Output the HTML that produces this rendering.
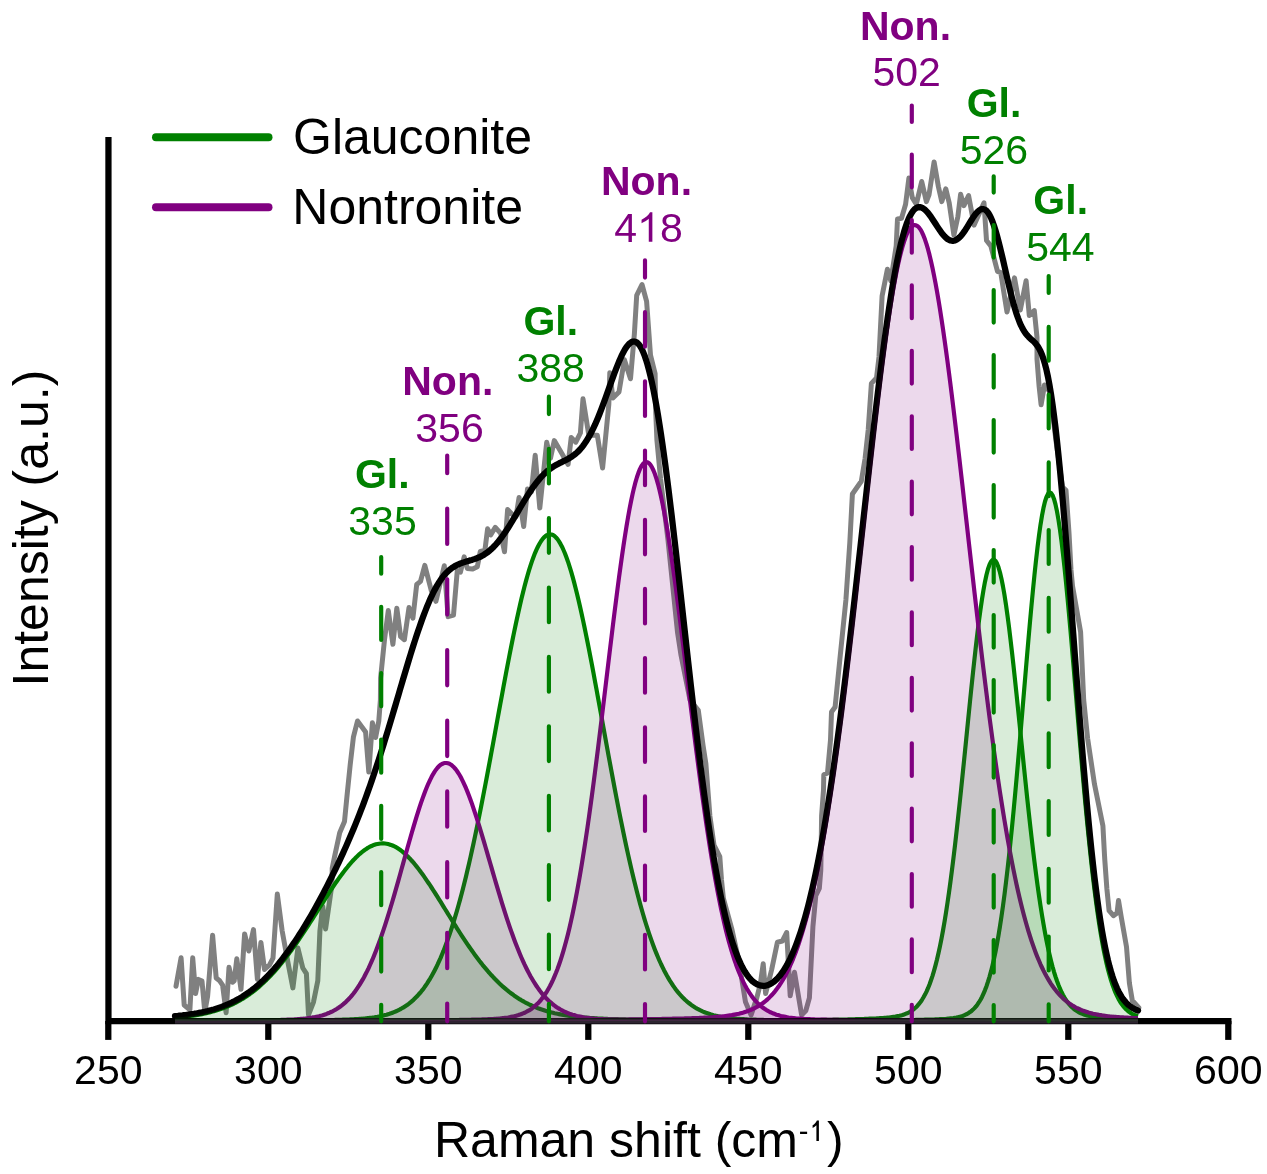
<!DOCTYPE html>
<html><head><meta charset="utf-8"><title>Raman</title>
<style>
html,body{margin:0;padding:0;background:#fff;}
body{width:1267px;height:1174px;overflow:hidden;}
svg{display:block;font-family:"Liberation Sans",sans-serif;will-change:transform;}
</style></head><body>
<svg width="1267" height="1174" viewBox="0 0 1267 1174">
<rect width="1267" height="1174" fill="#fff"/>

<!-- raw data -->
<path id="raw" d="M176.0,986.2 L181.1,957.8 L184.2,1005.0 L189.9,1009.9 L192.7,957.8 L195.6,993.6 L198.4,979.4 L202.0,981.1 L204.8,1012.1 L207.6,996.4 L212.6,935.3 L216.2,978.0 L219.7,980.8 L222.6,985.1 L226.1,1012.8 L229.0,967.3 L232.5,982.2 L234.2,980.8 L236.8,958.8 L241.0,989.3 L244.6,933.9 L248.8,951.0 L253.5,929.6 L257.4,979.4 L260.9,942.4 L264.5,969.4 L269.4,965.2 L273.0,958.1 L277.3,894.1 L282.2,931.1 L287.9,962.3 L292.9,987.9 L297.9,948.1 L302.8,968.0 L306.4,973.7 L308.5,1014.9 L313.5,1002.1 L317.8,980.8 L319.9,931.1 L322.7,906.2 L325.6,928.9 L332.0,884.2 L332.2,868.3 L334.8,855.4 L339.7,832.7 L344.5,821.4 L346.9,797.1 L350.2,764.7 L353.4,737.2 L357.5,721.0 L365.6,732.0 L368.8,772.0 L372.4,722.7 L375.6,737.5 L378.8,721.0 L380.4,700.0 L380.6,678.0 L384.5,639.7 L388.3,610.5 L392.9,644.3 L396.8,608.2 L400.6,636.6 L404.4,639.7 L409.0,607.5 L412.9,618.2 L416.7,584.5 L420.5,581.4 L424.8,565.3 L431.3,590.6 L435.9,601.3 L444.3,565.8 L448.1,616.7 L453.5,615.1 L457.3,570.4 L460.4,572.2 L464.2,556.9 L467.3,568.4 L472.7,569.1 L477.3,566.8 L480.3,551.5 L484.9,550.4 L487.6,528.8 L490.7,534.9 L495.3,527.3 L500.7,533.4 L504.5,551.8 L507.6,509.6 L512.9,515.0 L516.0,516.5 L519.1,497.4 L523.7,526.5 L527.5,488.9 L531.3,492.0 L535.2,455.2 L539.8,508.1 L546.7,442.2 L550.5,458.3 L554.3,440.6 L562.0,453.7 L568.1,464.4 L571.2,437.6 L575.8,442.2 L580.4,433.0 L583.0,398.8 L588.8,435.2 L597.3,435.2 L602.6,468.0 L608.8,404.6 L609.8,372.7 L612.9,398.0 L619.0,391.9 L624.4,359.7 L630.5,378.8 L634.4,333.6 L636.7,295.3 L642.0,284.5 L646.6,301.4 L650.5,355.1 L655.1,373.5 L655.8,413.3 L656.9,440.0 L660.6,479.0 L668.0,540.0 L677.5,632.0 L681.0,655.0 L690.0,700.0 L698.3,710.4 L703.0,745.0 L705.9,764.0 L706.5,772.0 L709.9,816.0 L714.0,845.0 L719.8,856.6 L721.5,880.0 L723.4,898.4 L732.0,929.7 L739.1,962.4 L745.5,1002.1 L751.1,1014.9 L756.8,997.9 L760.4,983.7 L763.2,963.8 L765.6,993.6 L771.7,969.5 L777.4,942.2 L782.4,941.0 L786.7,932.5 L790.2,995.8 L794.5,972.3 L801.6,1014.9 L805.8,1010.7 L809.4,997.9 L812.9,926.8 L815.8,895.6 L819.3,888.5 L820.8,870.0 L821.2,846.0 L821.6,816.0 L823.5,790.0 L823.8,774.8 L827.5,773.0 L830.5,740.0 L831.5,712.0 L835.1,707.0 L839.7,661.0 L845.9,600.0 L849.8,542.7 L852.4,494.0 L861.3,481.3 L865.1,458.3 L868.2,430.0 L871.4,383.4 L876.5,378.0 L879.0,357.0 L882.1,296.0 L887.4,269.3 L890.8,280.8 L896.2,245.9 L897.5,219.0 L901.5,218.4 L905.6,204.3 L908.9,178.1 L912.3,197.6 L916.3,204.3 L921.7,181.5 L926.4,201.6 L929.0,194.9 L934.1,162.0 L938.4,186.8 L941.8,201.6 L945.8,188.8 L949.2,202.9 L953.9,235.1 L957.9,216.4 L960.6,194.2 L963.9,205.6 L968.6,195.6 L972.0,213.7 L974.0,225.1 L984.0,202.9 L986.5,240.5 L990.8,245.9 L997.5,271.4 L1000.8,272.7 L1003.6,290.9 L1007.0,312.0 L1014.5,277.9 L1020.3,310.0 L1026.1,280.7 L1029.3,315.4 L1034.3,310.6 L1037.0,337.2 L1037.0,359.0 L1039.1,386.3 L1041.1,404.7 L1044.5,385.0 L1050.0,392.0 L1056.0,441.0 L1062.5,487.0 L1066.0,490.4 L1069.0,533.0 L1071.0,570.0 L1072.5,586.0 L1080.6,632.0 L1083.7,700.0 L1087.6,738.3 L1094.5,784.3 L1102.9,825.7 L1104.4,853.3 L1104.8,860.0 L1106.9,889.0 L1109.1,910.7 L1113.4,915.7 L1117.1,912.9 L1118.5,900.5 L1121.4,917.9 L1126.5,946.9 L1129.4,983.1 L1132.3,1000.5 L1138.8,1007.7" fill="none" stroke="#808080" stroke-width="5" stroke-linejoin="round" stroke-linecap="round"/>
<!-- component lines -->
<g id="lines"><path d="M175.0,1017.6 L176.5,1017.5 L178.0,1017.4 L179.5,1017.2 L181.0,1017.1 L182.5,1016.9 L184.0,1016.8 L185.5,1016.6 L187.0,1016.4 L188.5,1016.2 L190.0,1016.0 L191.5,1015.8 L193.0,1015.6 L194.5,1015.4 L196.0,1015.1 L197.5,1014.9 L199.0,1014.6 L200.5,1014.4 L202.0,1014.1 L203.5,1013.8 L205.0,1013.4 L206.5,1013.1 L208.0,1012.8 L209.5,1012.4 L211.0,1012.0 L212.5,1011.6 L214.0,1011.2 L215.5,1010.8 L217.0,1010.3 L218.5,1009.8 L220.0,1009.3 L221.5,1008.8 L223.0,1008.3 L224.5,1007.7 L226.0,1007.1 L227.5,1006.5 L229.0,1005.8 L230.5,1005.2 L232.0,1004.5 L233.5,1003.8 L235.0,1003.0 L236.5,1002.3 L238.0,1001.4 L239.5,1000.6 L241.0,999.7 L242.5,998.9 L244.0,997.9 L245.5,997.0 L247.0,996.0 L248.5,994.9 L250.0,993.9 L251.5,992.8 L253.0,991.7 L254.5,990.5 L256.0,989.3 L257.5,988.1 L259.0,986.8 L260.5,985.5 L262.0,984.1 L263.5,982.7 L265.0,981.3 L266.5,979.9 L268.0,978.4 L269.5,976.8 L271.0,975.2 L272.5,973.6 L274.0,972.0 L275.5,970.3 L277.0,968.6 L278.5,966.8 L280.0,965.0 L281.5,963.2 L283.0,961.3 L284.5,959.4 L286.0,957.5 L287.5,955.5 L289.0,953.5 L290.5,951.4 L292.0,949.4 L293.5,947.3 L295.0,945.2 L296.5,943.0 L298.0,940.8 L299.5,938.6 L301.0,936.4 L302.5,934.2 L304.0,931.9 L305.5,929.6 L307.0,927.3 L308.5,925.0 L310.0,922.7 L311.5,920.3 L313.0,918.0 L314.5,915.6 L316.0,913.3 L317.5,910.9 L319.0,908.5 L320.5,906.2 L322.0,903.8 L323.5,901.5 L325.0,899.1 L326.5,896.8 L328.0,894.5 L329.5,892.2 L331.0,889.9 L332.5,887.6 L334.0,885.4 L335.5,883.2 L337.0,881.0 L338.5,878.9 L340.0,876.8 L341.5,874.8 L343.0,872.7 L344.5,870.8 L346.0,868.8 L347.5,867.0 L349.0,865.1 L350.5,863.4 L352.0,861.7 L353.5,860.0 L355.0,858.5 L356.5,856.9 L358.0,855.5 L359.5,854.1 L361.0,852.8 L362.5,851.6 L364.0,850.5 L365.5,849.4 L367.0,848.4 L368.5,847.5 L370.0,846.7 L371.5,846.0 L373.0,845.3 L374.5,844.8 L376.0,844.3 L377.5,844.0 L379.0,843.7 L380.5,843.5 L382.0,843.4 L383.5,843.4 L385.0,843.5 L386.5,843.7 L388.0,844.0 L389.5,844.4 L391.0,844.9 L392.5,845.5 L394.0,846.2 L395.5,846.9 L397.0,847.8 L398.5,848.8 L400.0,849.8 L401.5,850.9 L403.0,852.1 L404.5,853.4 L406.0,854.8 L407.5,856.2 L409.0,857.8 L410.5,859.3 L412.0,861.0 L413.5,862.7 L415.0,864.5 L416.5,866.4 L418.0,868.3 L419.5,870.2 L421.0,872.3 L422.5,874.3 L424.0,876.4 L425.5,878.6 L427.0,880.8 L428.5,883.0 L430.0,885.2 L431.5,887.5 L433.0,889.8 L434.5,892.2 L436.0,894.5 L437.5,896.9 L439.0,899.3 L440.5,901.7 L442.0,904.1 L443.5,906.6 L445.0,909.0 L446.5,911.4 L448.0,913.8 L449.5,916.3 L451.0,918.7 L452.5,921.1 L454.0,923.5 L455.5,925.9 L457.0,928.3 L458.5,930.6 L460.0,933.0 L461.5,935.3 L463.0,937.6 L464.5,939.8 L466.0,942.1 L467.5,944.3 L469.0,946.5 L470.5,948.7 L472.0,950.8 L473.5,952.9 L475.0,955.0 L476.5,957.0 L478.0,959.0 L479.5,961.0 L481.0,962.9 L482.5,964.8 L484.0,966.6 L485.5,968.4 L487.0,970.2 L488.5,972.0 L490.0,973.6 L491.5,975.3 L493.0,976.9 L494.5,978.5 L496.0,980.0 L497.5,981.5 L499.0,983.0 L500.5,984.4 L502.0,985.8 L503.5,987.1 L505.0,988.4 L506.5,989.7 L508.0,990.9 L509.5,992.1 L511.0,993.2 L512.5,994.3 L514.0,995.4 L515.5,996.4 L517.0,997.4 L518.5,998.4 L520.0,999.4 L521.5,1000.3 L523.0,1001.1 L524.5,1002.0 L526.0,1002.8 L527.5,1003.5 L529.0,1004.3 L530.5,1005.0 L532.0,1005.7 L533.5,1006.4 L535.0,1007.0 L536.5,1007.6 L538.0,1008.2 L539.5,1008.7 L541.0,1009.3 L542.5,1009.8 L544.0,1010.3 L545.5,1010.8 L547.0,1011.2 L548.5,1011.6 L550.0,1012.0 L551.5,1012.4 L553.0,1012.8 L554.5,1013.2 L556.0,1013.5 L557.5,1013.8 L559.0,1014.1 L560.5,1014.4 L562.0,1014.7 L563.5,1015.0 L565.0,1015.2 L566.5,1015.5 L568.0,1015.7 L569.5,1015.9 L571.0,1016.1 L572.5,1016.3 L574.0,1016.5 L575.5,1016.7 L577.0,1016.9 L578.5,1017.0 L580.0,1017.2 L581.5,1017.3 L583.0,1017.5 L584.5,1017.6 L586.0,1017.7 L587.5,1017.8 L589.0,1017.9 L590.5,1018.0 L592.0,1018.1 L593.5,1018.2 L595.0,1018.3 L596.5,1018.4 L598.0,1018.5 L599.5,1018.6 L601.0,1018.6 L602.5,1018.7 L604.0,1018.8 L605.5,1018.8 L607.0,1018.9 L608.5,1019.0 L610.0,1019.0 L611.5,1019.1 L613.0,1019.1 L614.5,1019.2 L616.0,1019.2 L617.5,1019.2 L619.0,1019.3 L620.5,1019.3 L622.0,1019.4 L623.5,1019.4 L625.0,1019.4 L626.5,1019.5 L628.0,1019.5 L629.5,1019.5 L631.0,1019.5 L632.5,1019.6 L634.0,1019.6 L635.5,1019.6 L637.0,1019.7 L638.5,1019.7 L640.0,1019.7 L641.5,1019.7 L643.0,1019.7 L644.5,1019.8 L646.0,1019.8 L647.5,1019.8 L649.0,1019.8 L650.5,1019.8 L652.0,1019.9 L653.5,1019.9 L655.0,1019.9 L656.5,1019.9 L658.0,1019.9 L659.5,1019.9 L661.0,1020.0 L662.5,1020.0 L664.0,1020.0 L665.5,1020.0 L667.0,1020.0 L668.5,1020.0 L670.0,1020.0 L671.5,1020.1 L673.0,1020.1 L674.5,1020.1 L676.0,1020.1 L677.5,1020.1 L679.0,1020.1 L680.5,1020.1 L682.0,1020.1 L683.5,1020.2 L685.0,1020.2 L686.5,1020.2 L688.0,1020.2 L689.5,1020.2 L691.0,1020.2 L692.5,1020.2 L694.0,1020.2 L695.5,1020.2 L697.0,1020.2 L698.5,1020.3 L700.0,1020.3 L701.5,1020.3 L703.0,1020.3 L704.5,1020.3 L706.0,1020.3 L707.5,1020.3 L709.0,1020.3 L710.5,1020.3 L712.0,1020.3 L713.5,1020.3 L715.0,1020.4 L716.5,1020.4 L718.0,1020.4 L719.5,1020.4 L721.0,1020.4 L722.5,1020.4 L724.0,1020.4 L725.5,1020.4 L727.0,1020.4 L728.5,1020.4 L730.0,1020.4 L731.5,1020.4 L733.0,1020.4 L734.5,1020.4 L736.0,1020.5 L737.5,1020.5 L739.0,1020.5 L740.5,1020.5 L742.0,1020.5 L743.5,1020.5 L745.0,1020.5 L746.5,1020.5 L748.0,1020.5 L749.5,1020.5 L751.0,1020.5 L752.5,1020.5 L754.0,1020.5 L755.5,1020.5 L757.0,1020.5 L758.5,1020.5 L760.0,1020.6 L761.5,1020.6 L763.0,1020.6 L764.5,1020.6 L766.0,1020.6 L767.5,1020.6 L769.0,1020.6 L770.5,1020.6 L772.0,1020.6 L773.5,1020.6 L775.0,1020.6 L776.5,1020.6 L778.0,1020.6 L779.5,1020.6 L781.0,1020.6 L782.5,1020.6 L784.0,1020.6 L785.5,1020.6 L787.0,1020.6 L788.5,1020.7 L790.0,1020.7 L791.5,1020.7 L793.0,1020.7 L794.5,1020.7 L796.0,1020.7 L797.5,1020.7 L799.0,1020.7 L800.5,1020.7 L802.0,1020.7 L803.5,1020.7 L805.0,1020.7 L806.5,1020.7 L808.0,1020.7 L809.5,1020.7 L811.0,1020.7 L812.5,1020.7 L814.0,1020.7 L815.5,1020.7 L817.0,1020.7 L818.5,1020.7 L820.0,1020.7 L821.5,1020.7 L823.0,1020.7 L824.5,1020.8 L826.0,1020.8 L827.5,1020.8 L829.0,1020.8 L830.5,1020.8 L832.0,1020.8 L833.5,1020.8 L835.0,1020.8 L836.5,1020.8 L838.0,1020.8 L839.5,1020.8 L841.0,1020.8 L842.5,1020.8 L844.0,1020.8 L845.5,1020.8 L847.0,1020.8 L848.5,1020.8 L850.0,1020.8 L851.5,1020.8 L853.0,1020.8 L854.5,1020.8 L856.0,1020.8 L857.5,1020.8 L859.0,1020.8 L860.5,1020.8 L862.0,1020.8 L863.5,1020.8 L865.0,1020.8 L866.5,1020.8 L868.0,1020.8 L869.5,1020.8 L871.0,1020.8 L872.5,1020.9 L874.0,1020.9 L875.5,1020.9 L877.0,1020.9 L878.5,1020.9 L880.0,1020.9 L881.5,1020.9 L883.0,1020.9 L884.5,1020.9 L886.0,1020.9 L887.5,1020.9 L889.0,1020.9 L890.5,1020.9 L892.0,1020.9 L893.5,1020.9 L895.0,1020.9 L896.5,1020.9 L898.0,1020.9 L899.5,1020.9 L901.0,1020.9 L902.5,1020.9 L904.0,1020.9 L905.5,1020.9 L907.0,1020.9 L908.5,1020.9 L910.0,1020.9 L911.5,1020.9 L913.0,1020.9 L914.5,1020.9 L916.0,1020.9 L917.5,1020.9 L919.0,1020.9 L920.5,1020.9 L922.0,1020.9 L923.5,1020.9 L925.0,1020.9 L926.5,1020.9 L928.0,1020.9 L929.5,1020.9 L931.0,1020.9 L932.5,1020.9 L934.0,1020.9 L935.5,1020.9 L937.0,1020.9 L938.5,1020.9 L940.0,1021.0 L941.5,1021.0 L943.0,1021.0 L944.5,1021.0 L946.0,1021.0 L947.5,1021.0 L949.0,1021.0 L950.5,1021.0 L952.0,1021.0 L953.5,1021.0 L955.0,1021.0 L956.5,1021.0 L958.0,1021.0 L959.5,1021.0 L961.0,1021.0 L962.5,1021.0 L964.0,1021.0 L965.5,1021.0 L967.0,1021.0 L968.5,1021.0 L970.0,1021.0 L971.5,1021.0 L973.0,1021.0 L974.5,1021.0 L976.0,1021.0 L977.5,1021.0 L979.0,1021.0 L980.5,1021.0 L982.0,1021.0 L983.5,1021.0 L985.0,1021.0 L986.5,1021.0 L988.0,1021.0 L989.5,1021.0 L991.0,1021.0 L992.5,1021.0 L994.0,1021.0 L995.5,1021.0 L997.0,1021.0 L998.5,1021.0 L1000.0,1021.0 L1001.5,1021.0 L1003.0,1021.0 L1004.5,1021.0 L1006.0,1021.0 L1007.5,1021.0 L1009.0,1021.0 L1010.5,1021.0 L1012.0,1021.0 L1013.5,1021.0 L1015.0,1021.0 L1016.5,1021.0 L1018.0,1021.0 L1019.5,1021.0 L1021.0,1021.0 L1022.5,1021.0 L1024.0,1021.0 L1025.5,1021.0 L1027.0,1021.0 L1028.5,1021.0 L1030.0,1021.0 L1031.5,1021.0 L1033.0,1021.0 L1034.5,1021.0 L1036.0,1021.0 L1037.5,1021.0 L1039.0,1021.0 L1040.5,1021.0 L1042.0,1021.0 L1043.5,1021.1 L1045.0,1021.1 L1046.5,1021.1 L1048.0,1021.1 L1049.5,1021.1 L1051.0,1021.1 L1052.5,1021.1 L1054.0,1021.1 L1055.5,1021.1 L1057.0,1021.1 L1058.5,1021.1 L1060.0,1021.1 L1061.5,1021.1 L1063.0,1021.1 L1064.5,1021.1 L1066.0,1021.1 L1067.5,1021.1 L1069.0,1021.1 L1070.5,1021.1 L1072.0,1021.1 L1073.5,1021.1 L1075.0,1021.1 L1076.5,1021.1 L1078.0,1021.1 L1079.5,1021.1 L1081.0,1021.1 L1082.5,1021.1 L1084.0,1021.1 L1085.5,1021.1 L1087.0,1021.1 L1088.5,1021.1 L1090.0,1021.1 L1091.5,1021.1 L1093.0,1021.1 L1094.5,1021.1 L1096.0,1021.1 L1097.5,1021.1 L1099.0,1021.1 L1100.5,1021.1 L1102.0,1021.1 L1103.5,1021.1 L1105.0,1021.1 L1106.5,1021.1 L1108.0,1021.1 L1109.5,1021.1 L1111.0,1021.1 L1112.5,1021.1 L1114.0,1021.1 L1115.5,1021.1 L1117.0,1021.1 L1118.5,1021.1 L1120.0,1021.1 L1121.5,1021.1 L1123.0,1021.1 L1124.5,1021.1 L1126.0,1021.1 L1127.5,1021.1 L1129.0,1021.1 L1130.5,1021.1 L1132.0,1021.1 L1133.5,1021.1 L1135.0,1021.1 L1136.5,1021.1 L1138.0,1021.1" fill="none" stroke="#008000" stroke-width="4.17" stroke-linejoin="round"/><path d="M175.0,1020.9 L176.5,1020.9 L178.0,1020.9 L179.5,1020.9 L181.0,1020.9 L182.5,1020.9 L184.0,1020.9 L185.5,1020.9 L187.0,1020.9 L188.5,1020.9 L190.0,1020.8 L191.5,1020.8 L193.0,1020.8 L194.5,1020.8 L196.0,1020.8 L197.5,1020.8 L199.0,1020.8 L200.5,1020.8 L202.0,1020.8 L203.5,1020.8 L205.0,1020.8 L206.5,1020.8 L208.0,1020.8 L209.5,1020.8 L211.0,1020.8 L212.5,1020.8 L214.0,1020.8 L215.5,1020.8 L217.0,1020.8 L218.5,1020.8 L220.0,1020.8 L221.5,1020.8 L223.0,1020.8 L224.5,1020.8 L226.0,1020.7 L227.5,1020.7 L229.0,1020.7 L230.5,1020.7 L232.0,1020.7 L233.5,1020.7 L235.0,1020.7 L236.5,1020.7 L238.0,1020.7 L239.5,1020.7 L241.0,1020.7 L242.5,1020.7 L244.0,1020.7 L245.5,1020.7 L247.0,1020.7 L248.5,1020.7 L250.0,1020.7 L251.5,1020.7 L253.0,1020.6 L254.5,1020.6 L256.0,1020.6 L257.5,1020.6 L259.0,1020.6 L260.5,1020.6 L262.0,1020.6 L263.5,1020.6 L265.0,1020.6 L266.5,1020.6 L268.0,1020.6 L269.5,1020.6 L271.0,1020.6 L272.5,1020.6 L274.0,1020.5 L275.5,1020.5 L277.0,1020.5 L278.5,1020.5 L280.0,1020.5 L281.5,1020.5 L283.0,1020.5 L284.5,1020.5 L286.0,1020.5 L287.5,1020.5 L289.0,1020.5 L290.5,1020.5 L292.0,1020.4 L293.5,1020.4 L295.0,1020.4 L296.5,1020.4 L298.0,1020.4 L299.5,1020.4 L301.0,1020.4 L302.5,1020.4 L304.0,1020.4 L305.5,1020.3 L307.0,1020.3 L308.5,1020.3 L310.0,1020.3 L311.5,1020.3 L313.0,1020.3 L314.5,1020.3 L316.0,1020.2 L317.5,1020.2 L319.0,1020.2 L320.5,1020.2 L322.0,1020.2 L323.5,1020.1 L325.0,1020.1 L326.5,1020.1 L328.0,1020.1 L329.5,1020.1 L331.0,1020.0 L332.5,1020.0 L334.0,1020.0 L335.5,1019.9 L337.0,1019.9 L338.5,1019.9 L340.0,1019.8 L341.5,1019.8 L343.0,1019.7 L344.5,1019.7 L346.0,1019.6 L347.5,1019.6 L349.0,1019.5 L350.5,1019.4 L352.0,1019.4 L353.5,1019.3 L355.0,1019.2 L356.5,1019.1 L358.0,1019.0 L359.5,1018.9 L361.0,1018.8 L362.5,1018.7 L364.0,1018.5 L365.5,1018.4 L367.0,1018.2 L368.5,1018.1 L370.0,1017.9 L371.5,1017.7 L373.0,1017.5 L374.5,1017.3 L376.0,1017.0 L377.5,1016.8 L379.0,1016.5 L380.5,1016.2 L382.0,1015.8 L383.5,1015.5 L385.0,1015.1 L386.5,1014.7 L388.0,1014.2 L389.5,1013.8 L391.0,1013.3 L392.5,1012.7 L394.0,1012.1 L395.5,1011.5 L397.0,1010.8 L398.5,1010.1 L400.0,1009.4 L401.5,1008.5 L403.0,1007.7 L404.5,1006.7 L406.0,1005.7 L407.5,1004.7 L409.0,1003.6 L410.5,1002.4 L412.0,1001.1 L413.5,999.8 L415.0,998.3 L416.5,996.8 L418.0,995.2 L419.5,993.5 L421.0,991.8 L422.5,989.9 L424.0,987.9 L425.5,985.8 L427.0,983.6 L428.5,981.2 L430.0,978.8 L431.5,976.2 L433.0,973.5 L434.5,970.7 L436.0,967.8 L437.5,964.7 L439.0,961.4 L440.5,958.1 L442.0,954.5 L443.5,950.9 L445.0,947.0 L446.5,943.0 L448.0,938.9 L449.5,934.6 L451.0,930.1 L452.5,925.5 L454.0,920.7 L455.5,915.7 L457.0,910.6 L458.5,905.3 L460.0,899.9 L461.5,894.2 L463.0,888.4 L464.5,882.5 L466.0,876.4 L467.5,870.1 L469.0,863.7 L470.5,857.1 L472.0,850.3 L473.5,843.5 L475.0,836.4 L476.5,829.3 L478.0,822.0 L479.5,814.6 L481.0,807.1 L482.5,799.4 L484.0,791.7 L485.5,783.9 L487.0,776.0 L488.5,768.0 L490.0,760.0 L491.5,751.9 L493.0,743.8 L494.5,735.6 L496.0,727.4 L497.5,719.2 L499.0,711.0 L500.5,702.9 L502.0,694.8 L503.5,686.7 L505.0,678.7 L506.5,670.7 L508.0,662.9 L509.5,655.1 L511.0,647.5 L512.5,640.0 L514.0,632.7 L515.5,625.5 L517.0,618.5 L518.5,611.7 L520.0,605.0 L521.5,598.6 L523.0,592.5 L524.5,586.6 L526.0,580.9 L527.5,575.5 L529.0,570.4 L530.5,565.6 L532.0,561.2 L533.5,557.0 L535.0,553.1 L536.5,549.6 L538.0,546.5 L539.5,543.7 L541.0,541.2 L542.5,539.1 L544.0,537.4 L545.5,536.1 L547.0,535.1 L548.5,534.5 L550.0,534.4 L551.5,534.6 L553.0,535.1 L554.5,536.1 L556.0,537.5 L557.5,539.2 L559.0,541.4 L560.5,543.9 L562.0,546.7 L563.5,550.0 L565.0,553.5 L566.5,557.5 L568.0,561.7 L569.5,566.3 L571.0,571.2 L572.5,576.4 L574.0,581.9 L575.5,587.7 L577.0,593.7 L578.5,600.0 L580.0,606.5 L581.5,613.2 L583.0,620.1 L584.5,627.3 L586.0,634.6 L587.5,642.0 L589.0,649.6 L590.5,657.4 L592.0,665.2 L593.5,673.2 L595.0,681.3 L596.5,689.4 L598.0,697.6 L599.5,705.8 L601.0,714.0 L602.5,722.3 L604.0,730.6 L605.5,738.8 L607.0,747.1 L608.5,755.3 L610.0,763.4 L611.5,771.5 L613.0,779.5 L614.5,787.5 L616.0,795.4 L617.5,803.1 L619.0,810.8 L620.5,818.3 L622.0,825.7 L623.5,833.0 L625.0,840.2 L626.5,847.2 L628.0,854.1 L629.5,860.8 L631.0,867.4 L632.5,873.8 L634.0,880.0 L635.5,886.1 L637.0,892.0 L638.5,897.8 L640.0,903.4 L641.5,908.8 L643.0,914.0 L644.5,919.1 L646.0,924.0 L647.5,928.7 L649.0,933.3 L650.5,937.7 L652.0,941.9 L653.5,946.0 L655.0,949.9 L656.5,953.6 L658.0,957.2 L659.5,960.7 L661.0,964.0 L662.5,967.1 L664.0,970.2 L665.5,973.0 L667.0,975.8 L668.5,978.4 L670.0,980.9 L671.5,983.2 L673.0,985.5 L674.5,987.6 L676.0,989.7 L677.5,991.6 L679.0,993.4 L680.5,995.1 L682.0,996.7 L683.5,998.2 L685.0,999.7 L686.5,1001.1 L688.0,1002.3 L689.5,1003.5 L691.0,1004.7 L692.5,1005.7 L694.0,1006.7 L695.5,1007.7 L697.0,1008.6 L698.5,1009.4 L700.0,1010.2 L701.5,1010.9 L703.0,1011.6 L704.5,1012.2 L706.0,1012.8 L707.5,1013.3 L709.0,1013.8 L710.5,1014.3 L712.0,1014.7 L713.5,1015.2 L715.0,1015.5 L716.5,1015.9 L718.0,1016.2 L719.5,1016.5 L721.0,1016.8 L722.5,1017.1 L724.0,1017.3 L725.5,1017.5 L727.0,1017.8 L728.5,1017.9 L730.0,1018.1 L731.5,1018.3 L733.0,1018.4 L734.5,1018.6 L736.0,1018.7 L737.5,1018.8 L739.0,1018.9 L740.5,1019.1 L742.0,1019.1 L743.5,1019.2 L745.0,1019.3 L746.5,1019.4 L748.0,1019.5 L749.5,1019.5 L751.0,1019.6 L752.5,1019.6 L754.0,1019.7 L755.5,1019.7 L757.0,1019.8 L758.5,1019.8 L760.0,1019.9 L761.5,1019.9 L763.0,1019.9 L764.5,1020.0 L766.0,1020.0 L767.5,1020.0 L769.0,1020.1 L770.5,1020.1 L772.0,1020.1 L773.5,1020.1 L775.0,1020.2 L776.5,1020.2 L778.0,1020.2 L779.5,1020.2 L781.0,1020.2 L782.5,1020.3 L784.0,1020.3 L785.5,1020.3 L787.0,1020.3 L788.5,1020.3 L790.0,1020.3 L791.5,1020.3 L793.0,1020.4 L794.5,1020.4 L796.0,1020.4 L797.5,1020.4 L799.0,1020.4 L800.5,1020.4 L802.0,1020.4 L803.5,1020.4 L805.0,1020.4 L806.5,1020.5 L808.0,1020.5 L809.5,1020.5 L811.0,1020.5 L812.5,1020.5 L814.0,1020.5 L815.5,1020.5 L817.0,1020.5 L818.5,1020.5 L820.0,1020.5 L821.5,1020.5 L823.0,1020.5 L824.5,1020.6 L826.0,1020.6 L827.5,1020.6 L829.0,1020.6 L830.5,1020.6 L832.0,1020.6 L833.5,1020.6 L835.0,1020.6 L836.5,1020.6 L838.0,1020.6 L839.5,1020.6 L841.0,1020.6 L842.5,1020.6 L844.0,1020.6 L845.5,1020.7 L847.0,1020.7 L848.5,1020.7 L850.0,1020.7 L851.5,1020.7 L853.0,1020.7 L854.5,1020.7 L856.0,1020.7 L857.5,1020.7 L859.0,1020.7 L860.5,1020.7 L862.0,1020.7 L863.5,1020.7 L865.0,1020.7 L866.5,1020.7 L868.0,1020.7 L869.5,1020.7 L871.0,1020.7 L872.5,1020.8 L874.0,1020.8 L875.5,1020.8 L877.0,1020.8 L878.5,1020.8 L880.0,1020.8 L881.5,1020.8 L883.0,1020.8 L884.5,1020.8 L886.0,1020.8 L887.5,1020.8 L889.0,1020.8 L890.5,1020.8 L892.0,1020.8 L893.5,1020.8 L895.0,1020.8 L896.5,1020.8 L898.0,1020.8 L899.5,1020.8 L901.0,1020.8 L902.5,1020.8 L904.0,1020.8 L905.5,1020.8 L907.0,1020.9 L908.5,1020.9 L910.0,1020.9 L911.5,1020.9 L913.0,1020.9 L914.5,1020.9 L916.0,1020.9 L917.5,1020.9 L919.0,1020.9 L920.5,1020.9 L922.0,1020.9 L923.5,1020.9 L925.0,1020.9 L926.5,1020.9 L928.0,1020.9 L929.5,1020.9 L931.0,1020.9 L932.5,1020.9 L934.0,1020.9 L935.5,1020.9 L937.0,1020.9 L938.5,1020.9 L940.0,1020.9 L941.5,1020.9 L943.0,1020.9 L944.5,1020.9 L946.0,1020.9 L947.5,1020.9 L949.0,1020.9 L950.5,1020.9 L952.0,1020.9 L953.5,1020.9 L955.0,1020.9 L956.5,1021.0 L958.0,1021.0 L959.5,1021.0 L961.0,1021.0 L962.5,1021.0 L964.0,1021.0 L965.5,1021.0 L967.0,1021.0 L968.5,1021.0 L970.0,1021.0 L971.5,1021.0 L973.0,1021.0 L974.5,1021.0 L976.0,1021.0 L977.5,1021.0 L979.0,1021.0 L980.5,1021.0 L982.0,1021.0 L983.5,1021.0 L985.0,1021.0 L986.5,1021.0 L988.0,1021.0 L989.5,1021.0 L991.0,1021.0 L992.5,1021.0 L994.0,1021.0 L995.5,1021.0 L997.0,1021.0 L998.5,1021.0 L1000.0,1021.0 L1001.5,1021.0 L1003.0,1021.0 L1004.5,1021.0 L1006.0,1021.0 L1007.5,1021.0 L1009.0,1021.0 L1010.5,1021.0 L1012.0,1021.0 L1013.5,1021.0 L1015.0,1021.0 L1016.5,1021.0 L1018.0,1021.0 L1019.5,1021.0 L1021.0,1021.0 L1022.5,1021.0 L1024.0,1021.0 L1025.5,1021.0 L1027.0,1021.0 L1028.5,1021.0 L1030.0,1021.0 L1031.5,1021.1 L1033.0,1021.1 L1034.5,1021.1 L1036.0,1021.1 L1037.5,1021.1 L1039.0,1021.1 L1040.5,1021.1 L1042.0,1021.1 L1043.5,1021.1 L1045.0,1021.1 L1046.5,1021.1 L1048.0,1021.1 L1049.5,1021.1 L1051.0,1021.1 L1052.5,1021.1 L1054.0,1021.1 L1055.5,1021.1 L1057.0,1021.1 L1058.5,1021.1 L1060.0,1021.1 L1061.5,1021.1 L1063.0,1021.1 L1064.5,1021.1 L1066.0,1021.1 L1067.5,1021.1 L1069.0,1021.1 L1070.5,1021.1 L1072.0,1021.1 L1073.5,1021.1 L1075.0,1021.1 L1076.5,1021.1 L1078.0,1021.1 L1079.5,1021.1 L1081.0,1021.1 L1082.5,1021.1 L1084.0,1021.1 L1085.5,1021.1 L1087.0,1021.1 L1088.5,1021.1 L1090.0,1021.1 L1091.5,1021.1 L1093.0,1021.1 L1094.5,1021.1 L1096.0,1021.1 L1097.5,1021.1 L1099.0,1021.1 L1100.5,1021.1 L1102.0,1021.1 L1103.5,1021.1 L1105.0,1021.1 L1106.5,1021.1 L1108.0,1021.1 L1109.5,1021.1 L1111.0,1021.1 L1112.5,1021.1 L1114.0,1021.1 L1115.5,1021.1 L1117.0,1021.1 L1118.5,1021.1 L1120.0,1021.1 L1121.5,1021.1 L1123.0,1021.1 L1124.5,1021.1 L1126.0,1021.1 L1127.5,1021.1 L1129.0,1021.1 L1130.5,1021.1 L1132.0,1021.1 L1133.5,1021.1 L1135.0,1021.1 L1136.5,1021.1 L1138.0,1021.1" fill="none" stroke="#008000" stroke-width="4.17" stroke-linejoin="round"/><path d="M175.0,1021.2 L176.5,1021.2 L178.0,1021.2 L179.5,1021.2 L181.0,1021.2 L182.5,1021.2 L184.0,1021.2 L185.5,1021.2 L187.0,1021.2 L188.5,1021.2 L190.0,1021.2 L191.5,1021.2 L193.0,1021.2 L194.5,1021.2 L196.0,1021.2 L197.5,1021.2 L199.0,1021.2 L200.5,1021.2 L202.0,1021.2 L203.5,1021.2 L205.0,1021.2 L206.5,1021.2 L208.0,1021.2 L209.5,1021.2 L211.0,1021.2 L212.5,1021.2 L214.0,1021.2 L215.5,1021.2 L217.0,1021.2 L218.5,1021.2 L220.0,1021.2 L221.5,1021.2 L223.0,1021.2 L224.5,1021.2 L226.0,1021.2 L227.5,1021.2 L229.0,1021.2 L230.5,1021.2 L232.0,1021.2 L233.5,1021.2 L235.0,1021.2 L236.5,1021.2 L238.0,1021.2 L239.5,1021.2 L241.0,1021.2 L242.5,1021.2 L244.0,1021.2 L245.5,1021.2 L247.0,1021.2 L248.5,1021.2 L250.0,1021.2 L251.5,1021.2 L253.0,1021.2 L254.5,1021.2 L256.0,1021.2 L257.5,1021.2 L259.0,1021.2 L260.5,1021.2 L262.0,1021.2 L263.5,1021.2 L265.0,1021.2 L266.5,1021.2 L268.0,1021.2 L269.5,1021.2 L271.0,1021.2 L272.5,1021.2 L274.0,1021.2 L275.5,1021.2 L277.0,1021.2 L278.5,1021.2 L280.0,1021.2 L281.5,1021.2 L283.0,1021.2 L284.5,1021.2 L286.0,1021.2 L287.5,1021.2 L289.0,1021.2 L290.5,1021.2 L292.0,1021.2 L293.5,1021.2 L295.0,1021.2 L296.5,1021.2 L298.0,1021.2 L299.5,1021.2 L301.0,1021.2 L302.5,1021.2 L304.0,1021.2 L305.5,1021.2 L307.0,1021.2 L308.5,1021.2 L310.0,1021.2 L311.5,1021.2 L313.0,1021.2 L314.5,1021.2 L316.0,1021.2 L317.5,1021.2 L319.0,1021.2 L320.5,1021.2 L322.0,1021.2 L323.5,1021.2 L325.0,1021.2 L326.5,1021.2 L328.0,1021.2 L329.5,1021.2 L331.0,1021.2 L332.5,1021.2 L334.0,1021.2 L335.5,1021.2 L337.0,1021.2 L338.5,1021.2 L340.0,1021.2 L341.5,1021.2 L343.0,1021.2 L344.5,1021.2 L346.0,1021.2 L347.5,1021.2 L349.0,1021.2 L350.5,1021.2 L352.0,1021.2 L353.5,1021.2 L355.0,1021.2 L356.5,1021.2 L358.0,1021.2 L359.5,1021.2 L361.0,1021.2 L362.5,1021.2 L364.0,1021.2 L365.5,1021.2 L367.0,1021.2 L368.5,1021.2 L370.0,1021.2 L371.5,1021.2 L373.0,1021.2 L374.5,1021.2 L376.0,1021.2 L377.5,1021.2 L379.0,1021.2 L380.5,1021.2 L382.0,1021.2 L383.5,1021.2 L385.0,1021.2 L386.5,1021.2 L388.0,1021.2 L389.5,1021.2 L391.0,1021.2 L392.5,1021.2 L394.0,1021.2 L395.5,1021.2 L397.0,1021.2 L398.5,1021.2 L400.0,1021.2 L401.5,1021.2 L403.0,1021.2 L404.5,1021.2 L406.0,1021.2 L407.5,1021.2 L409.0,1021.2 L410.5,1021.2 L412.0,1021.2 L413.5,1021.2 L415.0,1021.2 L416.5,1021.2 L418.0,1021.2 L419.5,1021.2 L421.0,1021.2 L422.5,1021.2 L424.0,1021.2 L425.5,1021.2 L427.0,1021.2 L428.5,1021.2 L430.0,1021.2 L431.5,1021.2 L433.0,1021.2 L434.5,1021.2 L436.0,1021.2 L437.5,1021.2 L439.0,1021.2 L440.5,1021.2 L442.0,1021.2 L443.5,1021.2 L445.0,1021.2 L446.5,1021.2 L448.0,1021.2 L449.5,1021.2 L451.0,1021.2 L452.5,1021.2 L454.0,1021.2 L455.5,1021.2 L457.0,1021.2 L458.5,1021.2 L460.0,1021.2 L461.5,1021.2 L463.0,1021.2 L464.5,1021.2 L466.0,1021.2 L467.5,1021.2 L469.0,1021.1 L470.5,1021.1 L472.0,1021.1 L473.5,1021.1 L475.0,1021.1 L476.5,1021.1 L478.0,1021.1 L479.5,1021.1 L481.0,1021.1 L482.5,1021.1 L484.0,1021.1 L485.5,1021.1 L487.0,1021.1 L488.5,1021.1 L490.0,1021.1 L491.5,1021.1 L493.0,1021.1 L494.5,1021.1 L496.0,1021.1 L497.5,1021.1 L499.0,1021.1 L500.5,1021.1 L502.0,1021.1 L503.5,1021.1 L505.0,1021.1 L506.5,1021.1 L508.0,1021.1 L509.5,1021.1 L511.0,1021.1 L512.5,1021.1 L514.0,1021.1 L515.5,1021.1 L517.0,1021.1 L518.5,1021.1 L520.0,1021.1 L521.5,1021.1 L523.0,1021.1 L524.5,1021.1 L526.0,1021.1 L527.5,1021.1 L529.0,1021.1 L530.5,1021.1 L532.0,1021.1 L533.5,1021.1 L535.0,1021.1 L536.5,1021.1 L538.0,1021.1 L539.5,1021.1 L541.0,1021.1 L542.5,1021.1 L544.0,1021.1 L545.5,1021.1 L547.0,1021.1 L548.5,1021.1 L550.0,1021.1 L551.5,1021.1 L553.0,1021.1 L554.5,1021.1 L556.0,1021.1 L557.5,1021.1 L559.0,1021.1 L560.5,1021.1 L562.0,1021.1 L563.5,1021.1 L565.0,1021.1 L566.5,1021.1 L568.0,1021.1 L569.5,1021.1 L571.0,1021.1 L572.5,1021.1 L574.0,1021.1 L575.5,1021.1 L577.0,1021.1 L578.5,1021.1 L580.0,1021.1 L581.5,1021.1 L583.0,1021.1 L584.5,1021.1 L586.0,1021.1 L587.5,1021.0 L589.0,1021.0 L590.5,1021.0 L592.0,1021.0 L593.5,1021.0 L595.0,1021.0 L596.5,1021.0 L598.0,1021.0 L599.5,1021.0 L601.0,1021.0 L602.5,1021.0 L604.0,1021.0 L605.5,1021.0 L607.0,1021.0 L608.5,1021.0 L610.0,1021.0 L611.5,1021.0 L613.0,1021.0 L614.5,1021.0 L616.0,1021.0 L617.5,1021.0 L619.0,1021.0 L620.5,1021.0 L622.0,1021.0 L623.5,1021.0 L625.0,1021.0 L626.5,1021.0 L628.0,1021.0 L629.5,1021.0 L631.0,1021.0 L632.5,1021.0 L634.0,1021.0 L635.5,1021.0 L637.0,1021.0 L638.5,1021.0 L640.0,1021.0 L641.5,1021.0 L643.0,1021.0 L644.5,1021.0 L646.0,1021.0 L647.5,1021.0 L649.0,1021.0 L650.5,1020.9 L652.0,1020.9 L653.5,1020.9 L655.0,1020.9 L656.5,1020.9 L658.0,1020.9 L659.5,1020.9 L661.0,1020.9 L662.5,1020.9 L664.0,1020.9 L665.5,1020.9 L667.0,1020.9 L668.5,1020.9 L670.0,1020.9 L671.5,1020.9 L673.0,1020.9 L674.5,1020.9 L676.0,1020.9 L677.5,1020.9 L679.0,1020.9 L680.5,1020.9 L682.0,1020.9 L683.5,1020.9 L685.0,1020.9 L686.5,1020.9 L688.0,1020.9 L689.5,1020.9 L691.0,1020.9 L692.5,1020.8 L694.0,1020.8 L695.5,1020.8 L697.0,1020.8 L698.5,1020.8 L700.0,1020.8 L701.5,1020.8 L703.0,1020.8 L704.5,1020.8 L706.0,1020.8 L707.5,1020.8 L709.0,1020.8 L710.5,1020.8 L712.0,1020.8 L713.5,1020.8 L715.0,1020.8 L716.5,1020.8 L718.0,1020.8 L719.5,1020.8 L721.0,1020.7 L722.5,1020.7 L724.0,1020.7 L725.5,1020.7 L727.0,1020.7 L728.5,1020.7 L730.0,1020.7 L731.5,1020.7 L733.0,1020.7 L734.5,1020.7 L736.0,1020.7 L737.5,1020.7 L739.0,1020.7 L740.5,1020.7 L742.0,1020.7 L743.5,1020.6 L745.0,1020.6 L746.5,1020.6 L748.0,1020.6 L749.5,1020.6 L751.0,1020.6 L752.5,1020.6 L754.0,1020.6 L755.5,1020.6 L757.0,1020.6 L758.5,1020.6 L760.0,1020.6 L761.5,1020.5 L763.0,1020.5 L764.5,1020.5 L766.0,1020.5 L767.5,1020.5 L769.0,1020.5 L770.5,1020.5 L772.0,1020.5 L773.5,1020.5 L775.0,1020.4 L776.5,1020.4 L778.0,1020.4 L779.5,1020.4 L781.0,1020.4 L782.5,1020.4 L784.0,1020.4 L785.5,1020.4 L787.0,1020.3 L788.5,1020.3 L790.0,1020.3 L791.5,1020.3 L793.0,1020.3 L794.5,1020.3 L796.0,1020.3 L797.5,1020.2 L799.0,1020.2 L800.5,1020.2 L802.0,1020.2 L803.5,1020.2 L805.0,1020.2 L806.5,1020.1 L808.0,1020.1 L809.5,1020.1 L811.0,1020.1 L812.5,1020.1 L814.0,1020.0 L815.5,1020.0 L817.0,1020.0 L818.5,1020.0 L820.0,1020.0 L821.5,1019.9 L823.0,1019.9 L824.5,1019.9 L826.0,1019.9 L827.5,1019.8 L829.0,1019.8 L830.5,1019.8 L832.0,1019.8 L833.5,1019.7 L835.0,1019.7 L836.5,1019.7 L838.0,1019.7 L839.5,1019.6 L841.0,1019.6 L842.5,1019.6 L844.0,1019.5 L845.5,1019.5 L847.0,1019.5 L848.5,1019.4 L850.0,1019.4 L851.5,1019.3 L853.0,1019.3 L854.5,1019.3 L856.0,1019.2 L857.5,1019.2 L859.0,1019.1 L860.5,1019.1 L862.0,1019.0 L863.5,1019.0 L865.0,1018.9 L866.5,1018.9 L868.0,1018.8 L869.5,1018.7 L871.0,1018.7 L872.5,1018.6 L874.0,1018.5 L875.5,1018.5 L877.0,1018.4 L878.5,1018.3 L880.0,1018.2 L881.5,1018.1 L883.0,1018.0 L884.5,1017.9 L886.0,1017.8 L887.5,1017.6 L889.0,1017.5 L890.5,1017.3 L892.0,1017.1 L893.5,1016.9 L895.0,1016.7 L896.5,1016.4 L898.0,1016.1 L899.5,1015.8 L901.0,1015.4 L902.5,1015.0 L904.0,1014.5 L905.5,1013.9 L907.0,1013.3 L908.5,1012.6 L910.0,1011.8 L911.5,1010.8 L913.0,1009.8 L914.5,1008.6 L916.0,1007.2 L917.5,1005.7 L919.0,1003.9 L920.5,1002.0 L922.0,999.8 L923.5,997.3 L925.0,994.6 L926.5,991.6 L928.0,988.2 L929.5,984.5 L931.0,980.3 L932.5,975.8 L934.0,970.8 L935.5,965.4 L937.0,959.5 L938.5,953.0 L940.0,946.1 L941.5,938.6 L943.0,930.5 L944.5,921.8 L946.0,912.6 L947.5,902.8 L949.0,892.4 L950.5,881.4 L952.0,869.8 L953.5,857.8 L955.0,845.2 L956.5,832.1 L958.0,818.6 L959.5,804.6 L961.0,790.4 L962.5,775.8 L964.0,761.1 L965.5,746.2 L967.0,731.2 L968.5,716.3 L970.0,701.4 L971.5,686.8 L973.0,672.5 L974.5,658.7 L976.0,645.3 L977.5,632.6 L979.0,620.5 L980.5,609.4 L982.0,599.1 L983.5,589.8 L985.0,581.7 L986.5,574.7 L988.0,569.0 L989.5,564.7 L991.0,561.6 L992.5,560.0 L994.0,559.8 L995.5,560.9 L997.0,563.4 L998.5,567.3 L1000.0,572.5 L1001.5,578.9 L1003.0,586.5 L1004.5,595.2 L1006.0,604.9 L1007.5,615.6 L1009.0,627.1 L1010.5,639.4 L1012.0,652.3 L1013.5,665.8 L1015.0,679.7 L1016.5,694.0 L1018.0,708.5 L1019.5,723.2 L1021.0,738.0 L1022.5,752.8 L1024.0,767.4 L1025.5,781.9 L1027.0,796.2 L1028.5,810.1 L1030.0,823.8 L1031.5,837.0 L1033.0,849.7 L1034.5,862.0 L1036.0,873.7 L1037.5,885.0 L1039.0,895.6 L1040.5,905.7 L1042.0,915.3 L1043.5,924.2 L1045.0,932.6 L1046.5,940.5 L1048.0,947.7 L1049.5,954.5 L1051.0,960.7 L1052.5,966.5 L1054.0,971.8 L1055.5,976.6 L1057.0,981.0 L1058.5,985.0 L1060.0,988.7 L1061.5,992.0 L1063.0,994.9 L1064.5,997.6 L1066.0,1000.0 L1067.5,1002.1 L1069.0,1004.0 L1070.5,1005.7 L1072.0,1007.2 L1073.5,1008.6 L1075.0,1009.8 L1076.5,1010.8 L1078.0,1011.7 L1079.5,1012.6 L1081.0,1013.3 L1082.5,1013.9 L1084.0,1014.5 L1085.5,1015.0 L1087.0,1015.4 L1088.5,1015.8 L1090.0,1016.1 L1091.5,1016.4 L1093.0,1016.7 L1094.5,1016.9 L1096.0,1017.1 L1097.5,1017.3 L1099.0,1017.5 L1100.5,1017.6 L1102.0,1017.8 L1103.5,1017.9 L1105.0,1018.0 L1106.5,1018.1 L1108.0,1018.2 L1109.5,1018.3 L1111.0,1018.4 L1112.5,1018.5 L1114.0,1018.5 L1115.5,1018.6 L1117.0,1018.7 L1118.5,1018.7 L1120.0,1018.8 L1121.5,1018.8 L1123.0,1018.9 L1124.5,1019.0 L1126.0,1019.0 L1127.5,1019.1 L1129.0,1019.1 L1130.5,1019.1 L1132.0,1019.2 L1133.5,1019.2 L1135.0,1019.3 L1136.5,1019.3 L1138.0,1019.4" fill="none" stroke="#008000" stroke-width="4.17" stroke-linejoin="round"/><path d="M175.0,1021.3 L176.5,1021.3 L178.0,1021.3 L179.5,1021.3 L181.0,1021.3 L182.5,1021.3 L184.0,1021.3 L185.5,1021.3 L187.0,1021.3 L188.5,1021.3 L190.0,1021.3 L191.5,1021.3 L193.0,1021.3 L194.5,1021.3 L196.0,1021.3 L197.5,1021.3 L199.0,1021.3 L200.5,1021.3 L202.0,1021.3 L203.5,1021.3 L205.0,1021.3 L206.5,1021.3 L208.0,1021.3 L209.5,1021.3 L211.0,1021.3 L212.5,1021.3 L214.0,1021.3 L215.5,1021.3 L217.0,1021.3 L218.5,1021.3 L220.0,1021.3 L221.5,1021.3 L223.0,1021.3 L224.5,1021.3 L226.0,1021.3 L227.5,1021.3 L229.0,1021.3 L230.5,1021.3 L232.0,1021.3 L233.5,1021.3 L235.0,1021.3 L236.5,1021.3 L238.0,1021.3 L239.5,1021.3 L241.0,1021.3 L242.5,1021.3 L244.0,1021.3 L245.5,1021.3 L247.0,1021.3 L248.5,1021.3 L250.0,1021.3 L251.5,1021.3 L253.0,1021.3 L254.5,1021.3 L256.0,1021.3 L257.5,1021.3 L259.0,1021.3 L260.5,1021.3 L262.0,1021.3 L263.5,1021.3 L265.0,1021.3 L266.5,1021.3 L268.0,1021.3 L269.5,1021.3 L271.0,1021.3 L272.5,1021.3 L274.0,1021.3 L275.5,1021.3 L277.0,1021.3 L278.5,1021.3 L280.0,1021.3 L281.5,1021.3 L283.0,1021.3 L284.5,1021.3 L286.0,1021.3 L287.5,1021.3 L289.0,1021.3 L290.5,1021.3 L292.0,1021.3 L293.5,1021.3 L295.0,1021.3 L296.5,1021.3 L298.0,1021.3 L299.5,1021.3 L301.0,1021.3 L302.5,1021.3 L304.0,1021.3 L305.5,1021.3 L307.0,1021.3 L308.5,1021.3 L310.0,1021.3 L311.5,1021.3 L313.0,1021.3 L314.5,1021.3 L316.0,1021.3 L317.5,1021.3 L319.0,1021.3 L320.5,1021.3 L322.0,1021.3 L323.5,1021.3 L325.0,1021.3 L326.5,1021.3 L328.0,1021.3 L329.5,1021.3 L331.0,1021.3 L332.5,1021.3 L334.0,1021.3 L335.5,1021.2 L337.0,1021.2 L338.5,1021.2 L340.0,1021.2 L341.5,1021.2 L343.0,1021.2 L344.5,1021.2 L346.0,1021.2 L347.5,1021.2 L349.0,1021.2 L350.5,1021.2 L352.0,1021.2 L353.5,1021.2 L355.0,1021.2 L356.5,1021.2 L358.0,1021.2 L359.5,1021.2 L361.0,1021.2 L362.5,1021.2 L364.0,1021.2 L365.5,1021.2 L367.0,1021.2 L368.5,1021.2 L370.0,1021.2 L371.5,1021.2 L373.0,1021.2 L374.5,1021.2 L376.0,1021.2 L377.5,1021.2 L379.0,1021.2 L380.5,1021.2 L382.0,1021.2 L383.5,1021.2 L385.0,1021.2 L386.5,1021.2 L388.0,1021.2 L389.5,1021.2 L391.0,1021.2 L392.5,1021.2 L394.0,1021.2 L395.5,1021.2 L397.0,1021.2 L398.5,1021.2 L400.0,1021.2 L401.5,1021.2 L403.0,1021.2 L404.5,1021.2 L406.0,1021.2 L407.5,1021.2 L409.0,1021.2 L410.5,1021.2 L412.0,1021.2 L413.5,1021.2 L415.0,1021.2 L416.5,1021.2 L418.0,1021.2 L419.5,1021.2 L421.0,1021.2 L422.5,1021.2 L424.0,1021.2 L425.5,1021.2 L427.0,1021.2 L428.5,1021.2 L430.0,1021.2 L431.5,1021.2 L433.0,1021.2 L434.5,1021.2 L436.0,1021.2 L437.5,1021.2 L439.0,1021.2 L440.5,1021.2 L442.0,1021.2 L443.5,1021.2 L445.0,1021.2 L446.5,1021.2 L448.0,1021.2 L449.5,1021.2 L451.0,1021.2 L452.5,1021.2 L454.0,1021.2 L455.5,1021.2 L457.0,1021.2 L458.5,1021.2 L460.0,1021.2 L461.5,1021.2 L463.0,1021.2 L464.5,1021.2 L466.0,1021.2 L467.5,1021.2 L469.0,1021.2 L470.5,1021.2 L472.0,1021.2 L473.5,1021.2 L475.0,1021.2 L476.5,1021.2 L478.0,1021.2 L479.5,1021.2 L481.0,1021.2 L482.5,1021.2 L484.0,1021.2 L485.5,1021.2 L487.0,1021.2 L488.5,1021.2 L490.0,1021.2 L491.5,1021.2 L493.0,1021.2 L494.5,1021.2 L496.0,1021.2 L497.5,1021.2 L499.0,1021.2 L500.5,1021.2 L502.0,1021.2 L503.5,1021.2 L505.0,1021.2 L506.5,1021.2 L508.0,1021.2 L509.5,1021.2 L511.0,1021.2 L512.5,1021.2 L514.0,1021.2 L515.5,1021.2 L517.0,1021.2 L518.5,1021.2 L520.0,1021.2 L521.5,1021.2 L523.0,1021.2 L524.5,1021.2 L526.0,1021.2 L527.5,1021.2 L529.0,1021.2 L530.5,1021.2 L532.0,1021.2 L533.5,1021.2 L535.0,1021.2 L536.5,1021.2 L538.0,1021.2 L539.5,1021.2 L541.0,1021.2 L542.5,1021.2 L544.0,1021.2 L545.5,1021.2 L547.0,1021.2 L548.5,1021.2 L550.0,1021.2 L551.5,1021.2 L553.0,1021.2 L554.5,1021.2 L556.0,1021.2 L557.5,1021.2 L559.0,1021.2 L560.5,1021.2 L562.0,1021.2 L563.5,1021.2 L565.0,1021.2 L566.5,1021.2 L568.0,1021.2 L569.5,1021.2 L571.0,1021.2 L572.5,1021.2 L574.0,1021.2 L575.5,1021.2 L577.0,1021.2 L578.5,1021.2 L580.0,1021.2 L581.5,1021.2 L583.0,1021.2 L584.5,1021.2 L586.0,1021.2 L587.5,1021.2 L589.0,1021.2 L590.5,1021.2 L592.0,1021.2 L593.5,1021.2 L595.0,1021.2 L596.5,1021.2 L598.0,1021.2 L599.5,1021.2 L601.0,1021.2 L602.5,1021.2 L604.0,1021.2 L605.5,1021.2 L607.0,1021.2 L608.5,1021.2 L610.0,1021.2 L611.5,1021.2 L613.0,1021.2 L614.5,1021.2 L616.0,1021.2 L617.5,1021.2 L619.0,1021.2 L620.5,1021.2 L622.0,1021.2 L623.5,1021.2 L625.0,1021.2 L626.5,1021.2 L628.0,1021.2 L629.5,1021.2 L631.0,1021.2 L632.5,1021.2 L634.0,1021.2 L635.5,1021.2 L637.0,1021.2 L638.5,1021.1 L640.0,1021.1 L641.5,1021.1 L643.0,1021.1 L644.5,1021.1 L646.0,1021.1 L647.5,1021.1 L649.0,1021.1 L650.5,1021.1 L652.0,1021.1 L653.5,1021.1 L655.0,1021.1 L656.5,1021.1 L658.0,1021.1 L659.5,1021.1 L661.0,1021.1 L662.5,1021.1 L664.0,1021.1 L665.5,1021.1 L667.0,1021.1 L668.5,1021.1 L670.0,1021.1 L671.5,1021.1 L673.0,1021.1 L674.5,1021.1 L676.0,1021.1 L677.5,1021.1 L679.0,1021.1 L680.5,1021.1 L682.0,1021.1 L683.5,1021.1 L685.0,1021.1 L686.5,1021.1 L688.0,1021.1 L689.5,1021.1 L691.0,1021.1 L692.5,1021.1 L694.0,1021.1 L695.5,1021.1 L697.0,1021.1 L698.5,1021.1 L700.0,1021.1 L701.5,1021.1 L703.0,1021.1 L704.5,1021.1 L706.0,1021.1 L707.5,1021.1 L709.0,1021.1 L710.5,1021.1 L712.0,1021.1 L713.5,1021.1 L715.0,1021.1 L716.5,1021.1 L718.0,1021.1 L719.5,1021.1 L721.0,1021.1 L722.5,1021.1 L724.0,1021.1 L725.5,1021.1 L727.0,1021.1 L728.5,1021.1 L730.0,1021.1 L731.5,1021.0 L733.0,1021.0 L734.5,1021.0 L736.0,1021.0 L737.5,1021.0 L739.0,1021.0 L740.5,1021.0 L742.0,1021.0 L743.5,1021.0 L745.0,1021.0 L746.5,1021.0 L748.0,1021.0 L749.5,1021.0 L751.0,1021.0 L752.5,1021.0 L754.0,1021.0 L755.5,1021.0 L757.0,1021.0 L758.5,1021.0 L760.0,1021.0 L761.5,1021.0 L763.0,1021.0 L764.5,1021.0 L766.0,1021.0 L767.5,1021.0 L769.0,1021.0 L770.5,1021.0 L772.0,1021.0 L773.5,1021.0 L775.0,1021.0 L776.5,1021.0 L778.0,1021.0 L779.5,1021.0 L781.0,1021.0 L782.5,1020.9 L784.0,1020.9 L785.5,1020.9 L787.0,1020.9 L788.5,1020.9 L790.0,1020.9 L791.5,1020.9 L793.0,1020.9 L794.5,1020.9 L796.0,1020.9 L797.5,1020.9 L799.0,1020.9 L800.5,1020.9 L802.0,1020.9 L803.5,1020.9 L805.0,1020.9 L806.5,1020.9 L808.0,1020.9 L809.5,1020.9 L811.0,1020.9 L812.5,1020.9 L814.0,1020.8 L815.5,1020.8 L817.0,1020.8 L818.5,1020.8 L820.0,1020.8 L821.5,1020.8 L823.0,1020.8 L824.5,1020.8 L826.0,1020.8 L827.5,1020.8 L829.0,1020.8 L830.5,1020.8 L832.0,1020.8 L833.5,1020.8 L835.0,1020.8 L836.5,1020.7 L838.0,1020.7 L839.5,1020.7 L841.0,1020.7 L842.5,1020.7 L844.0,1020.7 L845.5,1020.7 L847.0,1020.7 L848.5,1020.7 L850.0,1020.7 L851.5,1020.7 L853.0,1020.7 L854.5,1020.6 L856.0,1020.6 L857.5,1020.6 L859.0,1020.6 L860.5,1020.6 L862.0,1020.6 L863.5,1020.6 L865.0,1020.6 L866.5,1020.6 L868.0,1020.5 L869.5,1020.5 L871.0,1020.5 L872.5,1020.5 L874.0,1020.5 L875.5,1020.5 L877.0,1020.5 L878.5,1020.5 L880.0,1020.4 L881.5,1020.4 L883.0,1020.4 L884.5,1020.4 L886.0,1020.4 L887.5,1020.4 L889.0,1020.3 L890.5,1020.3 L892.0,1020.3 L893.5,1020.3 L895.0,1020.3 L896.5,1020.3 L898.0,1020.2 L899.5,1020.2 L901.0,1020.2 L902.5,1020.2 L904.0,1020.1 L905.5,1020.1 L907.0,1020.1 L908.5,1020.1 L910.0,1020.1 L911.5,1020.0 L913.0,1020.0 L914.5,1020.0 L916.0,1019.9 L917.5,1019.9 L919.0,1019.9 L920.5,1019.9 L922.0,1019.8 L923.5,1019.8 L925.0,1019.7 L926.5,1019.7 L928.0,1019.7 L929.5,1019.6 L931.0,1019.6 L932.5,1019.5 L934.0,1019.5 L935.5,1019.4 L937.0,1019.4 L938.5,1019.3 L940.0,1019.2 L941.5,1019.2 L943.0,1019.1 L944.5,1019.0 L946.0,1018.9 L947.5,1018.7 L949.0,1018.6 L950.5,1018.4 L952.0,1018.3 L953.5,1018.1 L955.0,1017.8 L956.5,1017.6 L958.0,1017.2 L959.5,1016.9 L961.0,1016.4 L962.5,1016.0 L964.0,1015.4 L965.5,1014.7 L967.0,1014.0 L968.5,1013.1 L970.0,1012.1 L971.5,1011.0 L973.0,1009.6 L974.5,1008.1 L976.0,1006.4 L977.5,1004.4 L979.0,1002.2 L980.5,999.7 L982.0,996.9 L983.5,993.7 L985.0,990.1 L986.5,986.2 L988.0,981.7 L989.5,976.8 L991.0,971.4 L992.5,965.4 L994.0,958.9 L995.5,951.7 L997.0,943.9 L998.5,935.4 L1000.0,926.2 L1001.5,916.3 L1003.0,905.7 L1004.5,894.4 L1006.0,882.3 L1007.5,869.5 L1009.0,856.1 L1010.5,841.9 L1012.0,827.1 L1013.5,811.6 L1015.0,795.6 L1016.5,779.1 L1018.0,762.2 L1019.5,744.9 L1021.0,727.3 L1022.5,709.5 L1024.0,691.7 L1025.5,673.9 L1027.0,656.2 L1028.5,638.8 L1030.0,621.8 L1031.5,605.4 L1033.0,589.6 L1034.5,574.6 L1036.0,560.5 L1037.5,547.4 L1039.0,535.5 L1040.5,524.8 L1042.0,515.6 L1043.5,507.8 L1045.0,501.5 L1046.5,496.9 L1048.0,493.9 L1049.5,492.6 L1051.0,493.0 L1052.5,495.1 L1054.0,498.9 L1055.5,504.4 L1057.0,511.4 L1058.5,520.0 L1060.0,530.0 L1061.5,541.3 L1063.0,553.9 L1064.5,567.6 L1066.0,582.3 L1067.5,597.8 L1069.0,614.0 L1070.5,630.9 L1072.0,648.2 L1073.5,665.8 L1075.0,683.6 L1076.5,701.6 L1078.0,719.5 L1079.5,737.2 L1081.0,754.7 L1082.5,771.9 L1084.0,788.7 L1085.5,805.0 L1087.0,820.8 L1088.5,835.9 L1090.0,850.4 L1091.5,864.3 L1093.0,877.4 L1094.5,889.8 L1096.0,901.5 L1097.5,912.4 L1099.0,922.6 L1100.5,932.1 L1102.0,940.9 L1103.5,949.0 L1105.0,956.4 L1106.5,963.2 L1108.0,969.4 L1109.5,975.0 L1111.0,980.2 L1112.5,984.8 L1114.0,988.9 L1115.5,992.6 L1117.0,995.9 L1118.5,998.9 L1120.0,1001.5 L1121.5,1003.8 L1123.0,1005.9 L1124.5,1007.6 L1126.0,1009.2 L1127.5,1010.6 L1129.0,1011.8 L1130.5,1012.9 L1132.0,1013.8 L1133.5,1014.5 L1135.0,1015.2 L1136.5,1015.8 L1138.0,1016.3" fill="none" stroke="#008000" stroke-width="4.17" stroke-linejoin="round"/><path d="M175.0,1020.8 L176.5,1020.8 L178.0,1020.8 L179.5,1020.8 L181.0,1020.8 L182.5,1020.8 L184.0,1020.8 L185.5,1020.8 L187.0,1020.8 L188.5,1020.8 L190.0,1020.8 L191.5,1020.8 L193.0,1020.8 L194.5,1020.8 L196.0,1020.8 L197.5,1020.7 L199.0,1020.7 L200.5,1020.7 L202.0,1020.7 L203.5,1020.7 L205.0,1020.7 L206.5,1020.7 L208.0,1020.7 L209.5,1020.7 L211.0,1020.7 L212.5,1020.7 L214.0,1020.7 L215.5,1020.7 L217.0,1020.7 L218.5,1020.6 L220.0,1020.6 L221.5,1020.6 L223.0,1020.6 L224.5,1020.6 L226.0,1020.6 L227.5,1020.6 L229.0,1020.6 L230.5,1020.6 L232.0,1020.6 L233.5,1020.6 L235.0,1020.5 L236.5,1020.5 L238.0,1020.5 L239.5,1020.5 L241.0,1020.5 L242.5,1020.5 L244.0,1020.5 L245.5,1020.5 L247.0,1020.5 L248.5,1020.4 L250.0,1020.4 L251.5,1020.4 L253.0,1020.4 L254.5,1020.4 L256.0,1020.4 L257.5,1020.4 L259.0,1020.3 L260.5,1020.3 L262.0,1020.3 L263.5,1020.3 L265.0,1020.3 L266.5,1020.2 L268.0,1020.2 L269.5,1020.2 L271.0,1020.2 L272.5,1020.1 L274.0,1020.1 L275.5,1020.1 L277.0,1020.0 L278.5,1020.0 L280.0,1020.0 L281.5,1019.9 L283.0,1019.9 L284.5,1019.8 L286.0,1019.8 L287.5,1019.7 L289.0,1019.7 L290.5,1019.6 L292.0,1019.5 L293.5,1019.5 L295.0,1019.4 L296.5,1019.3 L298.0,1019.2 L299.5,1019.1 L301.0,1018.9 L302.5,1018.8 L304.0,1018.7 L305.5,1018.5 L307.0,1018.3 L308.5,1018.1 L310.0,1017.9 L311.5,1017.7 L313.0,1017.4 L314.5,1017.2 L316.0,1016.9 L317.5,1016.5 L319.0,1016.2 L320.5,1015.8 L322.0,1015.4 L323.5,1014.9 L325.0,1014.4 L326.5,1013.9 L328.0,1013.3 L329.5,1012.7 L331.0,1012.0 L332.5,1011.3 L334.0,1010.5 L335.5,1009.7 L337.0,1008.8 L338.5,1007.8 L340.0,1006.7 L341.5,1005.6 L343.0,1004.4 L344.5,1003.1 L346.0,1001.8 L347.5,1000.3 L349.0,998.7 L350.5,997.1 L352.0,995.3 L353.5,993.5 L355.0,991.5 L356.5,989.4 L358.0,987.2 L359.5,984.9 L361.0,982.4 L362.5,979.9 L364.0,977.2 L365.5,974.3 L367.0,971.4 L368.5,968.3 L370.0,965.0 L371.5,961.7 L373.0,958.2 L374.5,954.5 L376.0,950.7 L377.5,946.8 L379.0,942.8 L380.5,938.6 L382.0,934.3 L383.5,929.9 L385.0,925.3 L386.5,920.6 L388.0,915.9 L389.5,911.0 L391.0,906.0 L392.5,901.0 L394.0,895.9 L395.5,890.7 L397.0,885.4 L398.5,880.1 L400.0,874.7 L401.5,869.3 L403.0,863.9 L404.5,858.5 L406.0,853.2 L407.5,847.8 L409.0,842.5 L410.5,837.2 L412.0,832.0 L413.5,826.8 L415.0,821.8 L416.5,816.9 L418.0,812.1 L419.5,807.4 L421.0,802.9 L422.5,798.6 L424.0,794.5 L425.5,790.5 L427.0,786.8 L428.5,783.3 L430.0,780.1 L431.5,777.1 L433.0,774.3 L434.5,771.9 L436.0,769.7 L437.5,767.8 L439.0,766.2 L440.5,764.9 L442.0,764.0 L443.5,763.3 L445.0,763.0 L446.5,763.0 L448.0,763.3 L449.5,763.8 L451.0,764.7 L452.5,765.9 L454.0,767.3 L455.5,769.0 L457.0,771.0 L458.5,773.3 L460.0,775.8 L461.5,778.6 L463.0,781.6 L464.5,784.8 L466.0,788.2 L467.5,791.9 L469.0,795.7 L470.5,799.7 L472.0,803.9 L473.5,808.3 L475.0,812.8 L476.5,817.4 L478.0,822.1 L479.5,826.9 L481.0,831.9 L482.5,836.9 L484.0,841.9 L485.5,847.0 L487.0,852.2 L488.5,857.3 L490.0,862.5 L491.5,867.7 L493.0,872.9 L494.5,878.0 L496.0,883.1 L497.5,888.2 L499.0,893.2 L500.5,898.2 L502.0,903.1 L503.5,907.9 L505.0,912.6 L506.5,917.3 L508.0,921.8 L509.5,926.3 L511.0,930.6 L512.5,934.8 L514.0,939.0 L515.5,943.0 L517.0,946.8 L518.5,950.6 L520.0,954.2 L521.5,957.7 L523.0,961.1 L524.5,964.4 L526.0,967.5 L527.5,970.5 L529.0,973.4 L530.5,976.2 L532.0,978.8 L533.5,981.3 L535.0,983.7 L536.5,986.0 L538.0,988.2 L539.5,990.3 L541.0,992.2 L542.5,994.1 L544.0,995.8 L545.5,997.5 L547.0,999.1 L548.5,1000.5 L550.0,1001.9 L551.5,1003.2 L553.0,1004.5 L554.5,1005.6 L556.0,1006.7 L557.5,1007.7 L559.0,1008.6 L560.5,1009.5 L562.0,1010.3 L563.5,1011.1 L565.0,1011.8 L566.5,1012.5 L568.0,1013.1 L569.5,1013.7 L571.0,1014.2 L572.5,1014.7 L574.0,1015.1 L575.5,1015.6 L577.0,1016.0 L578.5,1016.3 L580.0,1016.6 L581.5,1016.9 L583.0,1017.2 L584.5,1017.5 L586.0,1017.7 L587.5,1017.9 L589.0,1018.1 L590.5,1018.3 L592.0,1018.5 L593.5,1018.6 L595.0,1018.8 L596.5,1018.9 L598.0,1019.0 L599.5,1019.1 L601.0,1019.2 L602.5,1019.3 L604.0,1019.4 L605.5,1019.5 L607.0,1019.6 L608.5,1019.6 L610.0,1019.7 L611.5,1019.8 L613.0,1019.8 L614.5,1019.9 L616.0,1019.9 L617.5,1019.9 L619.0,1020.0 L620.5,1020.0 L622.0,1020.1 L623.5,1020.1 L625.0,1020.1 L626.5,1020.1 L628.0,1020.2 L629.5,1020.2 L631.0,1020.2 L632.5,1020.2 L634.0,1020.3 L635.5,1020.3 L637.0,1020.3 L638.5,1020.3 L640.0,1020.3 L641.5,1020.3 L643.0,1020.4 L644.5,1020.4 L646.0,1020.4 L647.5,1020.4 L649.0,1020.4 L650.5,1020.4 L652.0,1020.4 L653.5,1020.5 L655.0,1020.5 L656.5,1020.5 L658.0,1020.5 L659.5,1020.5 L661.0,1020.5 L662.5,1020.5 L664.0,1020.5 L665.5,1020.5 L667.0,1020.6 L668.5,1020.6 L670.0,1020.6 L671.5,1020.6 L673.0,1020.6 L674.5,1020.6 L676.0,1020.6 L677.5,1020.6 L679.0,1020.6 L680.5,1020.6 L682.0,1020.6 L683.5,1020.7 L685.0,1020.7 L686.5,1020.7 L688.0,1020.7 L689.5,1020.7 L691.0,1020.7 L692.5,1020.7 L694.0,1020.7 L695.5,1020.7 L697.0,1020.7 L698.5,1020.7 L700.0,1020.7 L701.5,1020.7 L703.0,1020.7 L704.5,1020.7 L706.0,1020.8 L707.5,1020.8 L709.0,1020.8 L710.5,1020.8 L712.0,1020.8 L713.5,1020.8 L715.0,1020.8 L716.5,1020.8 L718.0,1020.8 L719.5,1020.8 L721.0,1020.8 L722.5,1020.8 L724.0,1020.8 L725.5,1020.8 L727.0,1020.8 L728.5,1020.8 L730.0,1020.8 L731.5,1020.8 L733.0,1020.8 L734.5,1020.9 L736.0,1020.9 L737.5,1020.9 L739.0,1020.9 L740.5,1020.9 L742.0,1020.9 L743.5,1020.9 L745.0,1020.9 L746.5,1020.9 L748.0,1020.9 L749.5,1020.9 L751.0,1020.9 L752.5,1020.9 L754.0,1020.9 L755.5,1020.9 L757.0,1020.9 L758.5,1020.9 L760.0,1020.9 L761.5,1020.9 L763.0,1020.9 L764.5,1020.9 L766.0,1020.9 L767.5,1020.9 L769.0,1020.9 L770.5,1020.9 L772.0,1020.9 L773.5,1021.0 L775.0,1021.0 L776.5,1021.0 L778.0,1021.0 L779.5,1021.0 L781.0,1021.0 L782.5,1021.0 L784.0,1021.0 L785.5,1021.0 L787.0,1021.0 L788.5,1021.0 L790.0,1021.0 L791.5,1021.0 L793.0,1021.0 L794.5,1021.0 L796.0,1021.0 L797.5,1021.0 L799.0,1021.0 L800.5,1021.0 L802.0,1021.0 L803.5,1021.0 L805.0,1021.0 L806.5,1021.0 L808.0,1021.0 L809.5,1021.0 L811.0,1021.0 L812.5,1021.0 L814.0,1021.0 L815.5,1021.0 L817.0,1021.0 L818.5,1021.0 L820.0,1021.0 L821.5,1021.0 L823.0,1021.0 L824.5,1021.0 L826.0,1021.0 L827.5,1021.0 L829.0,1021.0 L830.5,1021.0 L832.0,1021.0 L833.5,1021.0 L835.0,1021.1 L836.5,1021.1 L838.0,1021.1 L839.5,1021.1 L841.0,1021.1 L842.5,1021.1 L844.0,1021.1 L845.5,1021.1 L847.0,1021.1 L848.5,1021.1 L850.0,1021.1 L851.5,1021.1 L853.0,1021.1 L854.5,1021.1 L856.0,1021.1 L857.5,1021.1 L859.0,1021.1 L860.5,1021.1 L862.0,1021.1 L863.5,1021.1 L865.0,1021.1 L866.5,1021.1 L868.0,1021.1 L869.5,1021.1 L871.0,1021.1 L872.5,1021.1 L874.0,1021.1 L875.5,1021.1 L877.0,1021.1 L878.5,1021.1 L880.0,1021.1 L881.5,1021.1 L883.0,1021.1 L884.5,1021.1 L886.0,1021.1 L887.5,1021.1 L889.0,1021.1 L890.5,1021.1 L892.0,1021.1 L893.5,1021.1 L895.0,1021.1 L896.5,1021.1 L898.0,1021.1 L899.5,1021.1 L901.0,1021.1 L902.5,1021.1 L904.0,1021.1 L905.5,1021.1 L907.0,1021.1 L908.5,1021.1 L910.0,1021.1 L911.5,1021.1 L913.0,1021.1 L914.5,1021.1 L916.0,1021.1 L917.5,1021.1 L919.0,1021.1 L920.5,1021.1 L922.0,1021.1 L923.5,1021.1 L925.0,1021.1 L926.5,1021.1 L928.0,1021.1 L929.5,1021.1 L931.0,1021.1 L932.5,1021.1 L934.0,1021.1 L935.5,1021.1 L937.0,1021.1 L938.5,1021.1 L940.0,1021.1 L941.5,1021.1 L943.0,1021.1 L944.5,1021.1 L946.0,1021.1 L947.5,1021.1 L949.0,1021.1 L950.5,1021.2 L952.0,1021.2 L953.5,1021.2 L955.0,1021.2 L956.5,1021.2 L958.0,1021.2 L959.5,1021.2 L961.0,1021.2 L962.5,1021.2 L964.0,1021.2 L965.5,1021.2 L967.0,1021.2 L968.5,1021.2 L970.0,1021.2 L971.5,1021.2 L973.0,1021.2 L974.5,1021.2 L976.0,1021.2 L977.5,1021.2 L979.0,1021.2 L980.5,1021.2 L982.0,1021.2 L983.5,1021.2 L985.0,1021.2 L986.5,1021.2 L988.0,1021.2 L989.5,1021.2 L991.0,1021.2 L992.5,1021.2 L994.0,1021.2 L995.5,1021.2 L997.0,1021.2 L998.5,1021.2 L1000.0,1021.2 L1001.5,1021.2 L1003.0,1021.2 L1004.5,1021.2 L1006.0,1021.2 L1007.5,1021.2 L1009.0,1021.2 L1010.5,1021.2 L1012.0,1021.2 L1013.5,1021.2 L1015.0,1021.2 L1016.5,1021.2 L1018.0,1021.2 L1019.5,1021.2 L1021.0,1021.2 L1022.5,1021.2 L1024.0,1021.2 L1025.5,1021.2 L1027.0,1021.2 L1028.5,1021.2 L1030.0,1021.2 L1031.5,1021.2 L1033.0,1021.2 L1034.5,1021.2 L1036.0,1021.2 L1037.5,1021.2 L1039.0,1021.2 L1040.5,1021.2 L1042.0,1021.2 L1043.5,1021.2 L1045.0,1021.2 L1046.5,1021.2 L1048.0,1021.2 L1049.5,1021.2 L1051.0,1021.2 L1052.5,1021.2 L1054.0,1021.2 L1055.5,1021.2 L1057.0,1021.2 L1058.5,1021.2 L1060.0,1021.2 L1061.5,1021.2 L1063.0,1021.2 L1064.5,1021.2 L1066.0,1021.2 L1067.5,1021.2 L1069.0,1021.2 L1070.5,1021.2 L1072.0,1021.2 L1073.5,1021.2 L1075.0,1021.2 L1076.5,1021.2 L1078.0,1021.2 L1079.5,1021.2 L1081.0,1021.2 L1082.5,1021.2 L1084.0,1021.2 L1085.5,1021.2 L1087.0,1021.2 L1088.5,1021.2 L1090.0,1021.2 L1091.5,1021.2 L1093.0,1021.2 L1094.5,1021.2 L1096.0,1021.2 L1097.5,1021.2 L1099.0,1021.2 L1100.5,1021.2 L1102.0,1021.2 L1103.5,1021.2 L1105.0,1021.2 L1106.5,1021.2 L1108.0,1021.2 L1109.5,1021.2 L1111.0,1021.2 L1112.5,1021.2 L1114.0,1021.2 L1115.5,1021.2 L1117.0,1021.2 L1118.5,1021.2 L1120.0,1021.2 L1121.5,1021.2 L1123.0,1021.2 L1124.5,1021.2 L1126.0,1021.2 L1127.5,1021.2 L1129.0,1021.2 L1130.5,1021.2 L1132.0,1021.2 L1133.5,1021.2 L1135.0,1021.2 L1136.5,1021.2 L1138.0,1021.2" fill="none" stroke="#800080" stroke-width="4.17" stroke-linejoin="round"/><path d="M175.0,1021.1 L176.5,1021.1 L178.0,1021.1 L179.5,1021.1 L181.0,1021.1 L182.5,1021.1 L184.0,1021.1 L185.5,1021.1 L187.0,1021.1 L188.5,1021.1 L190.0,1021.1 L191.5,1021.1 L193.0,1021.1 L194.5,1021.1 L196.0,1021.1 L197.5,1021.1 L199.0,1021.1 L200.5,1021.1 L202.0,1021.0 L203.5,1021.0 L205.0,1021.0 L206.5,1021.0 L208.0,1021.0 L209.5,1021.0 L211.0,1021.0 L212.5,1021.0 L214.0,1021.0 L215.5,1021.0 L217.0,1021.0 L218.5,1021.0 L220.0,1021.0 L221.5,1021.0 L223.0,1021.0 L224.5,1021.0 L226.0,1021.0 L227.5,1021.0 L229.0,1021.0 L230.5,1021.0 L232.0,1021.0 L233.5,1021.0 L235.0,1021.0 L236.5,1021.0 L238.0,1021.0 L239.5,1021.0 L241.0,1021.0 L242.5,1021.0 L244.0,1021.0 L245.5,1021.0 L247.0,1021.0 L248.5,1021.0 L250.0,1021.0 L251.5,1021.0 L253.0,1021.0 L254.5,1021.0 L256.0,1021.0 L257.5,1021.0 L259.0,1021.0 L260.5,1021.0 L262.0,1021.0 L263.5,1021.0 L265.0,1021.0 L266.5,1021.0 L268.0,1021.0 L269.5,1021.0 L271.0,1021.0 L272.5,1020.9 L274.0,1020.9 L275.5,1020.9 L277.0,1020.9 L278.5,1020.9 L280.0,1020.9 L281.5,1020.9 L283.0,1020.9 L284.5,1020.9 L286.0,1020.9 L287.5,1020.9 L289.0,1020.9 L290.5,1020.9 L292.0,1020.9 L293.5,1020.9 L295.0,1020.9 L296.5,1020.9 L298.0,1020.9 L299.5,1020.9 L301.0,1020.9 L302.5,1020.9 L304.0,1020.9 L305.5,1020.9 L307.0,1020.9 L308.5,1020.9 L310.0,1020.9 L311.5,1020.9 L313.0,1020.9 L314.5,1020.9 L316.0,1020.9 L317.5,1020.8 L319.0,1020.8 L320.5,1020.8 L322.0,1020.8 L323.5,1020.8 L325.0,1020.8 L326.5,1020.8 L328.0,1020.8 L329.5,1020.8 L331.0,1020.8 L332.5,1020.8 L334.0,1020.8 L335.5,1020.8 L337.0,1020.8 L338.5,1020.8 L340.0,1020.8 L341.5,1020.8 L343.0,1020.8 L344.5,1020.8 L346.0,1020.8 L347.5,1020.8 L349.0,1020.7 L350.5,1020.7 L352.0,1020.7 L353.5,1020.7 L355.0,1020.7 L356.5,1020.7 L358.0,1020.7 L359.5,1020.7 L361.0,1020.7 L362.5,1020.7 L364.0,1020.7 L365.5,1020.7 L367.0,1020.7 L368.5,1020.7 L370.0,1020.7 L371.5,1020.7 L373.0,1020.6 L374.5,1020.6 L376.0,1020.6 L377.5,1020.6 L379.0,1020.6 L380.5,1020.6 L382.0,1020.6 L383.5,1020.6 L385.0,1020.6 L386.5,1020.6 L388.0,1020.6 L389.5,1020.6 L391.0,1020.6 L392.5,1020.5 L394.0,1020.5 L395.5,1020.5 L397.0,1020.5 L398.5,1020.5 L400.0,1020.5 L401.5,1020.5 L403.0,1020.5 L404.5,1020.5 L406.0,1020.5 L407.5,1020.5 L409.0,1020.4 L410.5,1020.4 L412.0,1020.4 L413.5,1020.4 L415.0,1020.4 L416.5,1020.4 L418.0,1020.4 L419.5,1020.4 L421.0,1020.4 L422.5,1020.3 L424.0,1020.3 L425.5,1020.3 L427.0,1020.3 L428.5,1020.3 L430.0,1020.3 L431.5,1020.3 L433.0,1020.3 L434.5,1020.2 L436.0,1020.2 L437.5,1020.2 L439.0,1020.2 L440.5,1020.2 L442.0,1020.2 L443.5,1020.1 L445.0,1020.1 L446.5,1020.1 L448.0,1020.1 L449.5,1020.1 L451.0,1020.1 L452.5,1020.0 L454.0,1020.0 L455.5,1020.0 L457.0,1020.0 L458.5,1020.0 L460.0,1019.9 L461.5,1019.9 L463.0,1019.9 L464.5,1019.9 L466.0,1019.8 L467.5,1019.8 L469.0,1019.8 L470.5,1019.8 L472.0,1019.7 L473.5,1019.7 L475.0,1019.7 L476.5,1019.6 L478.0,1019.6 L479.5,1019.5 L481.0,1019.5 L482.5,1019.4 L484.0,1019.4 L485.5,1019.3 L487.0,1019.3 L488.5,1019.2 L490.0,1019.1 L491.5,1019.1 L493.0,1019.0 L494.5,1018.9 L496.0,1018.8 L497.5,1018.7 L499.0,1018.5 L500.5,1018.4 L502.0,1018.2 L503.5,1018.1 L505.0,1017.9 L506.5,1017.7 L508.0,1017.5 L509.5,1017.2 L511.0,1016.9 L512.5,1016.6 L514.0,1016.3 L515.5,1015.9 L517.0,1015.5 L518.5,1015.1 L520.0,1014.6 L521.5,1014.0 L523.0,1013.4 L524.5,1012.8 L526.0,1012.0 L527.5,1011.2 L529.0,1010.4 L530.5,1009.4 L532.0,1008.4 L533.5,1007.2 L535.0,1006.0 L536.5,1004.6 L538.0,1003.2 L539.5,1001.6 L541.0,999.8 L542.5,997.9 L544.0,995.9 L545.5,993.7 L547.0,991.3 L548.5,988.7 L550.0,986.0 L551.5,983.0 L553.0,979.8 L554.5,976.4 L556.0,972.8 L557.5,968.9 L559.0,964.7 L560.5,960.3 L562.0,955.6 L563.5,950.6 L565.0,945.3 L566.5,939.8 L568.0,933.9 L569.5,927.7 L571.0,921.1 L572.5,914.3 L574.0,907.0 L575.5,899.5 L577.0,891.6 L578.5,883.4 L580.0,874.9 L581.5,866.0 L583.0,856.7 L584.5,847.2 L586.0,837.3 L587.5,827.2 L589.0,816.7 L590.5,805.9 L592.0,794.9 L593.5,783.6 L595.0,772.1 L596.5,760.3 L598.0,748.4 L599.5,736.3 L601.0,724.0 L602.5,711.7 L604.0,699.2 L605.5,686.7 L607.0,674.2 L608.5,661.7 L610.0,649.3 L611.5,636.9 L613.0,624.6 L614.5,612.5 L616.0,600.7 L617.5,589.0 L619.0,577.6 L620.5,566.6 L622.0,555.9 L623.5,545.6 L625.0,535.8 L626.5,526.4 L628.0,517.5 L629.5,509.2 L631.0,501.5 L632.5,494.4 L634.0,487.9 L635.5,482.1 L637.0,477.0 L638.5,472.6 L640.0,468.9 L641.5,466.0 L643.0,463.9 L644.5,462.6 L646.0,462.0 L647.5,462.2 L649.0,463.2 L650.5,464.9 L652.0,467.3 L653.5,470.5 L655.0,474.3 L656.5,478.9 L658.0,484.1 L659.5,490.0 L661.0,496.5 L662.5,503.6 L664.0,511.2 L665.5,519.5 L667.0,528.2 L668.5,537.4 L670.0,547.0 L671.5,557.1 L673.0,567.5 L674.5,578.3 L676.0,589.3 L677.5,600.7 L679.0,612.2 L680.5,624.0 L682.0,635.9 L683.5,647.9 L685.0,660.0 L686.5,672.2 L688.0,684.3 L689.5,696.5 L691.0,708.6 L692.5,720.6 L694.0,732.6 L695.5,744.4 L697.0,756.1 L698.5,767.5 L700.0,778.8 L701.5,789.9 L703.0,800.8 L704.5,811.3 L706.0,821.7 L707.5,831.7 L709.0,841.5 L710.5,851.0 L712.0,860.1 L713.5,869.0 L715.0,877.5 L716.5,885.7 L718.0,893.6 L719.5,901.2 L721.0,908.5 L722.5,915.4 L724.0,922.1 L725.5,928.4 L727.0,934.4 L728.5,940.1 L730.0,945.5 L731.5,950.6 L733.0,955.5 L734.5,960.1 L736.0,964.4 L737.5,968.4 L739.0,972.2 L740.5,975.8 L742.0,979.2 L743.5,982.3 L745.0,985.3 L746.5,988.0 L748.0,990.5 L749.5,992.9 L751.0,995.1 L752.5,997.2 L754.0,999.1 L755.5,1000.8 L757.0,1002.4 L758.5,1003.9 L760.0,1005.3 L761.5,1006.6 L763.0,1007.7 L764.5,1008.8 L766.0,1009.8 L767.5,1010.7 L769.0,1011.5 L770.5,1012.3 L772.0,1012.9 L773.5,1013.6 L775.0,1014.1 L776.5,1014.7 L778.0,1015.1 L779.5,1015.6 L781.0,1016.0 L782.5,1016.3 L784.0,1016.6 L785.5,1016.9 L787.0,1017.2 L788.5,1017.5 L790.0,1017.7 L791.5,1017.9 L793.0,1018.1 L794.5,1018.2 L796.0,1018.4 L797.5,1018.5 L799.0,1018.6 L800.5,1018.7 L802.0,1018.8 L803.5,1018.9 L805.0,1019.0 L806.5,1019.1 L808.0,1019.2 L809.5,1019.2 L811.0,1019.3 L812.5,1019.4 L814.0,1019.4 L815.5,1019.5 L817.0,1019.5 L818.5,1019.6 L820.0,1019.6 L821.5,1019.6 L823.0,1019.7 L824.5,1019.7 L826.0,1019.7 L827.5,1019.8 L829.0,1019.8 L830.5,1019.8 L832.0,1019.8 L833.5,1019.9 L835.0,1019.9 L836.5,1019.9 L838.0,1019.9 L839.5,1020.0 L841.0,1020.0 L842.5,1020.0 L844.0,1020.0 L845.5,1020.0 L847.0,1020.1 L848.5,1020.1 L850.0,1020.1 L851.5,1020.1 L853.0,1020.1 L854.5,1020.1 L856.0,1020.2 L857.5,1020.2 L859.0,1020.2 L860.5,1020.2 L862.0,1020.2 L863.5,1020.2 L865.0,1020.2 L866.5,1020.3 L868.0,1020.3 L869.5,1020.3 L871.0,1020.3 L872.5,1020.3 L874.0,1020.3 L875.5,1020.3 L877.0,1020.3 L878.5,1020.4 L880.0,1020.4 L881.5,1020.4 L883.0,1020.4 L884.5,1020.4 L886.0,1020.4 L887.5,1020.4 L889.0,1020.4 L890.5,1020.4 L892.0,1020.5 L893.5,1020.5 L895.0,1020.5 L896.5,1020.5 L898.0,1020.5 L899.5,1020.5 L901.0,1020.5 L902.5,1020.5 L904.0,1020.5 L905.5,1020.5 L907.0,1020.5 L908.5,1020.6 L910.0,1020.6 L911.5,1020.6 L913.0,1020.6 L914.5,1020.6 L916.0,1020.6 L917.5,1020.6 L919.0,1020.6 L920.5,1020.6 L922.0,1020.6 L923.5,1020.6 L925.0,1020.6 L926.5,1020.6 L928.0,1020.7 L929.5,1020.7 L931.0,1020.7 L932.5,1020.7 L934.0,1020.7 L935.5,1020.7 L937.0,1020.7 L938.5,1020.7 L940.0,1020.7 L941.5,1020.7 L943.0,1020.7 L944.5,1020.7 L946.0,1020.7 L947.5,1020.7 L949.0,1020.7 L950.5,1020.7 L952.0,1020.7 L953.5,1020.8 L955.0,1020.8 L956.5,1020.8 L958.0,1020.8 L959.5,1020.8 L961.0,1020.8 L962.5,1020.8 L964.0,1020.8 L965.5,1020.8 L967.0,1020.8 L968.5,1020.8 L970.0,1020.8 L971.5,1020.8 L973.0,1020.8 L974.5,1020.8 L976.0,1020.8 L977.5,1020.8 L979.0,1020.8 L980.5,1020.8 L982.0,1020.8 L983.5,1020.8 L985.0,1020.8 L986.5,1020.9 L988.0,1020.9 L989.5,1020.9 L991.0,1020.9 L992.5,1020.9 L994.0,1020.9 L995.5,1020.9 L997.0,1020.9 L998.5,1020.9 L1000.0,1020.9 L1001.5,1020.9 L1003.0,1020.9 L1004.5,1020.9 L1006.0,1020.9 L1007.5,1020.9 L1009.0,1020.9 L1010.5,1020.9 L1012.0,1020.9 L1013.5,1020.9 L1015.0,1020.9 L1016.5,1020.9 L1018.0,1020.9 L1019.5,1020.9 L1021.0,1020.9 L1022.5,1020.9 L1024.0,1020.9 L1025.5,1020.9 L1027.0,1020.9 L1028.5,1020.9 L1030.0,1020.9 L1031.5,1020.9 L1033.0,1021.0 L1034.5,1021.0 L1036.0,1021.0 L1037.5,1021.0 L1039.0,1021.0 L1040.5,1021.0 L1042.0,1021.0 L1043.5,1021.0 L1045.0,1021.0 L1046.5,1021.0 L1048.0,1021.0 L1049.5,1021.0 L1051.0,1021.0 L1052.5,1021.0 L1054.0,1021.0 L1055.5,1021.0 L1057.0,1021.0 L1058.5,1021.0 L1060.0,1021.0 L1061.5,1021.0 L1063.0,1021.0 L1064.5,1021.0 L1066.0,1021.0 L1067.5,1021.0 L1069.0,1021.0 L1070.5,1021.0 L1072.0,1021.0 L1073.5,1021.0 L1075.0,1021.0 L1076.5,1021.0 L1078.0,1021.0 L1079.5,1021.0 L1081.0,1021.0 L1082.5,1021.0 L1084.0,1021.0 L1085.5,1021.0 L1087.0,1021.0 L1088.5,1021.0 L1090.0,1021.0 L1091.5,1021.0 L1093.0,1021.0 L1094.5,1021.0 L1096.0,1021.0 L1097.5,1021.0 L1099.0,1021.0 L1100.5,1021.0 L1102.0,1021.0 L1103.5,1021.0 L1105.0,1021.1 L1106.5,1021.1 L1108.0,1021.1 L1109.5,1021.1 L1111.0,1021.1 L1112.5,1021.1 L1114.0,1021.1 L1115.5,1021.1 L1117.0,1021.1 L1118.5,1021.1 L1120.0,1021.1 L1121.5,1021.1 L1123.0,1021.1 L1124.5,1021.1 L1126.0,1021.1 L1127.5,1021.1 L1129.0,1021.1 L1130.5,1021.1 L1132.0,1021.1 L1133.5,1021.1 L1135.0,1021.1 L1136.5,1021.1 L1138.0,1021.1" fill="none" stroke="#800080" stroke-width="4.17" stroke-linejoin="round"/><path d="M175.0,1021.0 L176.5,1021.0 L178.0,1021.0 L179.5,1021.0 L181.0,1021.0 L182.5,1021.0 L184.0,1021.0 L185.5,1021.0 L187.0,1021.0 L188.5,1021.0 L190.0,1021.0 L191.5,1021.0 L193.0,1021.0 L194.5,1021.0 L196.0,1021.0 L197.5,1021.0 L199.0,1021.0 L200.5,1021.0 L202.0,1021.0 L203.5,1021.0 L205.0,1021.0 L206.5,1021.0 L208.0,1021.0 L209.5,1021.0 L211.0,1021.0 L212.5,1021.0 L214.0,1021.0 L215.5,1021.0 L217.0,1021.0 L218.5,1021.0 L220.0,1021.0 L221.5,1021.0 L223.0,1021.0 L224.5,1021.0 L226.0,1021.0 L227.5,1021.0 L229.0,1021.0 L230.5,1021.0 L232.0,1021.0 L233.5,1021.0 L235.0,1021.0 L236.5,1021.0 L238.0,1021.0 L239.5,1021.0 L241.0,1021.0 L242.5,1021.0 L244.0,1021.0 L245.5,1020.9 L247.0,1020.9 L248.5,1020.9 L250.0,1020.9 L251.5,1020.9 L253.0,1020.9 L254.5,1020.9 L256.0,1020.9 L257.5,1020.9 L259.0,1020.9 L260.5,1020.9 L262.0,1020.9 L263.5,1020.9 L265.0,1020.9 L266.5,1020.9 L268.0,1020.9 L269.5,1020.9 L271.0,1020.9 L272.5,1020.9 L274.0,1020.9 L275.5,1020.9 L277.0,1020.9 L278.5,1020.9 L280.0,1020.9 L281.5,1020.9 L283.0,1020.9 L284.5,1020.9 L286.0,1020.9 L287.5,1020.9 L289.0,1020.9 L290.5,1020.9 L292.0,1020.9 L293.5,1020.9 L295.0,1020.9 L296.5,1020.9 L298.0,1020.9 L299.5,1020.9 L301.0,1020.9 L302.5,1020.9 L304.0,1020.9 L305.5,1020.9 L307.0,1020.9 L308.5,1020.9 L310.0,1020.9 L311.5,1020.9 L313.0,1020.9 L314.5,1020.9 L316.0,1020.9 L317.5,1020.9 L319.0,1020.9 L320.5,1020.9 L322.0,1020.9 L323.5,1020.9 L325.0,1020.8 L326.5,1020.8 L328.0,1020.8 L329.5,1020.8 L331.0,1020.8 L332.5,1020.8 L334.0,1020.8 L335.5,1020.8 L337.0,1020.8 L338.5,1020.8 L340.0,1020.8 L341.5,1020.8 L343.0,1020.8 L344.5,1020.8 L346.0,1020.8 L347.5,1020.8 L349.0,1020.8 L350.5,1020.8 L352.0,1020.8 L353.5,1020.8 L355.0,1020.8 L356.5,1020.8 L358.0,1020.8 L359.5,1020.8 L361.0,1020.8 L362.5,1020.8 L364.0,1020.8 L365.5,1020.8 L367.0,1020.8 L368.5,1020.8 L370.0,1020.8 L371.5,1020.8 L373.0,1020.8 L374.5,1020.8 L376.0,1020.8 L377.5,1020.8 L379.0,1020.8 L380.5,1020.8 L382.0,1020.7 L383.5,1020.7 L385.0,1020.7 L386.5,1020.7 L388.0,1020.7 L389.5,1020.7 L391.0,1020.7 L392.5,1020.7 L394.0,1020.7 L395.5,1020.7 L397.0,1020.7 L398.5,1020.7 L400.0,1020.7 L401.5,1020.7 L403.0,1020.7 L404.5,1020.7 L406.0,1020.7 L407.5,1020.7 L409.0,1020.7 L410.5,1020.7 L412.0,1020.7 L413.5,1020.7 L415.0,1020.7 L416.5,1020.7 L418.0,1020.7 L419.5,1020.7 L421.0,1020.7 L422.5,1020.7 L424.0,1020.7 L425.5,1020.6 L427.0,1020.6 L428.5,1020.6 L430.0,1020.6 L431.5,1020.6 L433.0,1020.6 L434.5,1020.6 L436.0,1020.6 L437.5,1020.6 L439.0,1020.6 L440.5,1020.6 L442.0,1020.6 L443.5,1020.6 L445.0,1020.6 L446.5,1020.6 L448.0,1020.6 L449.5,1020.6 L451.0,1020.6 L452.5,1020.6 L454.0,1020.6 L455.5,1020.6 L457.0,1020.6 L458.5,1020.6 L460.0,1020.5 L461.5,1020.5 L463.0,1020.5 L464.5,1020.5 L466.0,1020.5 L467.5,1020.5 L469.0,1020.5 L470.5,1020.5 L472.0,1020.5 L473.5,1020.5 L475.0,1020.5 L476.5,1020.5 L478.0,1020.5 L479.5,1020.5 L481.0,1020.5 L482.5,1020.5 L484.0,1020.5 L485.5,1020.5 L487.0,1020.5 L488.5,1020.4 L490.0,1020.4 L491.5,1020.4 L493.0,1020.4 L494.5,1020.4 L496.0,1020.4 L497.5,1020.4 L499.0,1020.4 L500.5,1020.4 L502.0,1020.4 L503.5,1020.4 L505.0,1020.4 L506.5,1020.4 L508.0,1020.4 L509.5,1020.4 L511.0,1020.3 L512.5,1020.3 L514.0,1020.3 L515.5,1020.3 L517.0,1020.3 L518.5,1020.3 L520.0,1020.3 L521.5,1020.3 L523.0,1020.3 L524.5,1020.3 L526.0,1020.3 L527.5,1020.3 L529.0,1020.3 L530.5,1020.3 L532.0,1020.2 L533.5,1020.2 L535.0,1020.2 L536.5,1020.2 L538.0,1020.2 L539.5,1020.2 L541.0,1020.2 L542.5,1020.2 L544.0,1020.2 L545.5,1020.2 L547.0,1020.2 L548.5,1020.2 L550.0,1020.1 L551.5,1020.1 L553.0,1020.1 L554.5,1020.1 L556.0,1020.1 L557.5,1020.1 L559.0,1020.1 L560.5,1020.1 L562.0,1020.1 L563.5,1020.1 L565.0,1020.0 L566.5,1020.0 L568.0,1020.0 L569.5,1020.0 L571.0,1020.0 L572.5,1020.0 L574.0,1020.0 L575.5,1020.0 L577.0,1020.0 L578.5,1019.9 L580.0,1019.9 L581.5,1019.9 L583.0,1019.9 L584.5,1019.9 L586.0,1019.9 L587.5,1019.9 L589.0,1019.9 L590.5,1019.8 L592.0,1019.8 L593.5,1019.8 L595.0,1019.8 L596.5,1019.8 L598.0,1019.8 L599.5,1019.8 L601.0,1019.7 L602.5,1019.7 L604.0,1019.7 L605.5,1019.7 L607.0,1019.7 L608.5,1019.7 L610.0,1019.7 L611.5,1019.6 L613.0,1019.6 L614.5,1019.6 L616.0,1019.6 L617.5,1019.6 L619.0,1019.6 L620.5,1019.5 L622.0,1019.5 L623.5,1019.5 L625.0,1019.5 L626.5,1019.5 L628.0,1019.5 L629.5,1019.4 L631.0,1019.4 L632.5,1019.4 L634.0,1019.4 L635.5,1019.4 L637.0,1019.3 L638.5,1019.3 L640.0,1019.3 L641.5,1019.3 L643.0,1019.3 L644.5,1019.2 L646.0,1019.2 L647.5,1019.2 L649.0,1019.2 L650.5,1019.1 L652.0,1019.1 L653.5,1019.1 L655.0,1019.1 L656.5,1019.0 L658.0,1019.0 L659.5,1019.0 L661.0,1019.0 L662.5,1018.9 L664.0,1018.9 L665.5,1018.9 L667.0,1018.9 L668.5,1018.8 L670.0,1018.8 L671.5,1018.8 L673.0,1018.7 L674.5,1018.7 L676.0,1018.7 L677.5,1018.6 L679.0,1018.6 L680.5,1018.6 L682.0,1018.5 L683.5,1018.5 L685.0,1018.4 L686.5,1018.4 L688.0,1018.4 L689.5,1018.3 L691.0,1018.3 L692.5,1018.2 L694.0,1018.2 L695.5,1018.1 L697.0,1018.0 L698.5,1018.0 L700.0,1017.9 L701.5,1017.9 L703.0,1017.8 L704.5,1017.7 L706.0,1017.6 L707.5,1017.6 L709.0,1017.5 L710.5,1017.4 L712.0,1017.3 L713.5,1017.2 L715.0,1017.1 L716.5,1016.9 L718.0,1016.8 L719.5,1016.7 L721.0,1016.5 L722.5,1016.4 L724.0,1016.2 L725.5,1016.0 L727.0,1015.8 L728.5,1015.6 L730.0,1015.4 L731.5,1015.2 L733.0,1014.9 L734.5,1014.6 L736.0,1014.3 L737.5,1014.0 L739.0,1013.7 L740.5,1013.3 L742.0,1012.9 L743.5,1012.5 L745.0,1012.0 L746.5,1011.5 L748.0,1011.0 L749.5,1010.4 L751.0,1009.8 L752.5,1009.1 L754.0,1008.4 L755.5,1007.7 L757.0,1006.8 L758.5,1006.0 L760.0,1005.0 L761.5,1004.0 L763.0,1003.0 L764.5,1001.8 L766.0,1000.6 L767.5,999.3 L769.0,997.9 L770.5,996.4 L772.0,994.8 L773.5,993.1 L775.0,991.3 L776.5,989.4 L778.0,987.3 L779.5,985.2 L781.0,982.9 L782.5,980.5 L784.0,977.9 L785.5,975.2 L787.0,972.3 L788.5,969.2 L790.0,966.0 L791.5,962.6 L793.0,959.1 L794.5,955.3 L796.0,951.4 L797.5,947.2 L799.0,942.8 L800.5,938.2 L802.0,933.4 L803.5,928.4 L805.0,923.2 L806.5,917.7 L808.0,911.9 L809.5,905.9 L811.0,899.7 L812.5,893.2 L814.0,886.4 L815.5,879.3 L817.0,872.0 L818.5,864.5 L820.0,856.6 L821.5,848.5 L823.0,840.1 L824.5,831.4 L826.0,822.4 L827.5,813.2 L829.0,803.7 L830.5,793.9 L832.0,783.8 L833.5,773.5 L835.0,762.9 L836.5,752.0 L838.0,740.9 L839.5,729.6 L841.0,718.0 L842.5,706.2 L844.0,694.2 L845.5,681.9 L847.0,669.5 L848.5,656.9 L850.0,644.1 L851.5,631.2 L853.0,618.1 L854.5,605.0 L856.0,591.7 L857.5,578.3 L859.0,564.8 L860.5,551.3 L862.0,537.8 L863.5,524.3 L865.0,510.7 L866.5,497.2 L868.0,483.8 L869.5,470.5 L871.0,457.2 L872.5,444.1 L874.0,431.1 L875.5,418.4 L877.0,405.8 L878.5,393.4 L880.0,381.3 L881.5,369.5 L883.0,358.0 L884.5,346.8 L886.0,336.0 L887.5,325.5 L889.0,315.5 L890.5,305.9 L892.0,296.7 L893.5,288.0 L895.0,279.8 L896.5,272.0 L898.0,264.9 L899.5,258.2 L901.0,252.2 L902.5,246.7 L904.0,241.8 L905.5,237.5 L907.0,233.8 L908.5,230.8 L910.0,228.4 L911.5,226.6 L913.0,225.5 L914.5,225.1 L916.0,225.3 L917.5,226.1 L919.0,227.5 L920.5,229.6 L922.0,232.3 L923.5,235.7 L925.0,239.6 L926.5,244.1 L928.0,249.2 L929.5,254.9 L931.0,261.2 L932.5,268.0 L934.0,275.3 L935.5,283.1 L937.0,291.4 L938.5,300.2 L940.0,309.4 L941.5,319.1 L943.0,329.1 L944.5,339.6 L946.0,350.4 L947.5,361.5 L949.0,373.0 L950.5,384.7 L952.0,396.7 L953.5,408.9 L955.0,421.4 L956.5,434.1 L958.0,446.9 L959.5,459.8 L961.0,472.9 L962.5,486.1 L964.0,499.4 L965.5,512.7 L967.0,526.0 L968.5,539.4 L970.0,552.7 L971.5,566.0 L973.0,579.3 L974.5,592.5 L976.0,605.6 L977.5,618.6 L979.0,631.5 L980.5,644.3 L982.0,656.9 L983.5,669.3 L985.0,681.6 L986.5,693.6 L988.0,705.5 L989.5,717.2 L991.0,728.6 L992.5,739.8 L994.0,750.8 L995.5,761.5 L997.0,772.0 L998.5,782.2 L1000.0,792.2 L1001.5,801.9 L1003.0,811.4 L1004.5,820.5 L1006.0,829.4 L1007.5,838.1 L1009.0,846.4 L1010.5,854.5 L1012.0,862.3 L1013.5,869.9 L1015.0,877.2 L1016.5,884.2 L1018.0,891.0 L1019.5,897.5 L1021.0,903.7 L1022.5,909.7 L1024.0,915.5 L1025.5,921.0 L1027.0,926.3 L1028.5,931.3 L1030.0,936.2 L1031.5,940.8 L1033.0,945.2 L1034.5,949.4 L1036.0,953.4 L1037.5,957.2 L1039.0,960.8 L1040.5,964.3 L1042.0,967.5 L1043.5,970.6 L1045.0,973.5 L1046.5,976.3 L1048.0,978.9 L1049.5,981.4 L1051.0,983.8 L1052.5,986.0 L1054.0,988.1 L1055.5,990.0 L1057.0,991.9 L1058.5,993.6 L1060.0,995.3 L1061.5,996.8 L1063.0,998.3 L1064.5,999.6 L1066.0,1000.9 L1067.5,1002.1 L1069.0,1003.2 L1070.5,1004.2 L1072.0,1005.2 L1073.5,1006.1 L1075.0,1007.0 L1076.5,1007.8 L1078.0,1008.5 L1079.5,1009.2 L1081.0,1009.9 L1082.5,1010.5 L1084.0,1011.0 L1085.5,1011.5 L1087.0,1012.0 L1088.5,1012.5 L1090.0,1012.9 L1091.5,1013.3 L1093.0,1013.7 L1094.5,1014.0 L1096.0,1014.3 L1097.5,1014.6 L1099.0,1014.9 L1100.5,1015.1 L1102.0,1015.4 L1103.5,1015.6 L1105.0,1015.8 L1106.5,1016.0 L1108.0,1016.2 L1109.5,1016.4 L1111.0,1016.5 L1112.5,1016.7 L1114.0,1016.8 L1115.5,1016.9 L1117.0,1017.0 L1118.5,1017.1 L1120.0,1017.3 L1121.5,1017.4 L1123.0,1017.4 L1124.5,1017.5 L1126.0,1017.6 L1127.5,1017.7 L1129.0,1017.8 L1130.5,1017.8 L1132.0,1017.9 L1133.5,1018.0 L1135.0,1018.0 L1136.5,1018.1 L1138.0,1018.1" fill="none" stroke="#800080" stroke-width="4.17" stroke-linejoin="round"/></g>
<!-- envelope -->
<path id="env" d="M175.0,1016.1 L176.5,1016.0 L178.0,1015.9 L179.5,1015.7 L181.0,1015.5 L182.5,1015.4 L184.0,1015.2 L185.5,1015.0 L187.0,1014.8 L188.5,1014.6 L190.0,1014.4 L191.5,1014.2 L193.0,1014.0 L194.5,1013.7 L196.0,1013.5 L197.5,1013.2 L199.0,1012.9 L200.5,1012.7 L202.0,1012.4 L203.5,1012.0 L205.0,1011.7 L206.5,1011.4 L208.0,1011.0 L209.5,1010.6 L211.0,1010.2 L212.5,1009.8 L214.0,1009.4 L215.5,1008.9 L217.0,1008.4 L218.5,1007.9 L220.0,1007.4 L221.5,1006.9 L223.0,1006.3 L224.5,1005.7 L226.0,1005.1 L227.5,1004.5 L229.0,1003.8 L230.5,1003.2 L232.0,1002.4 L233.5,1001.7 L235.0,1000.9 L236.5,1000.2 L238.0,999.3 L239.5,998.5 L241.0,997.6 L242.5,996.7 L244.0,995.7 L245.5,994.7 L247.0,993.7 L248.5,992.7 L250.0,991.6 L251.5,990.5 L253.0,989.3 L254.5,988.1 L256.0,986.9 L257.5,985.6 L259.0,984.3 L260.5,983.0 L262.0,981.6 L263.5,980.2 L265.0,978.7 L266.5,977.2 L268.0,975.7 L269.5,974.1 L271.0,972.5 L272.5,970.9 L274.0,969.2 L275.5,967.4 L277.0,965.7 L278.5,963.9 L280.0,962.0 L281.5,960.1 L283.0,958.2 L284.5,956.2 L286.0,954.2 L287.5,952.2 L289.0,950.1 L290.5,948.0 L292.0,945.8 L293.5,943.6 L295.0,941.4 L296.5,939.2 L298.0,936.9 L299.5,934.5 L301.0,932.2 L302.5,929.8 L304.0,927.3 L305.5,924.9 L307.0,922.4 L308.5,919.8 L310.0,917.3 L311.5,914.7 L313.0,912.1 L314.5,909.4 L316.0,906.7 L317.5,904.0 L319.0,901.3 L320.5,898.5 L322.0,895.7 L323.5,892.9 L325.0,890.0 L326.5,887.1 L328.0,884.2 L329.5,881.2 L331.0,878.3 L332.5,875.2 L334.0,872.2 L335.5,869.1 L337.0,866.0 L338.5,862.8 L340.0,859.6 L341.5,856.4 L343.0,853.1 L344.5,849.8 L346.0,846.5 L347.5,843.1 L349.0,839.6 L350.5,836.1 L352.0,832.6 L353.5,829.0 L355.0,825.3 L356.5,821.6 L358.0,817.9 L359.5,814.1 L361.0,810.2 L362.5,806.3 L364.0,802.3 L365.5,798.2 L367.0,794.1 L368.5,789.9 L370.0,785.7 L371.5,781.4 L373.0,777.0 L374.5,772.6 L376.0,768.1 L377.5,763.6 L379.0,758.9 L380.5,754.3 L382.0,749.5 L383.5,744.7 L385.0,739.9 L386.5,735.0 L388.0,730.1 L389.5,725.1 L391.0,720.1 L392.5,715.1 L394.0,710.0 L395.5,705.0 L397.0,699.9 L398.5,694.8 L400.0,689.7 L401.5,684.6 L403.0,679.5 L404.5,674.5 L406.0,669.5 L407.5,664.5 L409.0,659.5 L410.5,654.6 L412.0,649.8 L413.5,645.0 L415.0,640.4 L416.5,635.8 L418.0,631.3 L419.5,626.9 L421.0,622.6 L422.5,618.4 L424.0,614.4 L425.5,610.5 L427.0,606.7 L428.5,603.1 L430.0,599.6 L431.5,596.3 L433.0,593.2 L434.5,590.2 L436.0,587.4 L437.5,584.8 L439.0,582.4 L440.5,580.1 L442.0,578.0 L443.5,576.1 L445.0,574.3 L446.5,572.7 L448.0,571.3 L449.5,569.9 L451.0,568.7 L452.5,567.6 L454.0,566.7 L455.5,565.8 L457.0,565.0 L458.5,564.3 L460.0,563.7 L461.5,563.1 L463.0,562.6 L464.5,562.1 L466.0,561.6 L467.5,561.2 L469.0,560.8 L470.5,560.3 L472.0,559.9 L473.5,559.4 L475.0,558.9 L476.5,558.3 L478.0,557.7 L479.5,557.1 L481.0,556.4 L482.5,555.6 L484.0,554.7 L485.5,553.7 L487.0,552.7 L488.5,551.5 L490.0,550.3 L491.5,548.9 L493.0,547.5 L494.5,545.9 L496.0,544.3 L497.5,542.6 L499.0,540.7 L500.5,538.8 L502.0,536.8 L503.5,534.7 L505.0,532.5 L506.5,530.3 L508.0,528.0 L509.5,525.6 L511.0,523.2 L512.5,520.7 L514.0,518.2 L515.5,515.7 L517.0,513.1 L518.5,510.6 L520.0,508.0 L521.5,505.5 L523.0,503.0 L524.5,500.5 L526.0,498.0 L527.5,495.6 L529.0,493.3 L530.5,491.0 L532.0,488.8 L533.5,486.6 L535.0,484.6 L536.5,482.6 L538.0,480.7 L539.5,478.9 L541.0,477.2 L542.5,475.6 L544.0,474.1 L545.5,472.7 L547.0,471.3 L548.5,470.1 L550.0,468.9 L551.5,467.8 L553.0,466.8 L554.5,465.9 L556.0,465.0 L557.5,464.2 L559.0,463.4 L560.5,462.7 L562.0,461.9 L563.5,461.2 L565.0,460.5 L566.5,459.7 L568.0,458.9 L569.5,458.0 L571.0,457.1 L572.5,456.1 L574.0,455.0 L575.5,453.8 L577.0,452.5 L578.5,451.1 L580.0,449.5 L581.5,447.8 L583.0,445.9 L584.5,443.8 L586.0,441.6 L587.5,439.2 L589.0,436.7 L590.5,433.9 L592.0,431.0 L593.5,427.9 L595.0,424.7 L596.5,421.2 L598.0,417.7 L599.5,414.0 L601.0,410.1 L602.5,406.2 L604.0,402.1 L605.5,398.0 L607.0,393.8 L608.5,389.6 L610.0,385.4 L611.5,381.2 L613.0,377.1 L614.5,373.0 L616.0,369.1 L617.5,365.3 L619.0,361.6 L620.5,358.2 L622.0,354.9 L623.5,352.0 L625.0,349.3 L626.5,347.0 L628.0,345.1 L629.5,343.5 L631.0,342.4 L632.5,341.7 L634.0,341.5 L635.5,341.8 L637.0,342.6 L638.5,344.0 L640.0,345.9 L641.5,348.5 L643.0,351.6 L644.5,355.3 L646.0,359.7 L647.5,364.6 L649.0,370.2 L650.5,376.3 L652.0,382.9 L653.5,390.1 L655.0,397.9 L656.5,406.2 L658.0,415.0 L659.5,424.4 L661.0,434.2 L662.5,444.4 L664.0,455.1 L665.5,466.2 L667.0,477.6 L668.5,489.4 L670.0,501.6 L671.5,514.0 L673.0,526.6 L674.5,539.5 L676.0,552.6 L677.5,565.8 L679.0,579.1 L680.5,592.6 L682.0,606.1 L683.5,619.6 L685.0,633.1 L686.5,646.6 L688.0,660.0 L689.5,673.4 L691.0,686.6 L692.5,699.7 L694.0,712.6 L695.5,725.3 L697.0,737.8 L698.5,750.0 L700.0,762.0 L701.5,773.8 L703.0,785.2 L704.5,796.4 L706.0,807.2 L707.5,817.8 L709.0,827.9 L710.5,837.8 L712.0,847.3 L713.5,856.5 L715.0,865.3 L716.5,873.8 L718.0,881.9 L719.5,889.6 L721.0,897.0 L722.5,904.1 L724.0,910.8 L725.5,917.2 L727.0,923.2 L728.5,928.9 L730.0,934.3 L731.5,939.3 L733.0,944.1 L734.5,948.5 L736.0,952.7 L737.5,956.5 L739.0,960.1 L740.5,963.4 L742.0,966.5 L743.5,969.3 L745.0,971.8 L746.5,974.1 L748.0,976.2 L749.5,978.1 L751.0,979.7 L752.5,981.2 L754.0,982.4 L755.5,983.4 L757.0,984.3 L758.5,984.9 L760.0,985.4 L761.5,985.7 L763.0,985.8 L764.5,985.8 L766.0,985.6 L767.5,985.2 L769.0,984.6 L770.5,983.9 L772.0,983.0 L773.5,982.0 L775.0,980.8 L776.5,979.4 L778.0,977.8 L779.5,976.1 L781.0,974.2 L782.5,972.2 L784.0,969.9 L785.5,967.5 L787.0,964.9 L788.5,962.1 L790.0,959.1 L791.5,955.9 L793.0,952.5 L794.5,948.9 L796.0,945.1 L797.5,941.1 L799.0,936.9 L800.5,932.4 L802.0,927.7 L803.5,922.7 L805.0,917.6 L806.5,912.1 L808.0,906.5 L809.5,900.5 L811.0,894.3 L812.5,887.9 L814.0,881.1 L815.5,874.1 L817.0,866.9 L818.5,859.3 L820.0,851.5 L821.5,843.4 L823.0,835.0 L824.5,826.3 L826.0,817.4 L827.5,808.1 L829.0,798.6 L830.5,788.8 L832.0,778.8 L833.5,768.5 L835.0,757.9 L836.5,747.0 L838.0,735.9 L839.5,724.6 L841.0,713.0 L842.5,701.2 L844.0,689.1 L845.5,676.9 L847.0,664.4 L848.5,651.8 L850.0,639.0 L851.5,626.1 L853.0,613.0 L854.5,599.8 L856.0,586.5 L857.5,573.0 L859.0,559.6 L860.5,546.0 L862.0,532.5 L863.5,518.9 L865.0,505.3 L866.5,491.8 L868.0,478.3 L869.5,464.9 L871.0,451.6 L872.5,438.4 L874.0,425.4 L875.5,412.6 L877.0,399.9 L878.5,387.5 L880.0,375.3 L881.5,363.4 L883.0,351.8 L884.5,340.5 L886.0,329.6 L887.5,319.0 L889.0,308.8 L890.5,299.0 L892.0,289.6 L893.5,280.7 L895.0,272.2 L896.5,264.3 L898.0,256.8 L899.5,249.8 L901.0,243.3 L902.5,237.4 L904.0,232.0 L905.5,227.2 L907.0,222.9 L908.5,219.1 L910.0,215.9 L911.5,213.2 L913.0,211.0 L914.5,209.3 L916.0,208.1 L917.5,207.4 L919.0,207.1 L920.5,207.2 L922.0,207.7 L923.5,208.6 L925.0,209.8 L926.5,211.2 L928.0,212.9 L929.5,214.9 L931.0,216.9 L932.5,219.2 L934.0,221.5 L935.5,223.8 L937.0,226.1 L938.5,228.4 L940.0,230.6 L941.5,232.7 L943.0,234.6 L944.5,236.3 L946.0,237.8 L947.5,239.0 L949.0,239.9 L950.5,240.5 L952.0,240.8 L953.5,240.8 L955.0,240.4 L956.5,239.7 L958.0,238.7 L959.5,237.4 L961.0,235.8 L962.5,234.0 L964.0,231.9 L965.5,229.7 L967.0,227.3 L968.5,224.9 L970.0,222.4 L971.5,220.0 L973.0,217.6 L974.5,215.4 L976.0,213.5 L977.5,211.8 L979.0,210.5 L980.5,209.5 L982.0,209.0 L983.5,209.1 L985.0,209.6 L986.5,210.8 L988.0,212.5 L989.5,214.9 L991.0,217.9 L992.5,221.5 L994.0,225.7 L995.5,230.4 L997.0,235.6 L998.5,241.2 L1000.0,247.2 L1001.5,253.4 L1003.0,259.8 L1004.5,266.4 L1006.0,273.0 L1007.5,279.5 L1009.0,285.9 L1010.5,292.1 L1012.0,298.1 L1013.5,303.6 L1015.0,308.9 L1016.5,313.7 L1018.0,318.0 L1019.5,321.9 L1021.0,325.4 L1022.5,328.4 L1024.0,331.0 L1025.5,333.2 L1027.0,335.1 L1028.5,336.7 L1030.0,338.2 L1031.5,339.6 L1033.0,340.9 L1034.5,342.4 L1036.0,344.0 L1037.5,346.0 L1039.0,348.4 L1040.5,351.3 L1042.0,354.8 L1043.5,359.1 L1045.0,364.2 L1046.5,370.1 L1048.0,377.0 L1049.5,385.0 L1051.0,394.0 L1052.5,404.1 L1054.0,415.3 L1055.5,427.5 L1057.0,440.8 L1058.5,455.2 L1060.0,470.5 L1061.5,486.6 L1063.0,503.6 L1064.5,521.3 L1066.0,539.7 L1067.5,558.5 L1069.0,577.8 L1070.5,597.4 L1072.0,617.2 L1073.5,637.1 L1075.0,657.0 L1076.5,676.7 L1078.0,696.3 L1079.5,715.6 L1081.0,734.5 L1082.5,752.9 L1084.0,770.8 L1085.5,788.1 L1087.0,804.8 L1088.5,820.8 L1090.0,836.1 L1091.5,850.6 L1093.0,864.4 L1094.5,877.3 L1096.0,889.5 L1097.5,901.0 L1099.0,911.6 L1100.5,921.5 L1102.0,930.7 L1103.5,939.1 L1105.0,946.9 L1106.5,954.0 L1108.0,960.5 L1109.5,966.4 L1111.0,971.7 L1112.5,976.5 L1114.0,980.9 L1115.5,984.8 L1117.0,988.3 L1118.5,991.4 L1120.0,994.2 L1121.5,996.7 L1123.0,998.9 L1124.5,1000.8 L1126.0,1002.6 L1127.5,1004.1 L1129.0,1005.4 L1130.5,1006.6 L1132.0,1007.6 L1133.5,1008.5 L1135.0,1009.3 L1136.5,1010.0 L1138.0,1010.6" fill="none" stroke="#000" stroke-width="6.25" stroke-linejoin="round" stroke-linecap="round"/>
<!-- axes -->
<g id="axes">
<path d="M108.45,137 L108.45,1021.0 L1231.5,1021.0" fill="none" stroke="#000" stroke-width="6.25" stroke-linejoin="miter"/>
<line x1="108.3" y1="1021.0" x2="108.3" y2="1039.9" stroke="#000" stroke-width="6.25"/><line x1="268.3" y1="1021.0" x2="268.3" y2="1039.9" stroke="#000" stroke-width="6.25"/><line x1="428.3" y1="1021.0" x2="428.3" y2="1039.9" stroke="#000" stroke-width="6.25"/><line x1="588.3" y1="1021.0" x2="588.3" y2="1039.9" stroke="#000" stroke-width="6.25"/><line x1="748.3" y1="1021.0" x2="748.3" y2="1039.9" stroke="#000" stroke-width="6.25"/><line x1="908.3" y1="1021.0" x2="908.3" y2="1039.9" stroke="#000" stroke-width="6.25"/><line x1="1068.3" y1="1021.0" x2="1068.3" y2="1039.9" stroke="#000" stroke-width="6.25"/><line x1="1228.3" y1="1021.0" x2="1228.3" y2="1039.9" stroke="#000" stroke-width="6.25"/>
</g>
<rect x="175.0" y="1019.3" width="963.0" height="4.3" fill="#2e2431"/>
<!-- component fills (translucent, on top) -->
<g id="fills"><path d="M175.0,1017.6 L176.5,1017.5 L178.0,1017.4 L179.5,1017.2 L181.0,1017.1 L182.5,1016.9 L184.0,1016.8 L185.5,1016.6 L187.0,1016.4 L188.5,1016.2 L190.0,1016.0 L191.5,1015.8 L193.0,1015.6 L194.5,1015.4 L196.0,1015.1 L197.5,1014.9 L199.0,1014.6 L200.5,1014.4 L202.0,1014.1 L203.5,1013.8 L205.0,1013.4 L206.5,1013.1 L208.0,1012.8 L209.5,1012.4 L211.0,1012.0 L212.5,1011.6 L214.0,1011.2 L215.5,1010.8 L217.0,1010.3 L218.5,1009.8 L220.0,1009.3 L221.5,1008.8 L223.0,1008.3 L224.5,1007.7 L226.0,1007.1 L227.5,1006.5 L229.0,1005.8 L230.5,1005.2 L232.0,1004.5 L233.5,1003.8 L235.0,1003.0 L236.5,1002.3 L238.0,1001.4 L239.5,1000.6 L241.0,999.7 L242.5,998.9 L244.0,997.9 L245.5,997.0 L247.0,996.0 L248.5,994.9 L250.0,993.9 L251.5,992.8 L253.0,991.7 L254.5,990.5 L256.0,989.3 L257.5,988.1 L259.0,986.8 L260.5,985.5 L262.0,984.1 L263.5,982.7 L265.0,981.3 L266.5,979.9 L268.0,978.4 L269.5,976.8 L271.0,975.2 L272.5,973.6 L274.0,972.0 L275.5,970.3 L277.0,968.6 L278.5,966.8 L280.0,965.0 L281.5,963.2 L283.0,961.3 L284.5,959.4 L286.0,957.5 L287.5,955.5 L289.0,953.5 L290.5,951.4 L292.0,949.4 L293.5,947.3 L295.0,945.2 L296.5,943.0 L298.0,940.8 L299.5,938.6 L301.0,936.4 L302.5,934.2 L304.0,931.9 L305.5,929.6 L307.0,927.3 L308.5,925.0 L310.0,922.7 L311.5,920.3 L313.0,918.0 L314.5,915.6 L316.0,913.3 L317.5,910.9 L319.0,908.5 L320.5,906.2 L322.0,903.8 L323.5,901.5 L325.0,899.1 L326.5,896.8 L328.0,894.5 L329.5,892.2 L331.0,889.9 L332.5,887.6 L334.0,885.4 L335.5,883.2 L337.0,881.0 L338.5,878.9 L340.0,876.8 L341.5,874.8 L343.0,872.7 L344.5,870.8 L346.0,868.8 L347.5,867.0 L349.0,865.1 L350.5,863.4 L352.0,861.7 L353.5,860.0 L355.0,858.5 L356.5,856.9 L358.0,855.5 L359.5,854.1 L361.0,852.8 L362.5,851.6 L364.0,850.5 L365.5,849.4 L367.0,848.4 L368.5,847.5 L370.0,846.7 L371.5,846.0 L373.0,845.3 L374.5,844.8 L376.0,844.3 L377.5,844.0 L379.0,843.7 L380.5,843.5 L382.0,843.4 L383.5,843.4 L385.0,843.5 L386.5,843.7 L388.0,844.0 L389.5,844.4 L391.0,844.9 L392.5,845.5 L394.0,846.2 L395.5,846.9 L397.0,847.8 L398.5,848.8 L400.0,849.8 L401.5,850.9 L403.0,852.1 L404.5,853.4 L406.0,854.8 L407.5,856.2 L409.0,857.8 L410.5,859.3 L412.0,861.0 L413.5,862.7 L415.0,864.5 L416.5,866.4 L418.0,868.3 L419.5,870.2 L421.0,872.3 L422.5,874.3 L424.0,876.4 L425.5,878.6 L427.0,880.8 L428.5,883.0 L430.0,885.2 L431.5,887.5 L433.0,889.8 L434.5,892.2 L436.0,894.5 L437.5,896.9 L439.0,899.3 L440.5,901.7 L442.0,904.1 L443.5,906.6 L445.0,909.0 L446.5,911.4 L448.0,913.8 L449.5,916.3 L451.0,918.7 L452.5,921.1 L454.0,923.5 L455.5,925.9 L457.0,928.3 L458.5,930.6 L460.0,933.0 L461.5,935.3 L463.0,937.6 L464.5,939.8 L466.0,942.1 L467.5,944.3 L469.0,946.5 L470.5,948.7 L472.0,950.8 L473.5,952.9 L475.0,955.0 L476.5,957.0 L478.0,959.0 L479.5,961.0 L481.0,962.9 L482.5,964.8 L484.0,966.6 L485.5,968.4 L487.0,970.2 L488.5,972.0 L490.0,973.6 L491.5,975.3 L493.0,976.9 L494.5,978.5 L496.0,980.0 L497.5,981.5 L499.0,983.0 L500.5,984.4 L502.0,985.8 L503.5,987.1 L505.0,988.4 L506.5,989.7 L508.0,990.9 L509.5,992.1 L511.0,993.2 L512.5,994.3 L514.0,995.4 L515.5,996.4 L517.0,997.4 L518.5,998.4 L520.0,999.4 L521.5,1000.3 L523.0,1001.1 L524.5,1002.0 L526.0,1002.8 L527.5,1003.5 L529.0,1004.3 L530.5,1005.0 L532.0,1005.7 L533.5,1006.4 L535.0,1007.0 L536.5,1007.6 L538.0,1008.2 L539.5,1008.7 L541.0,1009.3 L542.5,1009.8 L544.0,1010.3 L545.5,1010.8 L547.0,1011.2 L548.5,1011.6 L550.0,1012.0 L551.5,1012.4 L553.0,1012.8 L554.5,1013.2 L556.0,1013.5 L557.5,1013.8 L559.0,1014.1 L560.5,1014.4 L562.0,1014.7 L563.5,1015.0 L565.0,1015.2 L566.5,1015.5 L568.0,1015.7 L569.5,1015.9 L571.0,1016.1 L572.5,1016.3 L574.0,1016.5 L575.5,1016.7 L577.0,1016.9 L578.5,1017.0 L580.0,1017.2 L581.5,1017.3 L583.0,1017.5 L584.5,1017.6 L586.0,1017.7 L587.5,1017.8 L589.0,1017.9 L590.5,1018.0 L592.0,1018.1 L593.5,1018.2 L595.0,1018.3 L596.5,1018.4 L598.0,1018.5 L599.5,1018.6 L601.0,1018.6 L602.5,1018.7 L604.0,1018.8 L605.5,1018.8 L607.0,1018.9 L608.5,1019.0 L610.0,1019.0 L611.5,1019.1 L613.0,1019.1 L614.5,1019.2 L616.0,1019.2 L617.5,1019.2 L619.0,1019.3 L620.5,1019.3 L622.0,1019.4 L623.5,1019.4 L625.0,1019.4 L626.5,1019.5 L628.0,1019.5 L629.5,1019.5 L631.0,1019.5 L632.5,1019.6 L634.0,1019.6 L635.5,1019.6 L637.0,1019.7 L638.5,1019.7 L640.0,1019.7 L641.5,1019.7 L643.0,1019.7 L644.5,1019.8 L646.0,1019.8 L647.5,1019.8 L649.0,1019.8 L650.5,1019.8 L652.0,1019.9 L653.5,1019.9 L655.0,1019.9 L656.5,1019.9 L658.0,1019.9 L659.5,1019.9 L661.0,1020.0 L662.5,1020.0 L664.0,1020.0 L665.5,1020.0 L667.0,1020.0 L668.5,1020.0 L670.0,1020.0 L671.5,1020.1 L673.0,1020.1 L674.5,1020.1 L676.0,1020.1 L677.5,1020.1 L679.0,1020.1 L680.5,1020.1 L682.0,1020.1 L683.5,1020.2 L685.0,1020.2 L686.5,1020.2 L688.0,1020.2 L689.5,1020.2 L691.0,1020.2 L692.5,1020.2 L694.0,1020.2 L695.5,1020.2 L697.0,1020.2 L698.5,1020.3 L700.0,1020.3 L701.5,1020.3 L703.0,1020.3 L704.5,1020.3 L706.0,1020.3 L707.5,1020.3 L709.0,1020.3 L710.5,1020.3 L712.0,1020.3 L713.5,1020.3 L715.0,1020.4 L716.5,1020.4 L718.0,1020.4 L719.5,1020.4 L721.0,1020.4 L722.5,1020.4 L724.0,1020.4 L725.5,1020.4 L727.0,1020.4 L728.5,1020.4 L730.0,1020.4 L731.5,1020.4 L733.0,1020.4 L734.5,1020.4 L736.0,1020.5 L737.5,1020.5 L739.0,1020.5 L740.5,1020.5 L742.0,1020.5 L743.5,1020.5 L745.0,1020.5 L746.5,1020.5 L748.0,1020.5 L749.5,1020.5 L751.0,1020.5 L752.5,1020.5 L754.0,1020.5 L755.5,1020.5 L757.0,1020.5 L758.5,1020.5 L760.0,1020.6 L761.5,1020.6 L763.0,1020.6 L764.5,1020.6 L766.0,1020.6 L767.5,1020.6 L769.0,1020.6 L770.5,1020.6 L772.0,1020.6 L773.5,1020.6 L775.0,1020.6 L776.5,1020.6 L778.0,1020.6 L779.5,1020.6 L781.0,1020.6 L782.5,1020.6 L784.0,1020.6 L785.5,1020.6 L787.0,1020.6 L788.5,1020.7 L790.0,1020.7 L791.5,1020.7 L793.0,1020.7 L794.5,1020.7 L796.0,1020.7 L797.5,1020.7 L799.0,1020.7 L800.5,1020.7 L802.0,1020.7 L803.5,1020.7 L805.0,1020.7 L806.5,1020.7 L808.0,1020.7 L809.5,1020.7 L811.0,1020.7 L812.5,1020.7 L814.0,1020.7 L815.5,1020.7 L817.0,1020.7 L818.5,1020.7 L820.0,1020.7 L821.5,1020.7 L823.0,1020.7 L824.5,1020.8 L826.0,1020.8 L827.5,1020.8 L829.0,1020.8 L830.5,1020.8 L832.0,1020.8 L833.5,1020.8 L835.0,1020.8 L836.5,1020.8 L838.0,1020.8 L839.5,1020.8 L841.0,1020.8 L842.5,1020.8 L844.0,1020.8 L845.5,1020.8 L847.0,1020.8 L848.5,1020.8 L850.0,1020.8 L851.5,1020.8 L853.0,1020.8 L854.5,1020.8 L856.0,1020.8 L857.5,1020.8 L859.0,1020.8 L860.5,1020.8 L862.0,1020.8 L863.5,1020.8 L865.0,1020.8 L866.5,1020.8 L868.0,1020.8 L869.5,1020.8 L871.0,1020.8 L872.5,1020.9 L874.0,1020.9 L875.5,1020.9 L877.0,1020.9 L878.5,1020.9 L880.0,1020.9 L881.5,1020.9 L883.0,1020.9 L884.5,1020.9 L886.0,1020.9 L887.5,1020.9 L889.0,1020.9 L890.5,1020.9 L892.0,1020.9 L893.5,1020.9 L895.0,1020.9 L896.5,1020.9 L898.0,1020.9 L899.5,1020.9 L901.0,1020.9 L902.5,1020.9 L904.0,1020.9 L905.5,1020.9 L907.0,1020.9 L908.5,1020.9 L910.0,1020.9 L911.5,1020.9 L913.0,1020.9 L914.5,1020.9 L916.0,1020.9 L917.5,1020.9 L919.0,1020.9 L920.5,1020.9 L922.0,1020.9 L923.5,1020.9 L925.0,1020.9 L926.5,1020.9 L928.0,1020.9 L929.5,1020.9 L931.0,1020.9 L932.5,1020.9 L934.0,1020.9 L935.5,1020.9 L937.0,1020.9 L938.5,1020.9 L940.0,1021.0 L941.5,1021.0 L943.0,1021.0 L944.5,1021.0 L946.0,1021.0 L947.5,1021.0 L949.0,1021.0 L950.5,1021.0 L952.0,1021.0 L953.5,1021.0 L955.0,1021.0 L956.5,1021.0 L958.0,1021.0 L959.5,1021.0 L961.0,1021.0 L962.5,1021.0 L964.0,1021.0 L965.5,1021.0 L967.0,1021.0 L968.5,1021.0 L970.0,1021.0 L971.5,1021.0 L973.0,1021.0 L974.5,1021.0 L976.0,1021.0 L977.5,1021.0 L979.0,1021.0 L980.5,1021.0 L982.0,1021.0 L983.5,1021.0 L985.0,1021.0 L986.5,1021.0 L988.0,1021.0 L989.5,1021.0 L991.0,1021.0 L992.5,1021.0 L994.0,1021.0 L995.5,1021.0 L997.0,1021.0 L998.5,1021.0 L1000.0,1021.0 L1001.5,1021.0 L1003.0,1021.0 L1004.5,1021.0 L1006.0,1021.0 L1007.5,1021.0 L1009.0,1021.0 L1010.5,1021.0 L1012.0,1021.0 L1013.5,1021.0 L1015.0,1021.0 L1016.5,1021.0 L1018.0,1021.0 L1019.5,1021.0 L1021.0,1021.0 L1022.5,1021.0 L1024.0,1021.0 L1025.5,1021.0 L1027.0,1021.0 L1028.5,1021.0 L1030.0,1021.0 L1031.5,1021.0 L1033.0,1021.0 L1034.5,1021.0 L1036.0,1021.0 L1037.5,1021.0 L1039.0,1021.0 L1040.5,1021.0 L1042.0,1021.0 L1043.5,1021.1 L1045.0,1021.1 L1046.5,1021.1 L1048.0,1021.1 L1049.5,1021.1 L1051.0,1021.1 L1052.5,1021.1 L1054.0,1021.1 L1055.5,1021.1 L1057.0,1021.1 L1058.5,1021.1 L1060.0,1021.1 L1061.5,1021.1 L1063.0,1021.1 L1064.5,1021.1 L1066.0,1021.1 L1067.5,1021.1 L1069.0,1021.1 L1070.5,1021.1 L1072.0,1021.1 L1073.5,1021.1 L1075.0,1021.1 L1076.5,1021.1 L1078.0,1021.1 L1079.5,1021.1 L1081.0,1021.1 L1082.5,1021.1 L1084.0,1021.1 L1085.5,1021.1 L1087.0,1021.1 L1088.5,1021.1 L1090.0,1021.1 L1091.5,1021.1 L1093.0,1021.1 L1094.5,1021.1 L1096.0,1021.1 L1097.5,1021.1 L1099.0,1021.1 L1100.5,1021.1 L1102.0,1021.1 L1103.5,1021.1 L1105.0,1021.1 L1106.5,1021.1 L1108.0,1021.1 L1109.5,1021.1 L1111.0,1021.1 L1112.5,1021.1 L1114.0,1021.1 L1115.5,1021.1 L1117.0,1021.1 L1118.5,1021.1 L1120.0,1021.1 L1121.5,1021.1 L1123.0,1021.1 L1124.5,1021.1 L1126.0,1021.1 L1127.5,1021.1 L1129.0,1021.1 L1130.5,1021.1 L1132.0,1021.1 L1133.5,1021.1 L1135.0,1021.1 L1136.5,1021.1 L1138.0,1021.1 L1138.0,1021.3 L175.0,1021.3 Z" fill="#008000" fill-opacity="0.15" stroke="none"/><path d="M175.0,1020.9 L176.5,1020.9 L178.0,1020.9 L179.5,1020.9 L181.0,1020.9 L182.5,1020.9 L184.0,1020.9 L185.5,1020.9 L187.0,1020.9 L188.5,1020.9 L190.0,1020.8 L191.5,1020.8 L193.0,1020.8 L194.5,1020.8 L196.0,1020.8 L197.5,1020.8 L199.0,1020.8 L200.5,1020.8 L202.0,1020.8 L203.5,1020.8 L205.0,1020.8 L206.5,1020.8 L208.0,1020.8 L209.5,1020.8 L211.0,1020.8 L212.5,1020.8 L214.0,1020.8 L215.5,1020.8 L217.0,1020.8 L218.5,1020.8 L220.0,1020.8 L221.5,1020.8 L223.0,1020.8 L224.5,1020.8 L226.0,1020.7 L227.5,1020.7 L229.0,1020.7 L230.5,1020.7 L232.0,1020.7 L233.5,1020.7 L235.0,1020.7 L236.5,1020.7 L238.0,1020.7 L239.5,1020.7 L241.0,1020.7 L242.5,1020.7 L244.0,1020.7 L245.5,1020.7 L247.0,1020.7 L248.5,1020.7 L250.0,1020.7 L251.5,1020.7 L253.0,1020.6 L254.5,1020.6 L256.0,1020.6 L257.5,1020.6 L259.0,1020.6 L260.5,1020.6 L262.0,1020.6 L263.5,1020.6 L265.0,1020.6 L266.5,1020.6 L268.0,1020.6 L269.5,1020.6 L271.0,1020.6 L272.5,1020.6 L274.0,1020.5 L275.5,1020.5 L277.0,1020.5 L278.5,1020.5 L280.0,1020.5 L281.5,1020.5 L283.0,1020.5 L284.5,1020.5 L286.0,1020.5 L287.5,1020.5 L289.0,1020.5 L290.5,1020.5 L292.0,1020.4 L293.5,1020.4 L295.0,1020.4 L296.5,1020.4 L298.0,1020.4 L299.5,1020.4 L301.0,1020.4 L302.5,1020.4 L304.0,1020.4 L305.5,1020.3 L307.0,1020.3 L308.5,1020.3 L310.0,1020.3 L311.5,1020.3 L313.0,1020.3 L314.5,1020.3 L316.0,1020.2 L317.5,1020.2 L319.0,1020.2 L320.5,1020.2 L322.0,1020.2 L323.5,1020.1 L325.0,1020.1 L326.5,1020.1 L328.0,1020.1 L329.5,1020.1 L331.0,1020.0 L332.5,1020.0 L334.0,1020.0 L335.5,1019.9 L337.0,1019.9 L338.5,1019.9 L340.0,1019.8 L341.5,1019.8 L343.0,1019.7 L344.5,1019.7 L346.0,1019.6 L347.5,1019.6 L349.0,1019.5 L350.5,1019.4 L352.0,1019.4 L353.5,1019.3 L355.0,1019.2 L356.5,1019.1 L358.0,1019.0 L359.5,1018.9 L361.0,1018.8 L362.5,1018.7 L364.0,1018.5 L365.5,1018.4 L367.0,1018.2 L368.5,1018.1 L370.0,1017.9 L371.5,1017.7 L373.0,1017.5 L374.5,1017.3 L376.0,1017.0 L377.5,1016.8 L379.0,1016.5 L380.5,1016.2 L382.0,1015.8 L383.5,1015.5 L385.0,1015.1 L386.5,1014.7 L388.0,1014.2 L389.5,1013.8 L391.0,1013.3 L392.5,1012.7 L394.0,1012.1 L395.5,1011.5 L397.0,1010.8 L398.5,1010.1 L400.0,1009.4 L401.5,1008.5 L403.0,1007.7 L404.5,1006.7 L406.0,1005.7 L407.5,1004.7 L409.0,1003.6 L410.5,1002.4 L412.0,1001.1 L413.5,999.8 L415.0,998.3 L416.5,996.8 L418.0,995.2 L419.5,993.5 L421.0,991.8 L422.5,989.9 L424.0,987.9 L425.5,985.8 L427.0,983.6 L428.5,981.2 L430.0,978.8 L431.5,976.2 L433.0,973.5 L434.5,970.7 L436.0,967.8 L437.5,964.7 L439.0,961.4 L440.5,958.1 L442.0,954.5 L443.5,950.9 L445.0,947.0 L446.5,943.0 L448.0,938.9 L449.5,934.6 L451.0,930.1 L452.5,925.5 L454.0,920.7 L455.5,915.7 L457.0,910.6 L458.5,905.3 L460.0,899.9 L461.5,894.2 L463.0,888.4 L464.5,882.5 L466.0,876.4 L467.5,870.1 L469.0,863.7 L470.5,857.1 L472.0,850.3 L473.5,843.5 L475.0,836.4 L476.5,829.3 L478.0,822.0 L479.5,814.6 L481.0,807.1 L482.5,799.4 L484.0,791.7 L485.5,783.9 L487.0,776.0 L488.5,768.0 L490.0,760.0 L491.5,751.9 L493.0,743.8 L494.5,735.6 L496.0,727.4 L497.5,719.2 L499.0,711.0 L500.5,702.9 L502.0,694.8 L503.5,686.7 L505.0,678.7 L506.5,670.7 L508.0,662.9 L509.5,655.1 L511.0,647.5 L512.5,640.0 L514.0,632.7 L515.5,625.5 L517.0,618.5 L518.5,611.7 L520.0,605.0 L521.5,598.6 L523.0,592.5 L524.5,586.6 L526.0,580.9 L527.5,575.5 L529.0,570.4 L530.5,565.6 L532.0,561.2 L533.5,557.0 L535.0,553.1 L536.5,549.6 L538.0,546.5 L539.5,543.7 L541.0,541.2 L542.5,539.1 L544.0,537.4 L545.5,536.1 L547.0,535.1 L548.5,534.5 L550.0,534.4 L551.5,534.6 L553.0,535.1 L554.5,536.1 L556.0,537.5 L557.5,539.2 L559.0,541.4 L560.5,543.9 L562.0,546.7 L563.5,550.0 L565.0,553.5 L566.5,557.5 L568.0,561.7 L569.5,566.3 L571.0,571.2 L572.5,576.4 L574.0,581.9 L575.5,587.7 L577.0,593.7 L578.5,600.0 L580.0,606.5 L581.5,613.2 L583.0,620.1 L584.5,627.3 L586.0,634.6 L587.5,642.0 L589.0,649.6 L590.5,657.4 L592.0,665.2 L593.5,673.2 L595.0,681.3 L596.5,689.4 L598.0,697.6 L599.5,705.8 L601.0,714.0 L602.5,722.3 L604.0,730.6 L605.5,738.8 L607.0,747.1 L608.5,755.3 L610.0,763.4 L611.5,771.5 L613.0,779.5 L614.5,787.5 L616.0,795.4 L617.5,803.1 L619.0,810.8 L620.5,818.3 L622.0,825.7 L623.5,833.0 L625.0,840.2 L626.5,847.2 L628.0,854.1 L629.5,860.8 L631.0,867.4 L632.5,873.8 L634.0,880.0 L635.5,886.1 L637.0,892.0 L638.5,897.8 L640.0,903.4 L641.5,908.8 L643.0,914.0 L644.5,919.1 L646.0,924.0 L647.5,928.7 L649.0,933.3 L650.5,937.7 L652.0,941.9 L653.5,946.0 L655.0,949.9 L656.5,953.6 L658.0,957.2 L659.5,960.7 L661.0,964.0 L662.5,967.1 L664.0,970.2 L665.5,973.0 L667.0,975.8 L668.5,978.4 L670.0,980.9 L671.5,983.2 L673.0,985.5 L674.5,987.6 L676.0,989.7 L677.5,991.6 L679.0,993.4 L680.5,995.1 L682.0,996.7 L683.5,998.2 L685.0,999.7 L686.5,1001.1 L688.0,1002.3 L689.5,1003.5 L691.0,1004.7 L692.5,1005.7 L694.0,1006.7 L695.5,1007.7 L697.0,1008.6 L698.5,1009.4 L700.0,1010.2 L701.5,1010.9 L703.0,1011.6 L704.5,1012.2 L706.0,1012.8 L707.5,1013.3 L709.0,1013.8 L710.5,1014.3 L712.0,1014.7 L713.5,1015.2 L715.0,1015.5 L716.5,1015.9 L718.0,1016.2 L719.5,1016.5 L721.0,1016.8 L722.5,1017.1 L724.0,1017.3 L725.5,1017.5 L727.0,1017.8 L728.5,1017.9 L730.0,1018.1 L731.5,1018.3 L733.0,1018.4 L734.5,1018.6 L736.0,1018.7 L737.5,1018.8 L739.0,1018.9 L740.5,1019.1 L742.0,1019.1 L743.5,1019.2 L745.0,1019.3 L746.5,1019.4 L748.0,1019.5 L749.5,1019.5 L751.0,1019.6 L752.5,1019.6 L754.0,1019.7 L755.5,1019.7 L757.0,1019.8 L758.5,1019.8 L760.0,1019.9 L761.5,1019.9 L763.0,1019.9 L764.5,1020.0 L766.0,1020.0 L767.5,1020.0 L769.0,1020.1 L770.5,1020.1 L772.0,1020.1 L773.5,1020.1 L775.0,1020.2 L776.5,1020.2 L778.0,1020.2 L779.5,1020.2 L781.0,1020.2 L782.5,1020.3 L784.0,1020.3 L785.5,1020.3 L787.0,1020.3 L788.5,1020.3 L790.0,1020.3 L791.5,1020.3 L793.0,1020.4 L794.5,1020.4 L796.0,1020.4 L797.5,1020.4 L799.0,1020.4 L800.5,1020.4 L802.0,1020.4 L803.5,1020.4 L805.0,1020.4 L806.5,1020.5 L808.0,1020.5 L809.5,1020.5 L811.0,1020.5 L812.5,1020.5 L814.0,1020.5 L815.5,1020.5 L817.0,1020.5 L818.5,1020.5 L820.0,1020.5 L821.5,1020.5 L823.0,1020.5 L824.5,1020.6 L826.0,1020.6 L827.5,1020.6 L829.0,1020.6 L830.5,1020.6 L832.0,1020.6 L833.5,1020.6 L835.0,1020.6 L836.5,1020.6 L838.0,1020.6 L839.5,1020.6 L841.0,1020.6 L842.5,1020.6 L844.0,1020.6 L845.5,1020.7 L847.0,1020.7 L848.5,1020.7 L850.0,1020.7 L851.5,1020.7 L853.0,1020.7 L854.5,1020.7 L856.0,1020.7 L857.5,1020.7 L859.0,1020.7 L860.5,1020.7 L862.0,1020.7 L863.5,1020.7 L865.0,1020.7 L866.5,1020.7 L868.0,1020.7 L869.5,1020.7 L871.0,1020.7 L872.5,1020.8 L874.0,1020.8 L875.5,1020.8 L877.0,1020.8 L878.5,1020.8 L880.0,1020.8 L881.5,1020.8 L883.0,1020.8 L884.5,1020.8 L886.0,1020.8 L887.5,1020.8 L889.0,1020.8 L890.5,1020.8 L892.0,1020.8 L893.5,1020.8 L895.0,1020.8 L896.5,1020.8 L898.0,1020.8 L899.5,1020.8 L901.0,1020.8 L902.5,1020.8 L904.0,1020.8 L905.5,1020.8 L907.0,1020.9 L908.5,1020.9 L910.0,1020.9 L911.5,1020.9 L913.0,1020.9 L914.5,1020.9 L916.0,1020.9 L917.5,1020.9 L919.0,1020.9 L920.5,1020.9 L922.0,1020.9 L923.5,1020.9 L925.0,1020.9 L926.5,1020.9 L928.0,1020.9 L929.5,1020.9 L931.0,1020.9 L932.5,1020.9 L934.0,1020.9 L935.5,1020.9 L937.0,1020.9 L938.5,1020.9 L940.0,1020.9 L941.5,1020.9 L943.0,1020.9 L944.5,1020.9 L946.0,1020.9 L947.5,1020.9 L949.0,1020.9 L950.5,1020.9 L952.0,1020.9 L953.5,1020.9 L955.0,1020.9 L956.5,1021.0 L958.0,1021.0 L959.5,1021.0 L961.0,1021.0 L962.5,1021.0 L964.0,1021.0 L965.5,1021.0 L967.0,1021.0 L968.5,1021.0 L970.0,1021.0 L971.5,1021.0 L973.0,1021.0 L974.5,1021.0 L976.0,1021.0 L977.5,1021.0 L979.0,1021.0 L980.5,1021.0 L982.0,1021.0 L983.5,1021.0 L985.0,1021.0 L986.5,1021.0 L988.0,1021.0 L989.5,1021.0 L991.0,1021.0 L992.5,1021.0 L994.0,1021.0 L995.5,1021.0 L997.0,1021.0 L998.5,1021.0 L1000.0,1021.0 L1001.5,1021.0 L1003.0,1021.0 L1004.5,1021.0 L1006.0,1021.0 L1007.5,1021.0 L1009.0,1021.0 L1010.5,1021.0 L1012.0,1021.0 L1013.5,1021.0 L1015.0,1021.0 L1016.5,1021.0 L1018.0,1021.0 L1019.5,1021.0 L1021.0,1021.0 L1022.5,1021.0 L1024.0,1021.0 L1025.5,1021.0 L1027.0,1021.0 L1028.5,1021.0 L1030.0,1021.0 L1031.5,1021.1 L1033.0,1021.1 L1034.5,1021.1 L1036.0,1021.1 L1037.5,1021.1 L1039.0,1021.1 L1040.5,1021.1 L1042.0,1021.1 L1043.5,1021.1 L1045.0,1021.1 L1046.5,1021.1 L1048.0,1021.1 L1049.5,1021.1 L1051.0,1021.1 L1052.5,1021.1 L1054.0,1021.1 L1055.5,1021.1 L1057.0,1021.1 L1058.5,1021.1 L1060.0,1021.1 L1061.5,1021.1 L1063.0,1021.1 L1064.5,1021.1 L1066.0,1021.1 L1067.5,1021.1 L1069.0,1021.1 L1070.5,1021.1 L1072.0,1021.1 L1073.5,1021.1 L1075.0,1021.1 L1076.5,1021.1 L1078.0,1021.1 L1079.5,1021.1 L1081.0,1021.1 L1082.5,1021.1 L1084.0,1021.1 L1085.5,1021.1 L1087.0,1021.1 L1088.5,1021.1 L1090.0,1021.1 L1091.5,1021.1 L1093.0,1021.1 L1094.5,1021.1 L1096.0,1021.1 L1097.5,1021.1 L1099.0,1021.1 L1100.5,1021.1 L1102.0,1021.1 L1103.5,1021.1 L1105.0,1021.1 L1106.5,1021.1 L1108.0,1021.1 L1109.5,1021.1 L1111.0,1021.1 L1112.5,1021.1 L1114.0,1021.1 L1115.5,1021.1 L1117.0,1021.1 L1118.5,1021.1 L1120.0,1021.1 L1121.5,1021.1 L1123.0,1021.1 L1124.5,1021.1 L1126.0,1021.1 L1127.5,1021.1 L1129.0,1021.1 L1130.5,1021.1 L1132.0,1021.1 L1133.5,1021.1 L1135.0,1021.1 L1136.5,1021.1 L1138.0,1021.1 L1138.0,1021.3 L175.0,1021.3 Z" fill="#008000" fill-opacity="0.15" stroke="none"/><path d="M175.0,1021.2 L176.5,1021.2 L178.0,1021.2 L179.5,1021.2 L181.0,1021.2 L182.5,1021.2 L184.0,1021.2 L185.5,1021.2 L187.0,1021.2 L188.5,1021.2 L190.0,1021.2 L191.5,1021.2 L193.0,1021.2 L194.5,1021.2 L196.0,1021.2 L197.5,1021.2 L199.0,1021.2 L200.5,1021.2 L202.0,1021.2 L203.5,1021.2 L205.0,1021.2 L206.5,1021.2 L208.0,1021.2 L209.5,1021.2 L211.0,1021.2 L212.5,1021.2 L214.0,1021.2 L215.5,1021.2 L217.0,1021.2 L218.5,1021.2 L220.0,1021.2 L221.5,1021.2 L223.0,1021.2 L224.5,1021.2 L226.0,1021.2 L227.5,1021.2 L229.0,1021.2 L230.5,1021.2 L232.0,1021.2 L233.5,1021.2 L235.0,1021.2 L236.5,1021.2 L238.0,1021.2 L239.5,1021.2 L241.0,1021.2 L242.5,1021.2 L244.0,1021.2 L245.5,1021.2 L247.0,1021.2 L248.5,1021.2 L250.0,1021.2 L251.5,1021.2 L253.0,1021.2 L254.5,1021.2 L256.0,1021.2 L257.5,1021.2 L259.0,1021.2 L260.5,1021.2 L262.0,1021.2 L263.5,1021.2 L265.0,1021.2 L266.5,1021.2 L268.0,1021.2 L269.5,1021.2 L271.0,1021.2 L272.5,1021.2 L274.0,1021.2 L275.5,1021.2 L277.0,1021.2 L278.5,1021.2 L280.0,1021.2 L281.5,1021.2 L283.0,1021.2 L284.5,1021.2 L286.0,1021.2 L287.5,1021.2 L289.0,1021.2 L290.5,1021.2 L292.0,1021.2 L293.5,1021.2 L295.0,1021.2 L296.5,1021.2 L298.0,1021.2 L299.5,1021.2 L301.0,1021.2 L302.5,1021.2 L304.0,1021.2 L305.5,1021.2 L307.0,1021.2 L308.5,1021.2 L310.0,1021.2 L311.5,1021.2 L313.0,1021.2 L314.5,1021.2 L316.0,1021.2 L317.5,1021.2 L319.0,1021.2 L320.5,1021.2 L322.0,1021.2 L323.5,1021.2 L325.0,1021.2 L326.5,1021.2 L328.0,1021.2 L329.5,1021.2 L331.0,1021.2 L332.5,1021.2 L334.0,1021.2 L335.5,1021.2 L337.0,1021.2 L338.5,1021.2 L340.0,1021.2 L341.5,1021.2 L343.0,1021.2 L344.5,1021.2 L346.0,1021.2 L347.5,1021.2 L349.0,1021.2 L350.5,1021.2 L352.0,1021.2 L353.5,1021.2 L355.0,1021.2 L356.5,1021.2 L358.0,1021.2 L359.5,1021.2 L361.0,1021.2 L362.5,1021.2 L364.0,1021.2 L365.5,1021.2 L367.0,1021.2 L368.5,1021.2 L370.0,1021.2 L371.5,1021.2 L373.0,1021.2 L374.5,1021.2 L376.0,1021.2 L377.5,1021.2 L379.0,1021.2 L380.5,1021.2 L382.0,1021.2 L383.5,1021.2 L385.0,1021.2 L386.5,1021.2 L388.0,1021.2 L389.5,1021.2 L391.0,1021.2 L392.5,1021.2 L394.0,1021.2 L395.5,1021.2 L397.0,1021.2 L398.5,1021.2 L400.0,1021.2 L401.5,1021.2 L403.0,1021.2 L404.5,1021.2 L406.0,1021.2 L407.5,1021.2 L409.0,1021.2 L410.5,1021.2 L412.0,1021.2 L413.5,1021.2 L415.0,1021.2 L416.5,1021.2 L418.0,1021.2 L419.5,1021.2 L421.0,1021.2 L422.5,1021.2 L424.0,1021.2 L425.5,1021.2 L427.0,1021.2 L428.5,1021.2 L430.0,1021.2 L431.5,1021.2 L433.0,1021.2 L434.5,1021.2 L436.0,1021.2 L437.5,1021.2 L439.0,1021.2 L440.5,1021.2 L442.0,1021.2 L443.5,1021.2 L445.0,1021.2 L446.5,1021.2 L448.0,1021.2 L449.5,1021.2 L451.0,1021.2 L452.5,1021.2 L454.0,1021.2 L455.5,1021.2 L457.0,1021.2 L458.5,1021.2 L460.0,1021.2 L461.5,1021.2 L463.0,1021.2 L464.5,1021.2 L466.0,1021.2 L467.5,1021.2 L469.0,1021.1 L470.5,1021.1 L472.0,1021.1 L473.5,1021.1 L475.0,1021.1 L476.5,1021.1 L478.0,1021.1 L479.5,1021.1 L481.0,1021.1 L482.5,1021.1 L484.0,1021.1 L485.5,1021.1 L487.0,1021.1 L488.5,1021.1 L490.0,1021.1 L491.5,1021.1 L493.0,1021.1 L494.5,1021.1 L496.0,1021.1 L497.5,1021.1 L499.0,1021.1 L500.5,1021.1 L502.0,1021.1 L503.5,1021.1 L505.0,1021.1 L506.5,1021.1 L508.0,1021.1 L509.5,1021.1 L511.0,1021.1 L512.5,1021.1 L514.0,1021.1 L515.5,1021.1 L517.0,1021.1 L518.5,1021.1 L520.0,1021.1 L521.5,1021.1 L523.0,1021.1 L524.5,1021.1 L526.0,1021.1 L527.5,1021.1 L529.0,1021.1 L530.5,1021.1 L532.0,1021.1 L533.5,1021.1 L535.0,1021.1 L536.5,1021.1 L538.0,1021.1 L539.5,1021.1 L541.0,1021.1 L542.5,1021.1 L544.0,1021.1 L545.5,1021.1 L547.0,1021.1 L548.5,1021.1 L550.0,1021.1 L551.5,1021.1 L553.0,1021.1 L554.5,1021.1 L556.0,1021.1 L557.5,1021.1 L559.0,1021.1 L560.5,1021.1 L562.0,1021.1 L563.5,1021.1 L565.0,1021.1 L566.5,1021.1 L568.0,1021.1 L569.5,1021.1 L571.0,1021.1 L572.5,1021.1 L574.0,1021.1 L575.5,1021.1 L577.0,1021.1 L578.5,1021.1 L580.0,1021.1 L581.5,1021.1 L583.0,1021.1 L584.5,1021.1 L586.0,1021.1 L587.5,1021.0 L589.0,1021.0 L590.5,1021.0 L592.0,1021.0 L593.5,1021.0 L595.0,1021.0 L596.5,1021.0 L598.0,1021.0 L599.5,1021.0 L601.0,1021.0 L602.5,1021.0 L604.0,1021.0 L605.5,1021.0 L607.0,1021.0 L608.5,1021.0 L610.0,1021.0 L611.5,1021.0 L613.0,1021.0 L614.5,1021.0 L616.0,1021.0 L617.5,1021.0 L619.0,1021.0 L620.5,1021.0 L622.0,1021.0 L623.5,1021.0 L625.0,1021.0 L626.5,1021.0 L628.0,1021.0 L629.5,1021.0 L631.0,1021.0 L632.5,1021.0 L634.0,1021.0 L635.5,1021.0 L637.0,1021.0 L638.5,1021.0 L640.0,1021.0 L641.5,1021.0 L643.0,1021.0 L644.5,1021.0 L646.0,1021.0 L647.5,1021.0 L649.0,1021.0 L650.5,1020.9 L652.0,1020.9 L653.5,1020.9 L655.0,1020.9 L656.5,1020.9 L658.0,1020.9 L659.5,1020.9 L661.0,1020.9 L662.5,1020.9 L664.0,1020.9 L665.5,1020.9 L667.0,1020.9 L668.5,1020.9 L670.0,1020.9 L671.5,1020.9 L673.0,1020.9 L674.5,1020.9 L676.0,1020.9 L677.5,1020.9 L679.0,1020.9 L680.5,1020.9 L682.0,1020.9 L683.5,1020.9 L685.0,1020.9 L686.5,1020.9 L688.0,1020.9 L689.5,1020.9 L691.0,1020.9 L692.5,1020.8 L694.0,1020.8 L695.5,1020.8 L697.0,1020.8 L698.5,1020.8 L700.0,1020.8 L701.5,1020.8 L703.0,1020.8 L704.5,1020.8 L706.0,1020.8 L707.5,1020.8 L709.0,1020.8 L710.5,1020.8 L712.0,1020.8 L713.5,1020.8 L715.0,1020.8 L716.5,1020.8 L718.0,1020.8 L719.5,1020.8 L721.0,1020.7 L722.5,1020.7 L724.0,1020.7 L725.5,1020.7 L727.0,1020.7 L728.5,1020.7 L730.0,1020.7 L731.5,1020.7 L733.0,1020.7 L734.5,1020.7 L736.0,1020.7 L737.5,1020.7 L739.0,1020.7 L740.5,1020.7 L742.0,1020.7 L743.5,1020.6 L745.0,1020.6 L746.5,1020.6 L748.0,1020.6 L749.5,1020.6 L751.0,1020.6 L752.5,1020.6 L754.0,1020.6 L755.5,1020.6 L757.0,1020.6 L758.5,1020.6 L760.0,1020.6 L761.5,1020.5 L763.0,1020.5 L764.5,1020.5 L766.0,1020.5 L767.5,1020.5 L769.0,1020.5 L770.5,1020.5 L772.0,1020.5 L773.5,1020.5 L775.0,1020.4 L776.5,1020.4 L778.0,1020.4 L779.5,1020.4 L781.0,1020.4 L782.5,1020.4 L784.0,1020.4 L785.5,1020.4 L787.0,1020.3 L788.5,1020.3 L790.0,1020.3 L791.5,1020.3 L793.0,1020.3 L794.5,1020.3 L796.0,1020.3 L797.5,1020.2 L799.0,1020.2 L800.5,1020.2 L802.0,1020.2 L803.5,1020.2 L805.0,1020.2 L806.5,1020.1 L808.0,1020.1 L809.5,1020.1 L811.0,1020.1 L812.5,1020.1 L814.0,1020.0 L815.5,1020.0 L817.0,1020.0 L818.5,1020.0 L820.0,1020.0 L821.5,1019.9 L823.0,1019.9 L824.5,1019.9 L826.0,1019.9 L827.5,1019.8 L829.0,1019.8 L830.5,1019.8 L832.0,1019.8 L833.5,1019.7 L835.0,1019.7 L836.5,1019.7 L838.0,1019.7 L839.5,1019.6 L841.0,1019.6 L842.5,1019.6 L844.0,1019.5 L845.5,1019.5 L847.0,1019.5 L848.5,1019.4 L850.0,1019.4 L851.5,1019.3 L853.0,1019.3 L854.5,1019.3 L856.0,1019.2 L857.5,1019.2 L859.0,1019.1 L860.5,1019.1 L862.0,1019.0 L863.5,1019.0 L865.0,1018.9 L866.5,1018.9 L868.0,1018.8 L869.5,1018.7 L871.0,1018.7 L872.5,1018.6 L874.0,1018.5 L875.5,1018.5 L877.0,1018.4 L878.5,1018.3 L880.0,1018.2 L881.5,1018.1 L883.0,1018.0 L884.5,1017.9 L886.0,1017.8 L887.5,1017.6 L889.0,1017.5 L890.5,1017.3 L892.0,1017.1 L893.5,1016.9 L895.0,1016.7 L896.5,1016.4 L898.0,1016.1 L899.5,1015.8 L901.0,1015.4 L902.5,1015.0 L904.0,1014.5 L905.5,1013.9 L907.0,1013.3 L908.5,1012.6 L910.0,1011.8 L911.5,1010.8 L913.0,1009.8 L914.5,1008.6 L916.0,1007.2 L917.5,1005.7 L919.0,1003.9 L920.5,1002.0 L922.0,999.8 L923.5,997.3 L925.0,994.6 L926.5,991.6 L928.0,988.2 L929.5,984.5 L931.0,980.3 L932.5,975.8 L934.0,970.8 L935.5,965.4 L937.0,959.5 L938.5,953.0 L940.0,946.1 L941.5,938.6 L943.0,930.5 L944.5,921.8 L946.0,912.6 L947.5,902.8 L949.0,892.4 L950.5,881.4 L952.0,869.8 L953.5,857.8 L955.0,845.2 L956.5,832.1 L958.0,818.6 L959.5,804.6 L961.0,790.4 L962.5,775.8 L964.0,761.1 L965.5,746.2 L967.0,731.2 L968.5,716.3 L970.0,701.4 L971.5,686.8 L973.0,672.5 L974.5,658.7 L976.0,645.3 L977.5,632.6 L979.0,620.5 L980.5,609.4 L982.0,599.1 L983.5,589.8 L985.0,581.7 L986.5,574.7 L988.0,569.0 L989.5,564.7 L991.0,561.6 L992.5,560.0 L994.0,559.8 L995.5,560.9 L997.0,563.4 L998.5,567.3 L1000.0,572.5 L1001.5,578.9 L1003.0,586.5 L1004.5,595.2 L1006.0,604.9 L1007.5,615.6 L1009.0,627.1 L1010.5,639.4 L1012.0,652.3 L1013.5,665.8 L1015.0,679.7 L1016.5,694.0 L1018.0,708.5 L1019.5,723.2 L1021.0,738.0 L1022.5,752.8 L1024.0,767.4 L1025.5,781.9 L1027.0,796.2 L1028.5,810.1 L1030.0,823.8 L1031.5,837.0 L1033.0,849.7 L1034.5,862.0 L1036.0,873.7 L1037.5,885.0 L1039.0,895.6 L1040.5,905.7 L1042.0,915.3 L1043.5,924.2 L1045.0,932.6 L1046.5,940.5 L1048.0,947.7 L1049.5,954.5 L1051.0,960.7 L1052.5,966.5 L1054.0,971.8 L1055.5,976.6 L1057.0,981.0 L1058.5,985.0 L1060.0,988.7 L1061.5,992.0 L1063.0,994.9 L1064.5,997.6 L1066.0,1000.0 L1067.5,1002.1 L1069.0,1004.0 L1070.5,1005.7 L1072.0,1007.2 L1073.5,1008.6 L1075.0,1009.8 L1076.5,1010.8 L1078.0,1011.7 L1079.5,1012.6 L1081.0,1013.3 L1082.5,1013.9 L1084.0,1014.5 L1085.5,1015.0 L1087.0,1015.4 L1088.5,1015.8 L1090.0,1016.1 L1091.5,1016.4 L1093.0,1016.7 L1094.5,1016.9 L1096.0,1017.1 L1097.5,1017.3 L1099.0,1017.5 L1100.5,1017.6 L1102.0,1017.8 L1103.5,1017.9 L1105.0,1018.0 L1106.5,1018.1 L1108.0,1018.2 L1109.5,1018.3 L1111.0,1018.4 L1112.5,1018.5 L1114.0,1018.5 L1115.5,1018.6 L1117.0,1018.7 L1118.5,1018.7 L1120.0,1018.8 L1121.5,1018.8 L1123.0,1018.9 L1124.5,1019.0 L1126.0,1019.0 L1127.5,1019.1 L1129.0,1019.1 L1130.5,1019.1 L1132.0,1019.2 L1133.5,1019.2 L1135.0,1019.3 L1136.5,1019.3 L1138.0,1019.4 L1138.0,1021.3 L175.0,1021.3 Z" fill="#008000" fill-opacity="0.15" stroke="none"/><path d="M175.0,1021.3 L176.5,1021.3 L178.0,1021.3 L179.5,1021.3 L181.0,1021.3 L182.5,1021.3 L184.0,1021.3 L185.5,1021.3 L187.0,1021.3 L188.5,1021.3 L190.0,1021.3 L191.5,1021.3 L193.0,1021.3 L194.5,1021.3 L196.0,1021.3 L197.5,1021.3 L199.0,1021.3 L200.5,1021.3 L202.0,1021.3 L203.5,1021.3 L205.0,1021.3 L206.5,1021.3 L208.0,1021.3 L209.5,1021.3 L211.0,1021.3 L212.5,1021.3 L214.0,1021.3 L215.5,1021.3 L217.0,1021.3 L218.5,1021.3 L220.0,1021.3 L221.5,1021.3 L223.0,1021.3 L224.5,1021.3 L226.0,1021.3 L227.5,1021.3 L229.0,1021.3 L230.5,1021.3 L232.0,1021.3 L233.5,1021.3 L235.0,1021.3 L236.5,1021.3 L238.0,1021.3 L239.5,1021.3 L241.0,1021.3 L242.5,1021.3 L244.0,1021.3 L245.5,1021.3 L247.0,1021.3 L248.5,1021.3 L250.0,1021.3 L251.5,1021.3 L253.0,1021.3 L254.5,1021.3 L256.0,1021.3 L257.5,1021.3 L259.0,1021.3 L260.5,1021.3 L262.0,1021.3 L263.5,1021.3 L265.0,1021.3 L266.5,1021.3 L268.0,1021.3 L269.5,1021.3 L271.0,1021.3 L272.5,1021.3 L274.0,1021.3 L275.5,1021.3 L277.0,1021.3 L278.5,1021.3 L280.0,1021.3 L281.5,1021.3 L283.0,1021.3 L284.5,1021.3 L286.0,1021.3 L287.5,1021.3 L289.0,1021.3 L290.5,1021.3 L292.0,1021.3 L293.5,1021.3 L295.0,1021.3 L296.5,1021.3 L298.0,1021.3 L299.5,1021.3 L301.0,1021.3 L302.5,1021.3 L304.0,1021.3 L305.5,1021.3 L307.0,1021.3 L308.5,1021.3 L310.0,1021.3 L311.5,1021.3 L313.0,1021.3 L314.5,1021.3 L316.0,1021.3 L317.5,1021.3 L319.0,1021.3 L320.5,1021.3 L322.0,1021.3 L323.5,1021.3 L325.0,1021.3 L326.5,1021.3 L328.0,1021.3 L329.5,1021.3 L331.0,1021.3 L332.5,1021.3 L334.0,1021.3 L335.5,1021.2 L337.0,1021.2 L338.5,1021.2 L340.0,1021.2 L341.5,1021.2 L343.0,1021.2 L344.5,1021.2 L346.0,1021.2 L347.5,1021.2 L349.0,1021.2 L350.5,1021.2 L352.0,1021.2 L353.5,1021.2 L355.0,1021.2 L356.5,1021.2 L358.0,1021.2 L359.5,1021.2 L361.0,1021.2 L362.5,1021.2 L364.0,1021.2 L365.5,1021.2 L367.0,1021.2 L368.5,1021.2 L370.0,1021.2 L371.5,1021.2 L373.0,1021.2 L374.5,1021.2 L376.0,1021.2 L377.5,1021.2 L379.0,1021.2 L380.5,1021.2 L382.0,1021.2 L383.5,1021.2 L385.0,1021.2 L386.5,1021.2 L388.0,1021.2 L389.5,1021.2 L391.0,1021.2 L392.5,1021.2 L394.0,1021.2 L395.5,1021.2 L397.0,1021.2 L398.5,1021.2 L400.0,1021.2 L401.5,1021.2 L403.0,1021.2 L404.5,1021.2 L406.0,1021.2 L407.5,1021.2 L409.0,1021.2 L410.5,1021.2 L412.0,1021.2 L413.5,1021.2 L415.0,1021.2 L416.5,1021.2 L418.0,1021.2 L419.5,1021.2 L421.0,1021.2 L422.5,1021.2 L424.0,1021.2 L425.5,1021.2 L427.0,1021.2 L428.5,1021.2 L430.0,1021.2 L431.5,1021.2 L433.0,1021.2 L434.5,1021.2 L436.0,1021.2 L437.5,1021.2 L439.0,1021.2 L440.5,1021.2 L442.0,1021.2 L443.5,1021.2 L445.0,1021.2 L446.5,1021.2 L448.0,1021.2 L449.5,1021.2 L451.0,1021.2 L452.5,1021.2 L454.0,1021.2 L455.5,1021.2 L457.0,1021.2 L458.5,1021.2 L460.0,1021.2 L461.5,1021.2 L463.0,1021.2 L464.5,1021.2 L466.0,1021.2 L467.5,1021.2 L469.0,1021.2 L470.5,1021.2 L472.0,1021.2 L473.5,1021.2 L475.0,1021.2 L476.5,1021.2 L478.0,1021.2 L479.5,1021.2 L481.0,1021.2 L482.5,1021.2 L484.0,1021.2 L485.5,1021.2 L487.0,1021.2 L488.5,1021.2 L490.0,1021.2 L491.5,1021.2 L493.0,1021.2 L494.5,1021.2 L496.0,1021.2 L497.5,1021.2 L499.0,1021.2 L500.5,1021.2 L502.0,1021.2 L503.5,1021.2 L505.0,1021.2 L506.5,1021.2 L508.0,1021.2 L509.5,1021.2 L511.0,1021.2 L512.5,1021.2 L514.0,1021.2 L515.5,1021.2 L517.0,1021.2 L518.5,1021.2 L520.0,1021.2 L521.5,1021.2 L523.0,1021.2 L524.5,1021.2 L526.0,1021.2 L527.5,1021.2 L529.0,1021.2 L530.5,1021.2 L532.0,1021.2 L533.5,1021.2 L535.0,1021.2 L536.5,1021.2 L538.0,1021.2 L539.5,1021.2 L541.0,1021.2 L542.5,1021.2 L544.0,1021.2 L545.5,1021.2 L547.0,1021.2 L548.5,1021.2 L550.0,1021.2 L551.5,1021.2 L553.0,1021.2 L554.5,1021.2 L556.0,1021.2 L557.5,1021.2 L559.0,1021.2 L560.5,1021.2 L562.0,1021.2 L563.5,1021.2 L565.0,1021.2 L566.5,1021.2 L568.0,1021.2 L569.5,1021.2 L571.0,1021.2 L572.5,1021.2 L574.0,1021.2 L575.5,1021.2 L577.0,1021.2 L578.5,1021.2 L580.0,1021.2 L581.5,1021.2 L583.0,1021.2 L584.5,1021.2 L586.0,1021.2 L587.5,1021.2 L589.0,1021.2 L590.5,1021.2 L592.0,1021.2 L593.5,1021.2 L595.0,1021.2 L596.5,1021.2 L598.0,1021.2 L599.5,1021.2 L601.0,1021.2 L602.5,1021.2 L604.0,1021.2 L605.5,1021.2 L607.0,1021.2 L608.5,1021.2 L610.0,1021.2 L611.5,1021.2 L613.0,1021.2 L614.5,1021.2 L616.0,1021.2 L617.5,1021.2 L619.0,1021.2 L620.5,1021.2 L622.0,1021.2 L623.5,1021.2 L625.0,1021.2 L626.5,1021.2 L628.0,1021.2 L629.5,1021.2 L631.0,1021.2 L632.5,1021.2 L634.0,1021.2 L635.5,1021.2 L637.0,1021.2 L638.5,1021.1 L640.0,1021.1 L641.5,1021.1 L643.0,1021.1 L644.5,1021.1 L646.0,1021.1 L647.5,1021.1 L649.0,1021.1 L650.5,1021.1 L652.0,1021.1 L653.5,1021.1 L655.0,1021.1 L656.5,1021.1 L658.0,1021.1 L659.5,1021.1 L661.0,1021.1 L662.5,1021.1 L664.0,1021.1 L665.5,1021.1 L667.0,1021.1 L668.5,1021.1 L670.0,1021.1 L671.5,1021.1 L673.0,1021.1 L674.5,1021.1 L676.0,1021.1 L677.5,1021.1 L679.0,1021.1 L680.5,1021.1 L682.0,1021.1 L683.5,1021.1 L685.0,1021.1 L686.5,1021.1 L688.0,1021.1 L689.5,1021.1 L691.0,1021.1 L692.5,1021.1 L694.0,1021.1 L695.5,1021.1 L697.0,1021.1 L698.5,1021.1 L700.0,1021.1 L701.5,1021.1 L703.0,1021.1 L704.5,1021.1 L706.0,1021.1 L707.5,1021.1 L709.0,1021.1 L710.5,1021.1 L712.0,1021.1 L713.5,1021.1 L715.0,1021.1 L716.5,1021.1 L718.0,1021.1 L719.5,1021.1 L721.0,1021.1 L722.5,1021.1 L724.0,1021.1 L725.5,1021.1 L727.0,1021.1 L728.5,1021.1 L730.0,1021.1 L731.5,1021.0 L733.0,1021.0 L734.5,1021.0 L736.0,1021.0 L737.5,1021.0 L739.0,1021.0 L740.5,1021.0 L742.0,1021.0 L743.5,1021.0 L745.0,1021.0 L746.5,1021.0 L748.0,1021.0 L749.5,1021.0 L751.0,1021.0 L752.5,1021.0 L754.0,1021.0 L755.5,1021.0 L757.0,1021.0 L758.5,1021.0 L760.0,1021.0 L761.5,1021.0 L763.0,1021.0 L764.5,1021.0 L766.0,1021.0 L767.5,1021.0 L769.0,1021.0 L770.5,1021.0 L772.0,1021.0 L773.5,1021.0 L775.0,1021.0 L776.5,1021.0 L778.0,1021.0 L779.5,1021.0 L781.0,1021.0 L782.5,1020.9 L784.0,1020.9 L785.5,1020.9 L787.0,1020.9 L788.5,1020.9 L790.0,1020.9 L791.5,1020.9 L793.0,1020.9 L794.5,1020.9 L796.0,1020.9 L797.5,1020.9 L799.0,1020.9 L800.5,1020.9 L802.0,1020.9 L803.5,1020.9 L805.0,1020.9 L806.5,1020.9 L808.0,1020.9 L809.5,1020.9 L811.0,1020.9 L812.5,1020.9 L814.0,1020.8 L815.5,1020.8 L817.0,1020.8 L818.5,1020.8 L820.0,1020.8 L821.5,1020.8 L823.0,1020.8 L824.5,1020.8 L826.0,1020.8 L827.5,1020.8 L829.0,1020.8 L830.5,1020.8 L832.0,1020.8 L833.5,1020.8 L835.0,1020.8 L836.5,1020.7 L838.0,1020.7 L839.5,1020.7 L841.0,1020.7 L842.5,1020.7 L844.0,1020.7 L845.5,1020.7 L847.0,1020.7 L848.5,1020.7 L850.0,1020.7 L851.5,1020.7 L853.0,1020.7 L854.5,1020.6 L856.0,1020.6 L857.5,1020.6 L859.0,1020.6 L860.5,1020.6 L862.0,1020.6 L863.5,1020.6 L865.0,1020.6 L866.5,1020.6 L868.0,1020.5 L869.5,1020.5 L871.0,1020.5 L872.5,1020.5 L874.0,1020.5 L875.5,1020.5 L877.0,1020.5 L878.5,1020.5 L880.0,1020.4 L881.5,1020.4 L883.0,1020.4 L884.5,1020.4 L886.0,1020.4 L887.5,1020.4 L889.0,1020.3 L890.5,1020.3 L892.0,1020.3 L893.5,1020.3 L895.0,1020.3 L896.5,1020.3 L898.0,1020.2 L899.5,1020.2 L901.0,1020.2 L902.5,1020.2 L904.0,1020.1 L905.5,1020.1 L907.0,1020.1 L908.5,1020.1 L910.0,1020.1 L911.5,1020.0 L913.0,1020.0 L914.5,1020.0 L916.0,1019.9 L917.5,1019.9 L919.0,1019.9 L920.5,1019.9 L922.0,1019.8 L923.5,1019.8 L925.0,1019.7 L926.5,1019.7 L928.0,1019.7 L929.5,1019.6 L931.0,1019.6 L932.5,1019.5 L934.0,1019.5 L935.5,1019.4 L937.0,1019.4 L938.5,1019.3 L940.0,1019.2 L941.5,1019.2 L943.0,1019.1 L944.5,1019.0 L946.0,1018.9 L947.5,1018.7 L949.0,1018.6 L950.5,1018.4 L952.0,1018.3 L953.5,1018.1 L955.0,1017.8 L956.5,1017.6 L958.0,1017.2 L959.5,1016.9 L961.0,1016.4 L962.5,1016.0 L964.0,1015.4 L965.5,1014.7 L967.0,1014.0 L968.5,1013.1 L970.0,1012.1 L971.5,1011.0 L973.0,1009.6 L974.5,1008.1 L976.0,1006.4 L977.5,1004.4 L979.0,1002.2 L980.5,999.7 L982.0,996.9 L983.5,993.7 L985.0,990.1 L986.5,986.2 L988.0,981.7 L989.5,976.8 L991.0,971.4 L992.5,965.4 L994.0,958.9 L995.5,951.7 L997.0,943.9 L998.5,935.4 L1000.0,926.2 L1001.5,916.3 L1003.0,905.7 L1004.5,894.4 L1006.0,882.3 L1007.5,869.5 L1009.0,856.1 L1010.5,841.9 L1012.0,827.1 L1013.5,811.6 L1015.0,795.6 L1016.5,779.1 L1018.0,762.2 L1019.5,744.9 L1021.0,727.3 L1022.5,709.5 L1024.0,691.7 L1025.5,673.9 L1027.0,656.2 L1028.5,638.8 L1030.0,621.8 L1031.5,605.4 L1033.0,589.6 L1034.5,574.6 L1036.0,560.5 L1037.5,547.4 L1039.0,535.5 L1040.5,524.8 L1042.0,515.6 L1043.5,507.8 L1045.0,501.5 L1046.5,496.9 L1048.0,493.9 L1049.5,492.6 L1051.0,493.0 L1052.5,495.1 L1054.0,498.9 L1055.5,504.4 L1057.0,511.4 L1058.5,520.0 L1060.0,530.0 L1061.5,541.3 L1063.0,553.9 L1064.5,567.6 L1066.0,582.3 L1067.5,597.8 L1069.0,614.0 L1070.5,630.9 L1072.0,648.2 L1073.5,665.8 L1075.0,683.6 L1076.5,701.6 L1078.0,719.5 L1079.5,737.2 L1081.0,754.7 L1082.5,771.9 L1084.0,788.7 L1085.5,805.0 L1087.0,820.8 L1088.5,835.9 L1090.0,850.4 L1091.5,864.3 L1093.0,877.4 L1094.5,889.8 L1096.0,901.5 L1097.5,912.4 L1099.0,922.6 L1100.5,932.1 L1102.0,940.9 L1103.5,949.0 L1105.0,956.4 L1106.5,963.2 L1108.0,969.4 L1109.5,975.0 L1111.0,980.2 L1112.5,984.8 L1114.0,988.9 L1115.5,992.6 L1117.0,995.9 L1118.5,998.9 L1120.0,1001.5 L1121.5,1003.8 L1123.0,1005.9 L1124.5,1007.6 L1126.0,1009.2 L1127.5,1010.6 L1129.0,1011.8 L1130.5,1012.9 L1132.0,1013.8 L1133.5,1014.5 L1135.0,1015.2 L1136.5,1015.8 L1138.0,1016.3 L1138.0,1021.3 L175.0,1021.3 Z" fill="#008000" fill-opacity="0.15" stroke="none"/><path d="M175.0,1020.8 L176.5,1020.8 L178.0,1020.8 L179.5,1020.8 L181.0,1020.8 L182.5,1020.8 L184.0,1020.8 L185.5,1020.8 L187.0,1020.8 L188.5,1020.8 L190.0,1020.8 L191.5,1020.8 L193.0,1020.8 L194.5,1020.8 L196.0,1020.8 L197.5,1020.7 L199.0,1020.7 L200.5,1020.7 L202.0,1020.7 L203.5,1020.7 L205.0,1020.7 L206.5,1020.7 L208.0,1020.7 L209.5,1020.7 L211.0,1020.7 L212.5,1020.7 L214.0,1020.7 L215.5,1020.7 L217.0,1020.7 L218.5,1020.6 L220.0,1020.6 L221.5,1020.6 L223.0,1020.6 L224.5,1020.6 L226.0,1020.6 L227.5,1020.6 L229.0,1020.6 L230.5,1020.6 L232.0,1020.6 L233.5,1020.6 L235.0,1020.5 L236.5,1020.5 L238.0,1020.5 L239.5,1020.5 L241.0,1020.5 L242.5,1020.5 L244.0,1020.5 L245.5,1020.5 L247.0,1020.5 L248.5,1020.4 L250.0,1020.4 L251.5,1020.4 L253.0,1020.4 L254.5,1020.4 L256.0,1020.4 L257.5,1020.4 L259.0,1020.3 L260.5,1020.3 L262.0,1020.3 L263.5,1020.3 L265.0,1020.3 L266.5,1020.2 L268.0,1020.2 L269.5,1020.2 L271.0,1020.2 L272.5,1020.1 L274.0,1020.1 L275.5,1020.1 L277.0,1020.0 L278.5,1020.0 L280.0,1020.0 L281.5,1019.9 L283.0,1019.9 L284.5,1019.8 L286.0,1019.8 L287.5,1019.7 L289.0,1019.7 L290.5,1019.6 L292.0,1019.5 L293.5,1019.5 L295.0,1019.4 L296.5,1019.3 L298.0,1019.2 L299.5,1019.1 L301.0,1018.9 L302.5,1018.8 L304.0,1018.7 L305.5,1018.5 L307.0,1018.3 L308.5,1018.1 L310.0,1017.9 L311.5,1017.7 L313.0,1017.4 L314.5,1017.2 L316.0,1016.9 L317.5,1016.5 L319.0,1016.2 L320.5,1015.8 L322.0,1015.4 L323.5,1014.9 L325.0,1014.4 L326.5,1013.9 L328.0,1013.3 L329.5,1012.7 L331.0,1012.0 L332.5,1011.3 L334.0,1010.5 L335.5,1009.7 L337.0,1008.8 L338.5,1007.8 L340.0,1006.7 L341.5,1005.6 L343.0,1004.4 L344.5,1003.1 L346.0,1001.8 L347.5,1000.3 L349.0,998.7 L350.5,997.1 L352.0,995.3 L353.5,993.5 L355.0,991.5 L356.5,989.4 L358.0,987.2 L359.5,984.9 L361.0,982.4 L362.5,979.9 L364.0,977.2 L365.5,974.3 L367.0,971.4 L368.5,968.3 L370.0,965.0 L371.5,961.7 L373.0,958.2 L374.5,954.5 L376.0,950.7 L377.5,946.8 L379.0,942.8 L380.5,938.6 L382.0,934.3 L383.5,929.9 L385.0,925.3 L386.5,920.6 L388.0,915.9 L389.5,911.0 L391.0,906.0 L392.5,901.0 L394.0,895.9 L395.5,890.7 L397.0,885.4 L398.5,880.1 L400.0,874.7 L401.5,869.3 L403.0,863.9 L404.5,858.5 L406.0,853.2 L407.5,847.8 L409.0,842.5 L410.5,837.2 L412.0,832.0 L413.5,826.8 L415.0,821.8 L416.5,816.9 L418.0,812.1 L419.5,807.4 L421.0,802.9 L422.5,798.6 L424.0,794.5 L425.5,790.5 L427.0,786.8 L428.5,783.3 L430.0,780.1 L431.5,777.1 L433.0,774.3 L434.5,771.9 L436.0,769.7 L437.5,767.8 L439.0,766.2 L440.5,764.9 L442.0,764.0 L443.5,763.3 L445.0,763.0 L446.5,763.0 L448.0,763.3 L449.5,763.8 L451.0,764.7 L452.5,765.9 L454.0,767.3 L455.5,769.0 L457.0,771.0 L458.5,773.3 L460.0,775.8 L461.5,778.6 L463.0,781.6 L464.5,784.8 L466.0,788.2 L467.5,791.9 L469.0,795.7 L470.5,799.7 L472.0,803.9 L473.5,808.3 L475.0,812.8 L476.5,817.4 L478.0,822.1 L479.5,826.9 L481.0,831.9 L482.5,836.9 L484.0,841.9 L485.5,847.0 L487.0,852.2 L488.5,857.3 L490.0,862.5 L491.5,867.7 L493.0,872.9 L494.5,878.0 L496.0,883.1 L497.5,888.2 L499.0,893.2 L500.5,898.2 L502.0,903.1 L503.5,907.9 L505.0,912.6 L506.5,917.3 L508.0,921.8 L509.5,926.3 L511.0,930.6 L512.5,934.8 L514.0,939.0 L515.5,943.0 L517.0,946.8 L518.5,950.6 L520.0,954.2 L521.5,957.7 L523.0,961.1 L524.5,964.4 L526.0,967.5 L527.5,970.5 L529.0,973.4 L530.5,976.2 L532.0,978.8 L533.5,981.3 L535.0,983.7 L536.5,986.0 L538.0,988.2 L539.5,990.3 L541.0,992.2 L542.5,994.1 L544.0,995.8 L545.5,997.5 L547.0,999.1 L548.5,1000.5 L550.0,1001.9 L551.5,1003.2 L553.0,1004.5 L554.5,1005.6 L556.0,1006.7 L557.5,1007.7 L559.0,1008.6 L560.5,1009.5 L562.0,1010.3 L563.5,1011.1 L565.0,1011.8 L566.5,1012.5 L568.0,1013.1 L569.5,1013.7 L571.0,1014.2 L572.5,1014.7 L574.0,1015.1 L575.5,1015.6 L577.0,1016.0 L578.5,1016.3 L580.0,1016.6 L581.5,1016.9 L583.0,1017.2 L584.5,1017.5 L586.0,1017.7 L587.5,1017.9 L589.0,1018.1 L590.5,1018.3 L592.0,1018.5 L593.5,1018.6 L595.0,1018.8 L596.5,1018.9 L598.0,1019.0 L599.5,1019.1 L601.0,1019.2 L602.5,1019.3 L604.0,1019.4 L605.5,1019.5 L607.0,1019.6 L608.5,1019.6 L610.0,1019.7 L611.5,1019.8 L613.0,1019.8 L614.5,1019.9 L616.0,1019.9 L617.5,1019.9 L619.0,1020.0 L620.5,1020.0 L622.0,1020.1 L623.5,1020.1 L625.0,1020.1 L626.5,1020.1 L628.0,1020.2 L629.5,1020.2 L631.0,1020.2 L632.5,1020.2 L634.0,1020.3 L635.5,1020.3 L637.0,1020.3 L638.5,1020.3 L640.0,1020.3 L641.5,1020.3 L643.0,1020.4 L644.5,1020.4 L646.0,1020.4 L647.5,1020.4 L649.0,1020.4 L650.5,1020.4 L652.0,1020.4 L653.5,1020.5 L655.0,1020.5 L656.5,1020.5 L658.0,1020.5 L659.5,1020.5 L661.0,1020.5 L662.5,1020.5 L664.0,1020.5 L665.5,1020.5 L667.0,1020.6 L668.5,1020.6 L670.0,1020.6 L671.5,1020.6 L673.0,1020.6 L674.5,1020.6 L676.0,1020.6 L677.5,1020.6 L679.0,1020.6 L680.5,1020.6 L682.0,1020.6 L683.5,1020.7 L685.0,1020.7 L686.5,1020.7 L688.0,1020.7 L689.5,1020.7 L691.0,1020.7 L692.5,1020.7 L694.0,1020.7 L695.5,1020.7 L697.0,1020.7 L698.5,1020.7 L700.0,1020.7 L701.5,1020.7 L703.0,1020.7 L704.5,1020.7 L706.0,1020.8 L707.5,1020.8 L709.0,1020.8 L710.5,1020.8 L712.0,1020.8 L713.5,1020.8 L715.0,1020.8 L716.5,1020.8 L718.0,1020.8 L719.5,1020.8 L721.0,1020.8 L722.5,1020.8 L724.0,1020.8 L725.5,1020.8 L727.0,1020.8 L728.5,1020.8 L730.0,1020.8 L731.5,1020.8 L733.0,1020.8 L734.5,1020.9 L736.0,1020.9 L737.5,1020.9 L739.0,1020.9 L740.5,1020.9 L742.0,1020.9 L743.5,1020.9 L745.0,1020.9 L746.5,1020.9 L748.0,1020.9 L749.5,1020.9 L751.0,1020.9 L752.5,1020.9 L754.0,1020.9 L755.5,1020.9 L757.0,1020.9 L758.5,1020.9 L760.0,1020.9 L761.5,1020.9 L763.0,1020.9 L764.5,1020.9 L766.0,1020.9 L767.5,1020.9 L769.0,1020.9 L770.5,1020.9 L772.0,1020.9 L773.5,1021.0 L775.0,1021.0 L776.5,1021.0 L778.0,1021.0 L779.5,1021.0 L781.0,1021.0 L782.5,1021.0 L784.0,1021.0 L785.5,1021.0 L787.0,1021.0 L788.5,1021.0 L790.0,1021.0 L791.5,1021.0 L793.0,1021.0 L794.5,1021.0 L796.0,1021.0 L797.5,1021.0 L799.0,1021.0 L800.5,1021.0 L802.0,1021.0 L803.5,1021.0 L805.0,1021.0 L806.5,1021.0 L808.0,1021.0 L809.5,1021.0 L811.0,1021.0 L812.5,1021.0 L814.0,1021.0 L815.5,1021.0 L817.0,1021.0 L818.5,1021.0 L820.0,1021.0 L821.5,1021.0 L823.0,1021.0 L824.5,1021.0 L826.0,1021.0 L827.5,1021.0 L829.0,1021.0 L830.5,1021.0 L832.0,1021.0 L833.5,1021.0 L835.0,1021.1 L836.5,1021.1 L838.0,1021.1 L839.5,1021.1 L841.0,1021.1 L842.5,1021.1 L844.0,1021.1 L845.5,1021.1 L847.0,1021.1 L848.5,1021.1 L850.0,1021.1 L851.5,1021.1 L853.0,1021.1 L854.5,1021.1 L856.0,1021.1 L857.5,1021.1 L859.0,1021.1 L860.5,1021.1 L862.0,1021.1 L863.5,1021.1 L865.0,1021.1 L866.5,1021.1 L868.0,1021.1 L869.5,1021.1 L871.0,1021.1 L872.5,1021.1 L874.0,1021.1 L875.5,1021.1 L877.0,1021.1 L878.5,1021.1 L880.0,1021.1 L881.5,1021.1 L883.0,1021.1 L884.5,1021.1 L886.0,1021.1 L887.5,1021.1 L889.0,1021.1 L890.5,1021.1 L892.0,1021.1 L893.5,1021.1 L895.0,1021.1 L896.5,1021.1 L898.0,1021.1 L899.5,1021.1 L901.0,1021.1 L902.5,1021.1 L904.0,1021.1 L905.5,1021.1 L907.0,1021.1 L908.5,1021.1 L910.0,1021.1 L911.5,1021.1 L913.0,1021.1 L914.5,1021.1 L916.0,1021.1 L917.5,1021.1 L919.0,1021.1 L920.5,1021.1 L922.0,1021.1 L923.5,1021.1 L925.0,1021.1 L926.5,1021.1 L928.0,1021.1 L929.5,1021.1 L931.0,1021.1 L932.5,1021.1 L934.0,1021.1 L935.5,1021.1 L937.0,1021.1 L938.5,1021.1 L940.0,1021.1 L941.5,1021.1 L943.0,1021.1 L944.5,1021.1 L946.0,1021.1 L947.5,1021.1 L949.0,1021.1 L950.5,1021.2 L952.0,1021.2 L953.5,1021.2 L955.0,1021.2 L956.5,1021.2 L958.0,1021.2 L959.5,1021.2 L961.0,1021.2 L962.5,1021.2 L964.0,1021.2 L965.5,1021.2 L967.0,1021.2 L968.5,1021.2 L970.0,1021.2 L971.5,1021.2 L973.0,1021.2 L974.5,1021.2 L976.0,1021.2 L977.5,1021.2 L979.0,1021.2 L980.5,1021.2 L982.0,1021.2 L983.5,1021.2 L985.0,1021.2 L986.5,1021.2 L988.0,1021.2 L989.5,1021.2 L991.0,1021.2 L992.5,1021.2 L994.0,1021.2 L995.5,1021.2 L997.0,1021.2 L998.5,1021.2 L1000.0,1021.2 L1001.5,1021.2 L1003.0,1021.2 L1004.5,1021.2 L1006.0,1021.2 L1007.5,1021.2 L1009.0,1021.2 L1010.5,1021.2 L1012.0,1021.2 L1013.5,1021.2 L1015.0,1021.2 L1016.5,1021.2 L1018.0,1021.2 L1019.5,1021.2 L1021.0,1021.2 L1022.5,1021.2 L1024.0,1021.2 L1025.5,1021.2 L1027.0,1021.2 L1028.5,1021.2 L1030.0,1021.2 L1031.5,1021.2 L1033.0,1021.2 L1034.5,1021.2 L1036.0,1021.2 L1037.5,1021.2 L1039.0,1021.2 L1040.5,1021.2 L1042.0,1021.2 L1043.5,1021.2 L1045.0,1021.2 L1046.5,1021.2 L1048.0,1021.2 L1049.5,1021.2 L1051.0,1021.2 L1052.5,1021.2 L1054.0,1021.2 L1055.5,1021.2 L1057.0,1021.2 L1058.5,1021.2 L1060.0,1021.2 L1061.5,1021.2 L1063.0,1021.2 L1064.5,1021.2 L1066.0,1021.2 L1067.5,1021.2 L1069.0,1021.2 L1070.5,1021.2 L1072.0,1021.2 L1073.5,1021.2 L1075.0,1021.2 L1076.5,1021.2 L1078.0,1021.2 L1079.5,1021.2 L1081.0,1021.2 L1082.5,1021.2 L1084.0,1021.2 L1085.5,1021.2 L1087.0,1021.2 L1088.5,1021.2 L1090.0,1021.2 L1091.5,1021.2 L1093.0,1021.2 L1094.5,1021.2 L1096.0,1021.2 L1097.5,1021.2 L1099.0,1021.2 L1100.5,1021.2 L1102.0,1021.2 L1103.5,1021.2 L1105.0,1021.2 L1106.5,1021.2 L1108.0,1021.2 L1109.5,1021.2 L1111.0,1021.2 L1112.5,1021.2 L1114.0,1021.2 L1115.5,1021.2 L1117.0,1021.2 L1118.5,1021.2 L1120.0,1021.2 L1121.5,1021.2 L1123.0,1021.2 L1124.5,1021.2 L1126.0,1021.2 L1127.5,1021.2 L1129.0,1021.2 L1130.5,1021.2 L1132.0,1021.2 L1133.5,1021.2 L1135.0,1021.2 L1136.5,1021.2 L1138.0,1021.2 L1138.0,1021.3 L175.0,1021.3 Z" fill="#800080" fill-opacity="0.15" stroke="none"/><path d="M175.0,1021.1 L176.5,1021.1 L178.0,1021.1 L179.5,1021.1 L181.0,1021.1 L182.5,1021.1 L184.0,1021.1 L185.5,1021.1 L187.0,1021.1 L188.5,1021.1 L190.0,1021.1 L191.5,1021.1 L193.0,1021.1 L194.5,1021.1 L196.0,1021.1 L197.5,1021.1 L199.0,1021.1 L200.5,1021.1 L202.0,1021.0 L203.5,1021.0 L205.0,1021.0 L206.5,1021.0 L208.0,1021.0 L209.5,1021.0 L211.0,1021.0 L212.5,1021.0 L214.0,1021.0 L215.5,1021.0 L217.0,1021.0 L218.5,1021.0 L220.0,1021.0 L221.5,1021.0 L223.0,1021.0 L224.5,1021.0 L226.0,1021.0 L227.5,1021.0 L229.0,1021.0 L230.5,1021.0 L232.0,1021.0 L233.5,1021.0 L235.0,1021.0 L236.5,1021.0 L238.0,1021.0 L239.5,1021.0 L241.0,1021.0 L242.5,1021.0 L244.0,1021.0 L245.5,1021.0 L247.0,1021.0 L248.5,1021.0 L250.0,1021.0 L251.5,1021.0 L253.0,1021.0 L254.5,1021.0 L256.0,1021.0 L257.5,1021.0 L259.0,1021.0 L260.5,1021.0 L262.0,1021.0 L263.5,1021.0 L265.0,1021.0 L266.5,1021.0 L268.0,1021.0 L269.5,1021.0 L271.0,1021.0 L272.5,1020.9 L274.0,1020.9 L275.5,1020.9 L277.0,1020.9 L278.5,1020.9 L280.0,1020.9 L281.5,1020.9 L283.0,1020.9 L284.5,1020.9 L286.0,1020.9 L287.5,1020.9 L289.0,1020.9 L290.5,1020.9 L292.0,1020.9 L293.5,1020.9 L295.0,1020.9 L296.5,1020.9 L298.0,1020.9 L299.5,1020.9 L301.0,1020.9 L302.5,1020.9 L304.0,1020.9 L305.5,1020.9 L307.0,1020.9 L308.5,1020.9 L310.0,1020.9 L311.5,1020.9 L313.0,1020.9 L314.5,1020.9 L316.0,1020.9 L317.5,1020.8 L319.0,1020.8 L320.5,1020.8 L322.0,1020.8 L323.5,1020.8 L325.0,1020.8 L326.5,1020.8 L328.0,1020.8 L329.5,1020.8 L331.0,1020.8 L332.5,1020.8 L334.0,1020.8 L335.5,1020.8 L337.0,1020.8 L338.5,1020.8 L340.0,1020.8 L341.5,1020.8 L343.0,1020.8 L344.5,1020.8 L346.0,1020.8 L347.5,1020.8 L349.0,1020.7 L350.5,1020.7 L352.0,1020.7 L353.5,1020.7 L355.0,1020.7 L356.5,1020.7 L358.0,1020.7 L359.5,1020.7 L361.0,1020.7 L362.5,1020.7 L364.0,1020.7 L365.5,1020.7 L367.0,1020.7 L368.5,1020.7 L370.0,1020.7 L371.5,1020.7 L373.0,1020.6 L374.5,1020.6 L376.0,1020.6 L377.5,1020.6 L379.0,1020.6 L380.5,1020.6 L382.0,1020.6 L383.5,1020.6 L385.0,1020.6 L386.5,1020.6 L388.0,1020.6 L389.5,1020.6 L391.0,1020.6 L392.5,1020.5 L394.0,1020.5 L395.5,1020.5 L397.0,1020.5 L398.5,1020.5 L400.0,1020.5 L401.5,1020.5 L403.0,1020.5 L404.5,1020.5 L406.0,1020.5 L407.5,1020.5 L409.0,1020.4 L410.5,1020.4 L412.0,1020.4 L413.5,1020.4 L415.0,1020.4 L416.5,1020.4 L418.0,1020.4 L419.5,1020.4 L421.0,1020.4 L422.5,1020.3 L424.0,1020.3 L425.5,1020.3 L427.0,1020.3 L428.5,1020.3 L430.0,1020.3 L431.5,1020.3 L433.0,1020.3 L434.5,1020.2 L436.0,1020.2 L437.5,1020.2 L439.0,1020.2 L440.5,1020.2 L442.0,1020.2 L443.5,1020.1 L445.0,1020.1 L446.5,1020.1 L448.0,1020.1 L449.5,1020.1 L451.0,1020.1 L452.5,1020.0 L454.0,1020.0 L455.5,1020.0 L457.0,1020.0 L458.5,1020.0 L460.0,1019.9 L461.5,1019.9 L463.0,1019.9 L464.5,1019.9 L466.0,1019.8 L467.5,1019.8 L469.0,1019.8 L470.5,1019.8 L472.0,1019.7 L473.5,1019.7 L475.0,1019.7 L476.5,1019.6 L478.0,1019.6 L479.5,1019.5 L481.0,1019.5 L482.5,1019.4 L484.0,1019.4 L485.5,1019.3 L487.0,1019.3 L488.5,1019.2 L490.0,1019.1 L491.5,1019.1 L493.0,1019.0 L494.5,1018.9 L496.0,1018.8 L497.5,1018.7 L499.0,1018.5 L500.5,1018.4 L502.0,1018.2 L503.5,1018.1 L505.0,1017.9 L506.5,1017.7 L508.0,1017.5 L509.5,1017.2 L511.0,1016.9 L512.5,1016.6 L514.0,1016.3 L515.5,1015.9 L517.0,1015.5 L518.5,1015.1 L520.0,1014.6 L521.5,1014.0 L523.0,1013.4 L524.5,1012.8 L526.0,1012.0 L527.5,1011.2 L529.0,1010.4 L530.5,1009.4 L532.0,1008.4 L533.5,1007.2 L535.0,1006.0 L536.5,1004.6 L538.0,1003.2 L539.5,1001.6 L541.0,999.8 L542.5,997.9 L544.0,995.9 L545.5,993.7 L547.0,991.3 L548.5,988.7 L550.0,986.0 L551.5,983.0 L553.0,979.8 L554.5,976.4 L556.0,972.8 L557.5,968.9 L559.0,964.7 L560.5,960.3 L562.0,955.6 L563.5,950.6 L565.0,945.3 L566.5,939.8 L568.0,933.9 L569.5,927.7 L571.0,921.1 L572.5,914.3 L574.0,907.0 L575.5,899.5 L577.0,891.6 L578.5,883.4 L580.0,874.9 L581.5,866.0 L583.0,856.7 L584.5,847.2 L586.0,837.3 L587.5,827.2 L589.0,816.7 L590.5,805.9 L592.0,794.9 L593.5,783.6 L595.0,772.1 L596.5,760.3 L598.0,748.4 L599.5,736.3 L601.0,724.0 L602.5,711.7 L604.0,699.2 L605.5,686.7 L607.0,674.2 L608.5,661.7 L610.0,649.3 L611.5,636.9 L613.0,624.6 L614.5,612.5 L616.0,600.7 L617.5,589.0 L619.0,577.6 L620.5,566.6 L622.0,555.9 L623.5,545.6 L625.0,535.8 L626.5,526.4 L628.0,517.5 L629.5,509.2 L631.0,501.5 L632.5,494.4 L634.0,487.9 L635.5,482.1 L637.0,477.0 L638.5,472.6 L640.0,468.9 L641.5,466.0 L643.0,463.9 L644.5,462.6 L646.0,462.0 L647.5,462.2 L649.0,463.2 L650.5,464.9 L652.0,467.3 L653.5,470.5 L655.0,474.3 L656.5,478.9 L658.0,484.1 L659.5,490.0 L661.0,496.5 L662.5,503.6 L664.0,511.2 L665.5,519.5 L667.0,528.2 L668.5,537.4 L670.0,547.0 L671.5,557.1 L673.0,567.5 L674.5,578.3 L676.0,589.3 L677.5,600.7 L679.0,612.2 L680.5,624.0 L682.0,635.9 L683.5,647.9 L685.0,660.0 L686.5,672.2 L688.0,684.3 L689.5,696.5 L691.0,708.6 L692.5,720.6 L694.0,732.6 L695.5,744.4 L697.0,756.1 L698.5,767.5 L700.0,778.8 L701.5,789.9 L703.0,800.8 L704.5,811.3 L706.0,821.7 L707.5,831.7 L709.0,841.5 L710.5,851.0 L712.0,860.1 L713.5,869.0 L715.0,877.5 L716.5,885.7 L718.0,893.6 L719.5,901.2 L721.0,908.5 L722.5,915.4 L724.0,922.1 L725.5,928.4 L727.0,934.4 L728.5,940.1 L730.0,945.5 L731.5,950.6 L733.0,955.5 L734.5,960.1 L736.0,964.4 L737.5,968.4 L739.0,972.2 L740.5,975.8 L742.0,979.2 L743.5,982.3 L745.0,985.3 L746.5,988.0 L748.0,990.5 L749.5,992.9 L751.0,995.1 L752.5,997.2 L754.0,999.1 L755.5,1000.8 L757.0,1002.4 L758.5,1003.9 L760.0,1005.3 L761.5,1006.6 L763.0,1007.7 L764.5,1008.8 L766.0,1009.8 L767.5,1010.7 L769.0,1011.5 L770.5,1012.3 L772.0,1012.9 L773.5,1013.6 L775.0,1014.1 L776.5,1014.7 L778.0,1015.1 L779.5,1015.6 L781.0,1016.0 L782.5,1016.3 L784.0,1016.6 L785.5,1016.9 L787.0,1017.2 L788.5,1017.5 L790.0,1017.7 L791.5,1017.9 L793.0,1018.1 L794.5,1018.2 L796.0,1018.4 L797.5,1018.5 L799.0,1018.6 L800.5,1018.7 L802.0,1018.8 L803.5,1018.9 L805.0,1019.0 L806.5,1019.1 L808.0,1019.2 L809.5,1019.2 L811.0,1019.3 L812.5,1019.4 L814.0,1019.4 L815.5,1019.5 L817.0,1019.5 L818.5,1019.6 L820.0,1019.6 L821.5,1019.6 L823.0,1019.7 L824.5,1019.7 L826.0,1019.7 L827.5,1019.8 L829.0,1019.8 L830.5,1019.8 L832.0,1019.8 L833.5,1019.9 L835.0,1019.9 L836.5,1019.9 L838.0,1019.9 L839.5,1020.0 L841.0,1020.0 L842.5,1020.0 L844.0,1020.0 L845.5,1020.0 L847.0,1020.1 L848.5,1020.1 L850.0,1020.1 L851.5,1020.1 L853.0,1020.1 L854.5,1020.1 L856.0,1020.2 L857.5,1020.2 L859.0,1020.2 L860.5,1020.2 L862.0,1020.2 L863.5,1020.2 L865.0,1020.2 L866.5,1020.3 L868.0,1020.3 L869.5,1020.3 L871.0,1020.3 L872.5,1020.3 L874.0,1020.3 L875.5,1020.3 L877.0,1020.3 L878.5,1020.4 L880.0,1020.4 L881.5,1020.4 L883.0,1020.4 L884.5,1020.4 L886.0,1020.4 L887.5,1020.4 L889.0,1020.4 L890.5,1020.4 L892.0,1020.5 L893.5,1020.5 L895.0,1020.5 L896.5,1020.5 L898.0,1020.5 L899.5,1020.5 L901.0,1020.5 L902.5,1020.5 L904.0,1020.5 L905.5,1020.5 L907.0,1020.5 L908.5,1020.6 L910.0,1020.6 L911.5,1020.6 L913.0,1020.6 L914.5,1020.6 L916.0,1020.6 L917.5,1020.6 L919.0,1020.6 L920.5,1020.6 L922.0,1020.6 L923.5,1020.6 L925.0,1020.6 L926.5,1020.6 L928.0,1020.7 L929.5,1020.7 L931.0,1020.7 L932.5,1020.7 L934.0,1020.7 L935.5,1020.7 L937.0,1020.7 L938.5,1020.7 L940.0,1020.7 L941.5,1020.7 L943.0,1020.7 L944.5,1020.7 L946.0,1020.7 L947.5,1020.7 L949.0,1020.7 L950.5,1020.7 L952.0,1020.7 L953.5,1020.8 L955.0,1020.8 L956.5,1020.8 L958.0,1020.8 L959.5,1020.8 L961.0,1020.8 L962.5,1020.8 L964.0,1020.8 L965.5,1020.8 L967.0,1020.8 L968.5,1020.8 L970.0,1020.8 L971.5,1020.8 L973.0,1020.8 L974.5,1020.8 L976.0,1020.8 L977.5,1020.8 L979.0,1020.8 L980.5,1020.8 L982.0,1020.8 L983.5,1020.8 L985.0,1020.8 L986.5,1020.9 L988.0,1020.9 L989.5,1020.9 L991.0,1020.9 L992.5,1020.9 L994.0,1020.9 L995.5,1020.9 L997.0,1020.9 L998.5,1020.9 L1000.0,1020.9 L1001.5,1020.9 L1003.0,1020.9 L1004.5,1020.9 L1006.0,1020.9 L1007.5,1020.9 L1009.0,1020.9 L1010.5,1020.9 L1012.0,1020.9 L1013.5,1020.9 L1015.0,1020.9 L1016.5,1020.9 L1018.0,1020.9 L1019.5,1020.9 L1021.0,1020.9 L1022.5,1020.9 L1024.0,1020.9 L1025.5,1020.9 L1027.0,1020.9 L1028.5,1020.9 L1030.0,1020.9 L1031.5,1020.9 L1033.0,1021.0 L1034.5,1021.0 L1036.0,1021.0 L1037.5,1021.0 L1039.0,1021.0 L1040.5,1021.0 L1042.0,1021.0 L1043.5,1021.0 L1045.0,1021.0 L1046.5,1021.0 L1048.0,1021.0 L1049.5,1021.0 L1051.0,1021.0 L1052.5,1021.0 L1054.0,1021.0 L1055.5,1021.0 L1057.0,1021.0 L1058.5,1021.0 L1060.0,1021.0 L1061.5,1021.0 L1063.0,1021.0 L1064.5,1021.0 L1066.0,1021.0 L1067.5,1021.0 L1069.0,1021.0 L1070.5,1021.0 L1072.0,1021.0 L1073.5,1021.0 L1075.0,1021.0 L1076.5,1021.0 L1078.0,1021.0 L1079.5,1021.0 L1081.0,1021.0 L1082.5,1021.0 L1084.0,1021.0 L1085.5,1021.0 L1087.0,1021.0 L1088.5,1021.0 L1090.0,1021.0 L1091.5,1021.0 L1093.0,1021.0 L1094.5,1021.0 L1096.0,1021.0 L1097.5,1021.0 L1099.0,1021.0 L1100.5,1021.0 L1102.0,1021.0 L1103.5,1021.0 L1105.0,1021.1 L1106.5,1021.1 L1108.0,1021.1 L1109.5,1021.1 L1111.0,1021.1 L1112.5,1021.1 L1114.0,1021.1 L1115.5,1021.1 L1117.0,1021.1 L1118.5,1021.1 L1120.0,1021.1 L1121.5,1021.1 L1123.0,1021.1 L1124.5,1021.1 L1126.0,1021.1 L1127.5,1021.1 L1129.0,1021.1 L1130.5,1021.1 L1132.0,1021.1 L1133.5,1021.1 L1135.0,1021.1 L1136.5,1021.1 L1138.0,1021.1 L1138.0,1021.3 L175.0,1021.3 Z" fill="#800080" fill-opacity="0.15" stroke="none"/><path d="M175.0,1021.0 L176.5,1021.0 L178.0,1021.0 L179.5,1021.0 L181.0,1021.0 L182.5,1021.0 L184.0,1021.0 L185.5,1021.0 L187.0,1021.0 L188.5,1021.0 L190.0,1021.0 L191.5,1021.0 L193.0,1021.0 L194.5,1021.0 L196.0,1021.0 L197.5,1021.0 L199.0,1021.0 L200.5,1021.0 L202.0,1021.0 L203.5,1021.0 L205.0,1021.0 L206.5,1021.0 L208.0,1021.0 L209.5,1021.0 L211.0,1021.0 L212.5,1021.0 L214.0,1021.0 L215.5,1021.0 L217.0,1021.0 L218.5,1021.0 L220.0,1021.0 L221.5,1021.0 L223.0,1021.0 L224.5,1021.0 L226.0,1021.0 L227.5,1021.0 L229.0,1021.0 L230.5,1021.0 L232.0,1021.0 L233.5,1021.0 L235.0,1021.0 L236.5,1021.0 L238.0,1021.0 L239.5,1021.0 L241.0,1021.0 L242.5,1021.0 L244.0,1021.0 L245.5,1020.9 L247.0,1020.9 L248.5,1020.9 L250.0,1020.9 L251.5,1020.9 L253.0,1020.9 L254.5,1020.9 L256.0,1020.9 L257.5,1020.9 L259.0,1020.9 L260.5,1020.9 L262.0,1020.9 L263.5,1020.9 L265.0,1020.9 L266.5,1020.9 L268.0,1020.9 L269.5,1020.9 L271.0,1020.9 L272.5,1020.9 L274.0,1020.9 L275.5,1020.9 L277.0,1020.9 L278.5,1020.9 L280.0,1020.9 L281.5,1020.9 L283.0,1020.9 L284.5,1020.9 L286.0,1020.9 L287.5,1020.9 L289.0,1020.9 L290.5,1020.9 L292.0,1020.9 L293.5,1020.9 L295.0,1020.9 L296.5,1020.9 L298.0,1020.9 L299.5,1020.9 L301.0,1020.9 L302.5,1020.9 L304.0,1020.9 L305.5,1020.9 L307.0,1020.9 L308.5,1020.9 L310.0,1020.9 L311.5,1020.9 L313.0,1020.9 L314.5,1020.9 L316.0,1020.9 L317.5,1020.9 L319.0,1020.9 L320.5,1020.9 L322.0,1020.9 L323.5,1020.9 L325.0,1020.8 L326.5,1020.8 L328.0,1020.8 L329.5,1020.8 L331.0,1020.8 L332.5,1020.8 L334.0,1020.8 L335.5,1020.8 L337.0,1020.8 L338.5,1020.8 L340.0,1020.8 L341.5,1020.8 L343.0,1020.8 L344.5,1020.8 L346.0,1020.8 L347.5,1020.8 L349.0,1020.8 L350.5,1020.8 L352.0,1020.8 L353.5,1020.8 L355.0,1020.8 L356.5,1020.8 L358.0,1020.8 L359.5,1020.8 L361.0,1020.8 L362.5,1020.8 L364.0,1020.8 L365.5,1020.8 L367.0,1020.8 L368.5,1020.8 L370.0,1020.8 L371.5,1020.8 L373.0,1020.8 L374.5,1020.8 L376.0,1020.8 L377.5,1020.8 L379.0,1020.8 L380.5,1020.8 L382.0,1020.7 L383.5,1020.7 L385.0,1020.7 L386.5,1020.7 L388.0,1020.7 L389.5,1020.7 L391.0,1020.7 L392.5,1020.7 L394.0,1020.7 L395.5,1020.7 L397.0,1020.7 L398.5,1020.7 L400.0,1020.7 L401.5,1020.7 L403.0,1020.7 L404.5,1020.7 L406.0,1020.7 L407.5,1020.7 L409.0,1020.7 L410.5,1020.7 L412.0,1020.7 L413.5,1020.7 L415.0,1020.7 L416.5,1020.7 L418.0,1020.7 L419.5,1020.7 L421.0,1020.7 L422.5,1020.7 L424.0,1020.7 L425.5,1020.6 L427.0,1020.6 L428.5,1020.6 L430.0,1020.6 L431.5,1020.6 L433.0,1020.6 L434.5,1020.6 L436.0,1020.6 L437.5,1020.6 L439.0,1020.6 L440.5,1020.6 L442.0,1020.6 L443.5,1020.6 L445.0,1020.6 L446.5,1020.6 L448.0,1020.6 L449.5,1020.6 L451.0,1020.6 L452.5,1020.6 L454.0,1020.6 L455.5,1020.6 L457.0,1020.6 L458.5,1020.6 L460.0,1020.5 L461.5,1020.5 L463.0,1020.5 L464.5,1020.5 L466.0,1020.5 L467.5,1020.5 L469.0,1020.5 L470.5,1020.5 L472.0,1020.5 L473.5,1020.5 L475.0,1020.5 L476.5,1020.5 L478.0,1020.5 L479.5,1020.5 L481.0,1020.5 L482.5,1020.5 L484.0,1020.5 L485.5,1020.5 L487.0,1020.5 L488.5,1020.4 L490.0,1020.4 L491.5,1020.4 L493.0,1020.4 L494.5,1020.4 L496.0,1020.4 L497.5,1020.4 L499.0,1020.4 L500.5,1020.4 L502.0,1020.4 L503.5,1020.4 L505.0,1020.4 L506.5,1020.4 L508.0,1020.4 L509.5,1020.4 L511.0,1020.3 L512.5,1020.3 L514.0,1020.3 L515.5,1020.3 L517.0,1020.3 L518.5,1020.3 L520.0,1020.3 L521.5,1020.3 L523.0,1020.3 L524.5,1020.3 L526.0,1020.3 L527.5,1020.3 L529.0,1020.3 L530.5,1020.3 L532.0,1020.2 L533.5,1020.2 L535.0,1020.2 L536.5,1020.2 L538.0,1020.2 L539.5,1020.2 L541.0,1020.2 L542.5,1020.2 L544.0,1020.2 L545.5,1020.2 L547.0,1020.2 L548.5,1020.2 L550.0,1020.1 L551.5,1020.1 L553.0,1020.1 L554.5,1020.1 L556.0,1020.1 L557.5,1020.1 L559.0,1020.1 L560.5,1020.1 L562.0,1020.1 L563.5,1020.1 L565.0,1020.0 L566.5,1020.0 L568.0,1020.0 L569.5,1020.0 L571.0,1020.0 L572.5,1020.0 L574.0,1020.0 L575.5,1020.0 L577.0,1020.0 L578.5,1019.9 L580.0,1019.9 L581.5,1019.9 L583.0,1019.9 L584.5,1019.9 L586.0,1019.9 L587.5,1019.9 L589.0,1019.9 L590.5,1019.8 L592.0,1019.8 L593.5,1019.8 L595.0,1019.8 L596.5,1019.8 L598.0,1019.8 L599.5,1019.8 L601.0,1019.7 L602.5,1019.7 L604.0,1019.7 L605.5,1019.7 L607.0,1019.7 L608.5,1019.7 L610.0,1019.7 L611.5,1019.6 L613.0,1019.6 L614.5,1019.6 L616.0,1019.6 L617.5,1019.6 L619.0,1019.6 L620.5,1019.5 L622.0,1019.5 L623.5,1019.5 L625.0,1019.5 L626.5,1019.5 L628.0,1019.5 L629.5,1019.4 L631.0,1019.4 L632.5,1019.4 L634.0,1019.4 L635.5,1019.4 L637.0,1019.3 L638.5,1019.3 L640.0,1019.3 L641.5,1019.3 L643.0,1019.3 L644.5,1019.2 L646.0,1019.2 L647.5,1019.2 L649.0,1019.2 L650.5,1019.1 L652.0,1019.1 L653.5,1019.1 L655.0,1019.1 L656.5,1019.0 L658.0,1019.0 L659.5,1019.0 L661.0,1019.0 L662.5,1018.9 L664.0,1018.9 L665.5,1018.9 L667.0,1018.9 L668.5,1018.8 L670.0,1018.8 L671.5,1018.8 L673.0,1018.7 L674.5,1018.7 L676.0,1018.7 L677.5,1018.6 L679.0,1018.6 L680.5,1018.6 L682.0,1018.5 L683.5,1018.5 L685.0,1018.4 L686.5,1018.4 L688.0,1018.4 L689.5,1018.3 L691.0,1018.3 L692.5,1018.2 L694.0,1018.2 L695.5,1018.1 L697.0,1018.0 L698.5,1018.0 L700.0,1017.9 L701.5,1017.9 L703.0,1017.8 L704.5,1017.7 L706.0,1017.6 L707.5,1017.6 L709.0,1017.5 L710.5,1017.4 L712.0,1017.3 L713.5,1017.2 L715.0,1017.1 L716.5,1016.9 L718.0,1016.8 L719.5,1016.7 L721.0,1016.5 L722.5,1016.4 L724.0,1016.2 L725.5,1016.0 L727.0,1015.8 L728.5,1015.6 L730.0,1015.4 L731.5,1015.2 L733.0,1014.9 L734.5,1014.6 L736.0,1014.3 L737.5,1014.0 L739.0,1013.7 L740.5,1013.3 L742.0,1012.9 L743.5,1012.5 L745.0,1012.0 L746.5,1011.5 L748.0,1011.0 L749.5,1010.4 L751.0,1009.8 L752.5,1009.1 L754.0,1008.4 L755.5,1007.7 L757.0,1006.8 L758.5,1006.0 L760.0,1005.0 L761.5,1004.0 L763.0,1003.0 L764.5,1001.8 L766.0,1000.6 L767.5,999.3 L769.0,997.9 L770.5,996.4 L772.0,994.8 L773.5,993.1 L775.0,991.3 L776.5,989.4 L778.0,987.3 L779.5,985.2 L781.0,982.9 L782.5,980.5 L784.0,977.9 L785.5,975.2 L787.0,972.3 L788.5,969.2 L790.0,966.0 L791.5,962.6 L793.0,959.1 L794.5,955.3 L796.0,951.4 L797.5,947.2 L799.0,942.8 L800.5,938.2 L802.0,933.4 L803.5,928.4 L805.0,923.2 L806.5,917.7 L808.0,911.9 L809.5,905.9 L811.0,899.7 L812.5,893.2 L814.0,886.4 L815.5,879.3 L817.0,872.0 L818.5,864.5 L820.0,856.6 L821.5,848.5 L823.0,840.1 L824.5,831.4 L826.0,822.4 L827.5,813.2 L829.0,803.7 L830.5,793.9 L832.0,783.8 L833.5,773.5 L835.0,762.9 L836.5,752.0 L838.0,740.9 L839.5,729.6 L841.0,718.0 L842.5,706.2 L844.0,694.2 L845.5,681.9 L847.0,669.5 L848.5,656.9 L850.0,644.1 L851.5,631.2 L853.0,618.1 L854.5,605.0 L856.0,591.7 L857.5,578.3 L859.0,564.8 L860.5,551.3 L862.0,537.8 L863.5,524.3 L865.0,510.7 L866.5,497.2 L868.0,483.8 L869.5,470.5 L871.0,457.2 L872.5,444.1 L874.0,431.1 L875.5,418.4 L877.0,405.8 L878.5,393.4 L880.0,381.3 L881.5,369.5 L883.0,358.0 L884.5,346.8 L886.0,336.0 L887.5,325.5 L889.0,315.5 L890.5,305.9 L892.0,296.7 L893.5,288.0 L895.0,279.8 L896.5,272.0 L898.0,264.9 L899.5,258.2 L901.0,252.2 L902.5,246.7 L904.0,241.8 L905.5,237.5 L907.0,233.8 L908.5,230.8 L910.0,228.4 L911.5,226.6 L913.0,225.5 L914.5,225.1 L916.0,225.3 L917.5,226.1 L919.0,227.5 L920.5,229.6 L922.0,232.3 L923.5,235.7 L925.0,239.6 L926.5,244.1 L928.0,249.2 L929.5,254.9 L931.0,261.2 L932.5,268.0 L934.0,275.3 L935.5,283.1 L937.0,291.4 L938.5,300.2 L940.0,309.4 L941.5,319.1 L943.0,329.1 L944.5,339.6 L946.0,350.4 L947.5,361.5 L949.0,373.0 L950.5,384.7 L952.0,396.7 L953.5,408.9 L955.0,421.4 L956.5,434.1 L958.0,446.9 L959.5,459.8 L961.0,472.9 L962.5,486.1 L964.0,499.4 L965.5,512.7 L967.0,526.0 L968.5,539.4 L970.0,552.7 L971.5,566.0 L973.0,579.3 L974.5,592.5 L976.0,605.6 L977.5,618.6 L979.0,631.5 L980.5,644.3 L982.0,656.9 L983.5,669.3 L985.0,681.6 L986.5,693.6 L988.0,705.5 L989.5,717.2 L991.0,728.6 L992.5,739.8 L994.0,750.8 L995.5,761.5 L997.0,772.0 L998.5,782.2 L1000.0,792.2 L1001.5,801.9 L1003.0,811.4 L1004.5,820.5 L1006.0,829.4 L1007.5,838.1 L1009.0,846.4 L1010.5,854.5 L1012.0,862.3 L1013.5,869.9 L1015.0,877.2 L1016.5,884.2 L1018.0,891.0 L1019.5,897.5 L1021.0,903.7 L1022.5,909.7 L1024.0,915.5 L1025.5,921.0 L1027.0,926.3 L1028.5,931.3 L1030.0,936.2 L1031.5,940.8 L1033.0,945.2 L1034.5,949.4 L1036.0,953.4 L1037.5,957.2 L1039.0,960.8 L1040.5,964.3 L1042.0,967.5 L1043.5,970.6 L1045.0,973.5 L1046.5,976.3 L1048.0,978.9 L1049.5,981.4 L1051.0,983.8 L1052.5,986.0 L1054.0,988.1 L1055.5,990.0 L1057.0,991.9 L1058.5,993.6 L1060.0,995.3 L1061.5,996.8 L1063.0,998.3 L1064.5,999.6 L1066.0,1000.9 L1067.5,1002.1 L1069.0,1003.2 L1070.5,1004.2 L1072.0,1005.2 L1073.5,1006.1 L1075.0,1007.0 L1076.5,1007.8 L1078.0,1008.5 L1079.5,1009.2 L1081.0,1009.9 L1082.5,1010.5 L1084.0,1011.0 L1085.5,1011.5 L1087.0,1012.0 L1088.5,1012.5 L1090.0,1012.9 L1091.5,1013.3 L1093.0,1013.7 L1094.5,1014.0 L1096.0,1014.3 L1097.5,1014.6 L1099.0,1014.9 L1100.5,1015.1 L1102.0,1015.4 L1103.5,1015.6 L1105.0,1015.8 L1106.5,1016.0 L1108.0,1016.2 L1109.5,1016.4 L1111.0,1016.5 L1112.5,1016.7 L1114.0,1016.8 L1115.5,1016.9 L1117.0,1017.0 L1118.5,1017.1 L1120.0,1017.3 L1121.5,1017.4 L1123.0,1017.4 L1124.5,1017.5 L1126.0,1017.6 L1127.5,1017.7 L1129.0,1017.8 L1130.5,1017.8 L1132.0,1017.9 L1133.5,1018.0 L1135.0,1018.0 L1136.5,1018.1 L1138.0,1018.1 L1138.0,1021.3 L175.0,1021.3 Z" fill="#800080" fill-opacity="0.15" stroke="none"/></g>
<g id="ticklabels"><text x="108.3" y="1084" font-size="41" text-anchor="middle">250</text><text x="268.3" y="1084" font-size="41" text-anchor="middle">300</text><text x="428.3" y="1084" font-size="41" text-anchor="middle">350</text><text x="588.3" y="1084" font-size="41" text-anchor="middle">400</text><text x="748.3" y="1084" font-size="41" text-anchor="middle">450</text><text x="908.3" y="1084" font-size="41" text-anchor="middle">500</text><text x="1068.3" y="1084" font-size="41" text-anchor="middle">550</text><text x="1228.3" y="1084" font-size="41" text-anchor="middle">600</text></g>
<!-- dashed markers -->
<g id="dash"><line x1="381.2" y1="557.1" x2="381.2" y2="1021.3" stroke="#008000" stroke-width="4.17" stroke-linecap="round" stroke-dasharray="33.16 33.16" stroke-dashoffset="16.58"/><line x1="447.2" y1="455.5" x2="447.2" y2="1021.3" stroke="#800080" stroke-width="4.17" stroke-linecap="round" stroke-dasharray="35.36 35.36" stroke-dashoffset="17.68"/><line x1="548.9" y1="396.7" x2="548.9" y2="1021.3" stroke="#008000" stroke-width="4.17" stroke-linecap="round" stroke-dasharray="34.70 34.70" stroke-dashoffset="17.35"/><line x1="645.0" y1="260.3" x2="645.0" y2="1021.3" stroke="#800080" stroke-width="4.17" stroke-linecap="round" stroke-dasharray="34.59 34.59" stroke-dashoffset="17.30"/><line x1="911.8" y1="105.6" x2="911.8" y2="1021.3" stroke="#800080" stroke-width="4.17" stroke-linecap="round" stroke-dasharray="32.70 32.70" stroke-dashoffset="16.35"/><line x1="993.7" y1="176.3" x2="993.7" y2="1021.3" stroke="#008000" stroke-width="4.17" stroke-linecap="round" stroke-dasharray="32.50 32.50" stroke-dashoffset="16.25"/><line x1="1048.7" y1="276.1" x2="1048.7" y2="1021.3" stroke="#008000" stroke-width="4.17" stroke-linecap="round" stroke-dasharray="33.87 33.87" stroke-dashoffset="16.94"/></g>
<g id="ann"><text x="382.3" y="488" fill="#008000" font-weight="bold" font-size="41" text-anchor="middle">Gl.</text><text x="382.5" y="534.8" fill="#008000" font-size="41" text-anchor="middle">335</text><text x="447.8" y="395" fill="#800080" font-weight="bold" font-size="41" text-anchor="middle">Non.</text><text x="449.5" y="441.8" fill="#800080" font-size="41" text-anchor="middle">356</text><text x="550.8" y="335" fill="#008000" font-weight="bold" font-size="41" text-anchor="middle">Gl.</text><text x="550.6" y="381.8" fill="#008000" font-size="41" text-anchor="middle">388</text><text x="646.5" y="195" fill="#800080" font-weight="bold" font-size="41" text-anchor="middle">Non.</text><text x="614.29" y="241.8" fill="#800080" font-size="41">4</text><path fill="#800080" d="M652.37,241.80 L648.77,241.80 L648.77,218.84 Q647.47,220.08 645.36,221.32 Q643.24,222.56 641.56,223.18 L641.56,219.70 Q644.59,218.28 646.85,216.26 Q649.11,214.23 650.05,212.33 L652.37,212.33 Z"/><text x="659.90" y="241.8" fill="#800080" font-size="41">8</text><text x="905.5" y="39.6" fill="#800080" font-weight="bold" font-size="41" text-anchor="middle">Non.</text><text x="906.7" y="86.4" fill="#800080" font-size="41" text-anchor="middle">502</text><text x="994" y="117" fill="#008000" font-weight="bold" font-size="41" text-anchor="middle">Gl.</text><text x="993.9" y="163.8" fill="#008000" font-size="41" text-anchor="middle">526</text><text x="1060.7" y="214" fill="#008000" font-weight="bold" font-size="41" text-anchor="middle">Gl.</text><text x="1060.4" y="260.8" fill="#008000" font-size="41" text-anchor="middle">544</text></g>
<!-- legend -->
<line x1="156" y1="137.2" x2="268.5" y2="137.2" stroke="#008000" stroke-width="8" stroke-linecap="round"/>
<line x1="156" y1="207.2" x2="268.5" y2="207.2" stroke="#800080" stroke-width="8" stroke-linecap="round"/>
<text x="293" y="153.5" font-size="50">Glauconite</text>
<text x="292.3" y="224" font-size="50">Nontronite</text>
<!-- axis labels -->
<text x="434" y="1156.7" font-size="50">Raman shift (cm</text><text x="798.8" y="1141" font-size="29">-</text><path d="M818.9,1141 L818.9,1120.4 L816.9,1120.4 C816,1122.6 814.4,1124.2 812.6,1125.2 L812.6,1127.9 C814,1127.3 815.4,1126.4 816.4,1125.3 L816.4,1141 Z" fill="#000"/><text x="827" y="1156.7" font-size="50">)</text>
<text transform="translate(47.6,686.5) rotate(-90)" font-size="50">Intensity (a.u.)</text>
</svg>
</body></html>
